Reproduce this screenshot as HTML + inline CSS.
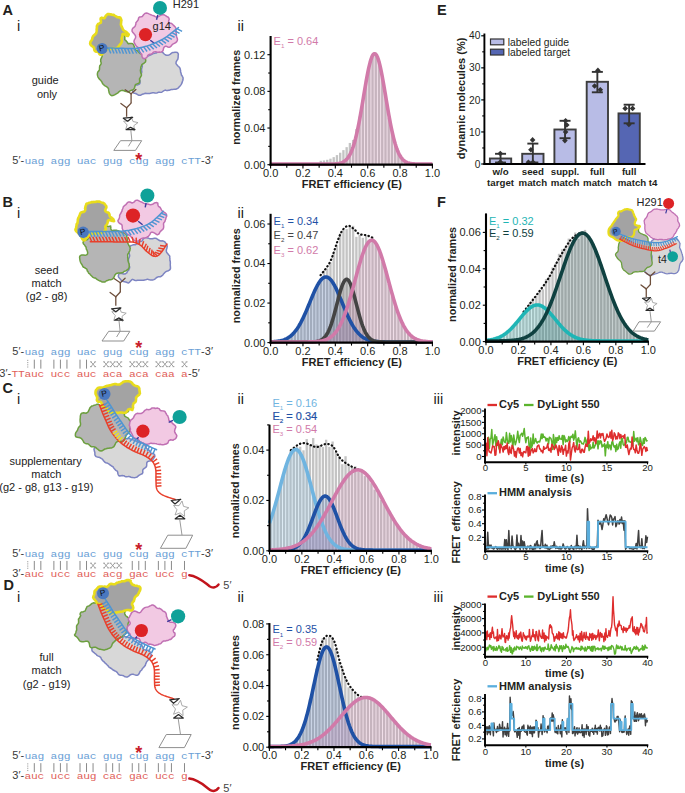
<!DOCTYPE html><html><head><meta charset="utf-8"><style>html,body{margin:0;padding:0;background:#fff;width:685px;height:793px;overflow:hidden}text{font-family:"Liberation Sans",sans-serif}</style></head><body><svg width="685" height="793" viewBox="0 0 685 793" style="position:absolute;left:0;top:0;font-family:'Liberation Sans',sans-serif">
<rect width="685" height="793" fill="#fff"/>
<rect x="319.59" y="160.77" width="2.34" height="3.93" fill="#c4c4c4"/>
<rect x="322.83" y="160.43" width="2.34" height="4.27" fill="#c4c4c4"/>
<rect x="326.06" y="159.78" width="2.34" height="4.92" fill="#c4c4c4"/>
<rect x="329.30" y="158.70" width="2.34" height="6.00" fill="#c4c4c4"/>
<rect x="332.53" y="157.13" width="2.34" height="7.57" fill="#c4c4c4"/>
<rect x="335.77" y="155.10" width="2.34" height="9.60" fill="#c4c4c4"/>
<rect x="339.01" y="152.72" width="2.34" height="11.98" fill="#c4c4c4"/>
<rect x="342.24" y="150.13" width="2.34" height="14.57" fill="#c4c4c4"/>
<rect x="345.48" y="147.15" width="2.34" height="17.55" fill="#c4c4c4"/>
<rect x="348.71" y="142.94" width="2.34" height="21.76" fill="#c4c4c4"/>
<rect x="351.95" y="139.94" width="2.34" height="24.76" fill="#c4c4c4"/>
<rect x="355.19" y="129.13" width="2.34" height="35.57" fill="#c4c4c4"/>
<rect x="358.42" y="116.63" width="2.34" height="48.07" fill="#c4c4c4"/>
<rect x="361.66" y="99.60" width="2.34" height="65.10" fill="#c4c4c4"/>
<rect x="364.89" y="79.57" width="2.34" height="85.13" fill="#c4c4c4"/>
<rect x="368.13" y="67.32" width="2.34" height="97.38" fill="#c4c4c4"/>
<rect x="371.37" y="56.55" width="2.34" height="108.15" fill="#c4c4c4"/>
<rect x="374.60" y="52.76" width="2.34" height="111.94" fill="#c4c4c4"/>
<rect x="377.84" y="61.16" width="2.34" height="103.54" fill="#c4c4c4"/>
<rect x="381.07" y="76.94" width="2.34" height="87.76" fill="#c4c4c4"/>
<rect x="384.31" y="94.83" width="2.34" height="69.87" fill="#c4c4c4"/>
<rect x="387.55" y="117.63" width="2.34" height="47.07" fill="#c4c4c4"/>
<rect x="390.78" y="130.83" width="2.34" height="33.87" fill="#c4c4c4"/>
<rect x="394.02" y="144.79" width="2.34" height="19.91" fill="#c4c4c4"/>
<rect x="397.25" y="153.66" width="2.34" height="11.04" fill="#c4c4c4"/>
<rect x="400.49" y="158.76" width="2.34" height="5.94" fill="#c4c4c4"/>
<rect x="403.73" y="161.85" width="2.34" height="2.85" fill="#c4c4c4"/>
<rect x="406.96" y="163.48" width="2.34" height="1.22" fill="#c4c4c4"/>
<rect x="410.20" y="164.22" width="2.34" height="0.48" fill="#c4c4c4"/>
<polygon points="270.60,164.70 270.60,164.70 271.41,164.70 272.22,164.70 273.03,164.70 273.84,164.70 274.65,164.70 275.45,164.70 276.26,164.70 277.07,164.70 277.88,164.70 278.69,164.70 279.50,164.70 280.31,164.70 281.12,164.70 281.93,164.70 282.74,164.70 283.54,164.70 284.35,164.70 285.16,164.70 285.97,164.70 286.78,164.70 287.59,164.70 288.40,164.70 289.21,164.70 290.02,164.70 290.83,164.70 291.63,164.70 292.44,164.70 293.25,164.70 294.06,164.70 294.87,164.70 295.68,164.70 296.49,164.70 297.30,164.70 298.11,164.70 298.92,164.70 299.72,164.70 300.53,164.70 301.34,164.70 302.15,164.70 302.96,164.70 303.77,164.70 304.58,164.70 305.39,164.70 306.20,164.70 307.00,164.70 307.81,164.70 308.62,164.70 309.43,164.70 310.24,164.70 311.05,164.70 311.86,164.70 312.67,164.70 313.48,164.70 314.29,164.70 315.10,164.70 315.90,164.70 316.71,164.70 317.52,164.70 318.33,164.70 319.14,164.70 319.95,164.70 320.76,164.70 321.57,164.70 322.38,164.70 323.19,164.70 323.99,164.70 324.80,164.69 325.61,164.69 326.42,164.69 327.23,164.69 328.04,164.68 328.85,164.68 329.66,164.67 330.47,164.66 331.28,164.64 332.08,164.62 332.89,164.60 333.70,164.57 334.51,164.53 335.32,164.48 336.13,164.41 336.94,164.33 337.75,164.23 338.56,164.10 339.37,163.95 340.17,163.76 340.98,163.53 341.79,163.24 342.60,162.90 343.41,162.49 344.22,162.00 345.03,161.42 345.84,160.74 346.65,159.93 347.46,159.00 348.26,157.92 349.07,156.67 349.88,155.25 350.69,153.63 351.50,151.80 352.31,149.75 353.12,147.46 353.93,144.93 354.74,142.15 355.55,139.11 356.35,135.80 357.16,132.25 357.97,128.45 358.78,124.41 359.59,120.16 360.40,115.72 361.21,111.12 362.02,106.39 362.83,101.58 363.64,96.73 364.44,91.89 365.25,87.11 366.06,82.46 366.87,77.98 367.68,73.73 368.49,69.78 369.30,66.18 370.11,62.97 370.92,60.21 371.73,57.93 372.53,56.18 373.34,54.98 374.15,54.34 374.96,54.28 375.77,54.80 376.58,55.90 377.39,57.54 378.20,59.71 379.01,62.38 379.82,65.50 380.62,69.03 381.43,72.92 382.24,77.11 383.05,81.55 383.86,86.17 384.67,90.93 385.48,95.76 386.29,100.61 387.10,105.44 387.91,110.18 388.71,114.81 389.52,119.29 390.33,123.58 391.14,127.66 391.95,131.51 392.76,135.11 393.57,138.47 394.38,141.56 395.19,144.40 396.00,146.98 396.80,149.31 397.61,151.41 398.42,153.28 399.23,154.94 400.04,156.40 400.85,157.68 401.66,158.80 402.47,159.76 403.28,160.59 404.09,161.29 404.89,161.89 405.70,162.40 406.51,162.82 407.32,163.18 408.13,163.47 408.94,163.72 409.75,163.91 410.56,164.08 411.37,164.21 412.18,164.31 412.98,164.40 413.79,164.46 414.60,164.52 415.41,164.56 416.22,164.59 417.03,164.62 417.84,164.64 418.65,164.65 419.46,164.67 420.27,164.67 421.07,164.68 421.88,164.69 422.69,164.69 423.50,164.69 424.31,164.69 425.12,164.70 425.93,164.70 426.74,164.70 427.55,164.70 428.36,164.70 429.16,164.70 429.97,164.70 430.78,164.70 431.59,164.70 432.40,164.70 432.40,164.70" fill="#d17aa9" fill-opacity="0.2"/>
<polyline points="270.60,164.10 271.41,164.10 272.22,164.10 273.03,164.10 273.84,164.10 274.65,164.10 275.45,164.10 276.26,164.10 277.07,164.10 277.88,164.10 278.69,164.10 279.50,164.10 280.31,164.10 281.12,164.10 281.93,164.10 282.74,164.10 283.54,164.10 284.35,164.10 285.16,164.10 285.97,164.10 286.78,164.10 287.59,164.10 288.40,164.10 289.21,164.10 290.02,164.10 290.83,164.10 291.63,164.10 292.44,164.10 293.25,164.10 294.06,164.10 294.87,164.10 295.68,164.10 296.49,164.10 297.30,164.10 298.11,164.10 298.92,164.10 299.72,164.10 300.53,164.10 301.34,164.10 302.15,164.10 302.96,164.10 303.77,164.10 304.58,164.10 305.39,164.10 306.20,164.10 307.00,164.10 307.81,164.10 308.62,164.10 309.43,164.10 310.24,164.10 311.05,164.10 311.86,164.10 312.67,164.10 313.48,164.10 314.29,164.10 315.10,164.10 315.90,164.10 316.71,164.10 317.52,164.10 318.33,164.10 319.14,164.10 319.95,164.10 320.76,164.10 321.57,164.10 322.38,164.10 323.19,164.10 323.99,164.10 324.80,164.09 325.61,164.09 326.42,164.09 327.23,164.09 328.04,164.08 328.85,164.08 329.66,164.07 330.47,164.06 331.28,164.04 332.08,164.02 332.89,164.00 333.70,163.97 334.51,163.93 335.32,163.88 336.13,163.81 336.94,163.73 337.75,163.63 338.56,163.50 339.37,163.35 340.17,163.16 340.98,162.93 341.79,162.64 342.60,162.30 343.41,161.89 344.22,161.40 345.03,160.82 345.84,160.14 346.65,159.33 347.46,158.40 348.26,157.32 349.07,156.07 349.88,154.65 350.69,153.03 351.50,151.20 352.31,149.15 353.12,146.86 353.93,144.33 354.74,141.55 355.55,138.51 356.35,135.20 357.16,131.65 357.97,127.85 358.78,123.81 359.59,119.56 360.40,115.12 361.21,110.52 362.02,105.79 362.83,100.98 363.64,96.13 364.44,91.29 365.25,86.51 366.06,81.86 366.87,77.38 367.68,73.13 368.49,69.18 369.30,65.58 370.11,62.37 370.92,59.61 371.73,57.33 372.53,55.58 373.34,54.38 374.15,53.74 374.96,53.68 375.77,54.20 376.58,55.30 377.39,56.94 378.20,59.11 379.01,61.78 379.82,64.90 380.62,68.43 381.43,72.32 382.24,76.51 383.05,80.95 383.86,85.57 384.67,90.33 385.48,95.16 386.29,100.01 387.10,104.84 387.91,109.58 388.71,114.21 389.52,118.69 390.33,122.98 391.14,127.06 391.95,130.91 392.76,134.51 393.57,137.87 394.38,140.96 395.19,143.80 396.00,146.38 396.80,148.71 397.61,150.81 398.42,152.68 399.23,154.34 400.04,155.80 400.85,157.08 401.66,158.20 402.47,159.16 403.28,159.99 404.09,160.69 404.89,161.29 405.70,161.80 406.51,162.22 407.32,162.58 408.13,162.87 408.94,163.12 409.75,163.31 410.56,163.48 411.37,163.61 412.18,163.71 412.98,163.80 413.79,163.86 414.60,163.92 415.41,163.96 416.22,163.99 417.03,164.02 417.84,164.04 418.65,164.05 419.46,164.07 420.27,164.07 421.07,164.08 421.88,164.09 422.69,164.09 423.50,164.09 424.31,164.09 425.12,164.10 425.93,164.10 426.74,164.10 427.55,164.10 428.36,164.10 429.16,164.10 429.97,164.10 430.78,164.10 431.59,164.10 432.40,164.10" fill="none" stroke="#d17aa9" stroke-width="3.6" stroke-linejoin="round"/>
<line x1="270.60" y1="36.00" x2="270.60" y2="165.80" stroke="#000" stroke-width="2.1" />
<line x1="269.60" y1="164.70" x2="433.00" y2="164.70" stroke="#000" stroke-width="2.2" />
<line x1="270.60" y1="164.70" x2="270.60" y2="168.40" stroke="#000" stroke-width="1.1" />
<line x1="286.78" y1="164.70" x2="286.78" y2="167.70" stroke="#000" stroke-width="1.1" />
<line x1="302.96" y1="164.70" x2="302.96" y2="168.40" stroke="#000" stroke-width="1.1" />
<line x1="319.14" y1="164.70" x2="319.14" y2="167.70" stroke="#000" stroke-width="1.1" />
<line x1="335.32" y1="164.70" x2="335.32" y2="168.40" stroke="#000" stroke-width="1.1" />
<line x1="351.50" y1="164.70" x2="351.50" y2="167.70" stroke="#000" stroke-width="1.1" />
<line x1="367.68" y1="164.70" x2="367.68" y2="168.40" stroke="#000" stroke-width="1.1" />
<line x1="383.86" y1="164.70" x2="383.86" y2="167.70" stroke="#000" stroke-width="1.1" />
<line x1="400.04" y1="164.70" x2="400.04" y2="168.40" stroke="#000" stroke-width="1.1" />
<line x1="416.22" y1="164.70" x2="416.22" y2="167.70" stroke="#000" stroke-width="1.1" />
<line x1="432.40" y1="164.70" x2="432.40" y2="168.40" stroke="#000" stroke-width="1.1" />
<line x1="267.40" y1="164.70" x2="270.60" y2="164.70" stroke="#000" stroke-width="1.1" />
<line x1="267.40" y1="128.03" x2="270.60" y2="128.03" stroke="#000" stroke-width="1.1" />
<line x1="267.40" y1="91.36" x2="270.60" y2="91.36" stroke="#000" stroke-width="1.1" />
<line x1="267.40" y1="54.70" x2="270.60" y2="54.70" stroke="#000" stroke-width="1.1" />
<line x1="268.20" y1="146.37" x2="270.60" y2="146.37" stroke="#000" stroke-width="1.1" />
<line x1="268.20" y1="109.70" x2="270.60" y2="109.70" stroke="#000" stroke-width="1.1" />
<line x1="268.20" y1="73.03" x2="270.60" y2="73.03" stroke="#000" stroke-width="1.1" />
<text transform="translate(265.40,168.60) scale(1,1.0)" font-size="11" font-weight="normal" text-anchor="end" fill="#231f20" >0.00</text>
<text transform="translate(265.40,131.93) scale(1,1.0)" font-size="11" font-weight="normal" text-anchor="end" fill="#231f20" >0.04</text>
<text transform="translate(265.40,95.26) scale(1,1.0)" font-size="11" font-weight="normal" text-anchor="end" fill="#231f20" >0.08</text>
<text transform="translate(265.40,58.60) scale(1,1.0)" font-size="11" font-weight="normal" text-anchor="end" fill="#231f20" >0.12</text>
<text transform="translate(270.60,176.80) scale(1,1.0)" font-size="11" font-weight="normal" text-anchor="middle" fill="#231f20" >0.0</text>
<text transform="translate(302.96,176.80) scale(1,1.0)" font-size="11" font-weight="normal" text-anchor="middle" fill="#231f20" >0.2</text>
<text transform="translate(335.32,176.80) scale(1,1.0)" font-size="11" font-weight="normal" text-anchor="middle" fill="#231f20" >0.4</text>
<text transform="translate(367.68,176.80) scale(1,1.0)" font-size="11" font-weight="normal" text-anchor="middle" fill="#231f20" >0.6</text>
<text transform="translate(400.04,176.80) scale(1,1.0)" font-size="11" font-weight="normal" text-anchor="middle" fill="#231f20" >0.8</text>
<text transform="translate(432.40,176.80) scale(1,1.0)" font-size="11" font-weight="normal" text-anchor="middle" fill="#231f20" >1.0</text>
<text transform="translate(351.90,187.80) scale(1,1.0)" font-size="11" font-weight="bold" text-anchor="middle" fill="#231f20" >FRET efficiency (E)</text>
<text transform="translate(240.30,97.20) rotate(-90) scale(1,1.0)" font-size="10.75" font-weight="bold" text-anchor="middle" fill="#231f20" >normalized frames</text>
<text transform="translate(273.60,45.10) scale(1,1.0)" font-size="11" font-weight="normal" text-anchor="start" fill="#d17aa9" >E<tspan font-size="6.2" dy="3.2">1</tspan><tspan dy="-3.2"> = 0.64</tspan></text>
<rect x="277.52" y="341.69" width="2.34" height="0.91" fill="#c4c4c4"/>
<rect x="280.76" y="340.97" width="2.34" height="1.63" fill="#c4c4c4"/>
<rect x="283.99" y="339.79" width="2.34" height="2.81" fill="#c4c4c4"/>
<rect x="287.23" y="338.18" width="2.34" height="4.42" fill="#c4c4c4"/>
<rect x="290.47" y="335.84" width="2.34" height="6.76" fill="#c4c4c4"/>
<rect x="293.70" y="332.54" width="2.34" height="10.06" fill="#c4c4c4"/>
<rect x="296.94" y="327.45" width="2.34" height="15.15" fill="#c4c4c4"/>
<rect x="300.17" y="321.09" width="2.34" height="21.51" fill="#c4c4c4"/>
<rect x="303.41" y="315.13" width="2.34" height="27.47" fill="#c4c4c4"/>
<rect x="306.65" y="309.07" width="2.34" height="33.53" fill="#c4c4c4"/>
<rect x="309.88" y="301.03" width="2.34" height="41.57" fill="#c4c4c4"/>
<rect x="313.12" y="289.47" width="2.34" height="53.13" fill="#c4c4c4"/>
<rect x="316.35" y="284.23" width="2.34" height="58.37" fill="#c4c4c4"/>
<rect x="319.59" y="278.48" width="2.34" height="64.12" fill="#c4c4c4"/>
<rect x="322.83" y="270.59" width="2.34" height="72.01" fill="#c4c4c4"/>
<rect x="326.06" y="268.53" width="2.34" height="74.07" fill="#c4c4c4"/>
<rect x="329.30" y="262.39" width="2.34" height="80.21" fill="#c4c4c4"/>
<rect x="332.53" y="253.13" width="2.34" height="89.47" fill="#c4c4c4"/>
<rect x="335.77" y="244.89" width="2.34" height="97.71" fill="#c4c4c4"/>
<rect x="339.01" y="233.45" width="2.34" height="109.15" fill="#c4c4c4"/>
<rect x="342.24" y="229.84" width="2.34" height="112.76" fill="#c4c4c4"/>
<rect x="345.48" y="229.10" width="2.34" height="113.50" fill="#c4c4c4"/>
<rect x="348.71" y="225.31" width="2.34" height="117.29" fill="#c4c4c4"/>
<rect x="351.95" y="225.83" width="2.34" height="116.77" fill="#c4c4c4"/>
<rect x="355.19" y="236.81" width="2.34" height="105.79" fill="#c4c4c4"/>
<rect x="358.42" y="234.97" width="2.34" height="107.63" fill="#c4c4c4"/>
<rect x="361.66" y="237.85" width="2.34" height="104.75" fill="#c4c4c4"/>
<rect x="364.89" y="235.77" width="2.34" height="106.83" fill="#c4c4c4"/>
<rect x="368.13" y="240.53" width="2.34" height="102.07" fill="#c4c4c4"/>
<rect x="371.37" y="238.04" width="2.34" height="104.56" fill="#c4c4c4"/>
<rect x="374.60" y="242.61" width="2.34" height="99.99" fill="#c4c4c4"/>
<rect x="377.84" y="250.37" width="2.34" height="92.23" fill="#c4c4c4"/>
<rect x="381.07" y="261.58" width="2.34" height="81.02" fill="#c4c4c4"/>
<rect x="384.31" y="270.95" width="2.34" height="71.65" fill="#c4c4c4"/>
<rect x="387.55" y="284.00" width="2.34" height="58.60" fill="#c4c4c4"/>
<rect x="390.78" y="295.82" width="2.34" height="46.78" fill="#c4c4c4"/>
<rect x="394.02" y="304.55" width="2.34" height="38.05" fill="#c4c4c4"/>
<rect x="397.25" y="315.32" width="2.34" height="27.28" fill="#c4c4c4"/>
<rect x="400.49" y="321.60" width="2.34" height="21.00" fill="#c4c4c4"/>
<rect x="403.73" y="328.25" width="2.34" height="14.35" fill="#c4c4c4"/>
<rect x="406.96" y="333.80" width="2.34" height="8.80" fill="#c4c4c4"/>
<rect x="410.20" y="336.54" width="2.34" height="6.06" fill="#c4c4c4"/>
<rect x="413.43" y="339.00" width="2.34" height="3.60" fill="#c4c4c4"/>
<rect x="416.67" y="340.38" width="2.34" height="2.22" fill="#c4c4c4"/>
<rect x="419.91" y="341.33" width="2.34" height="1.27" fill="#c4c4c4"/>
<rect x="423.14" y="341.94" width="2.34" height="0.66" fill="#c4c4c4"/>
<polygon points="270.60,342.60 270.60,342.41 271.41,342.38 272.22,342.34 273.03,342.29 273.84,342.24 274.65,342.17 275.45,342.10 276.26,342.02 277.07,341.92 277.88,341.81 278.69,341.68 279.50,341.54 280.31,341.38 281.12,341.20 281.93,340.99 282.74,340.76 283.54,340.50 284.35,340.21 285.16,339.88 285.97,339.52 286.78,339.12 287.59,338.68 288.40,338.19 289.21,337.65 290.02,337.07 290.83,336.43 291.63,335.73 292.44,334.97 293.25,334.15 294.06,333.26 294.87,332.30 295.68,331.28 296.49,330.19 297.30,329.02 298.11,327.78 298.92,326.47 299.72,325.09 300.53,323.64 301.34,322.11 302.15,320.52 302.96,318.87 303.77,317.16 304.58,315.39 305.39,313.57 306.20,311.70 307.00,309.80 307.81,307.87 308.62,305.91 309.43,303.94 310.24,301.97 311.05,300.01 311.86,298.06 312.67,296.13 313.48,294.25 314.29,292.42 315.10,290.64 315.90,288.94 316.71,287.32 317.52,285.79 318.33,284.37 319.14,283.06 319.95,281.87 320.76,280.81 321.57,279.89 322.38,279.12 323.19,278.50 323.99,278.03 324.80,277.73 325.61,277.58 326.42,277.60 327.23,277.77 328.04,278.11 328.85,278.61 329.66,279.26 330.47,280.07 331.28,281.01 332.08,282.10 332.89,283.31 333.70,284.64 334.51,286.09 335.32,287.63 336.13,289.27 336.94,290.99 337.75,292.78 338.56,294.62 339.37,296.52 340.17,298.45 340.98,300.40 341.79,302.37 342.60,304.34 343.41,306.30 344.22,308.26 345.03,310.18 345.84,312.08 346.65,313.93 347.46,315.75 348.26,317.50 349.07,319.21 349.88,320.85 350.69,322.42 351.50,323.93 352.31,325.37 353.12,326.74 353.93,328.04 354.74,329.26 355.55,330.41 356.35,331.49 357.16,332.50 357.97,333.44 358.78,334.31 359.59,335.12 360.40,335.87 361.21,336.56 362.02,337.19 362.83,337.77 363.64,338.29 364.44,338.77 365.25,339.20 366.06,339.60 366.87,339.95 367.68,340.27 368.49,340.55 369.30,340.81 370.11,341.03 370.92,341.24 371.73,341.41 372.53,341.57 373.34,341.71 374.15,341.83 374.96,341.94 375.77,342.03 376.58,342.11 377.39,342.19 378.20,342.25 379.01,342.30 379.82,342.35 380.62,342.39 381.43,342.42 382.24,342.45 383.05,342.47 383.86,342.49 384.67,342.51 385.48,342.53 386.29,342.54 387.10,342.55 387.91,342.56 388.71,342.56 389.52,342.57 390.33,342.58 391.14,342.58 391.95,342.58 392.76,342.59 393.57,342.59 394.38,342.59 395.19,342.59 396.00,342.59 396.80,342.60 397.61,342.60 398.42,342.60 399.23,342.60 400.04,342.60 400.85,342.60 401.66,342.60 402.47,342.60 403.28,342.60 404.09,342.60 404.89,342.60 405.70,342.60 406.51,342.60 407.32,342.60 408.13,342.60 408.94,342.60 409.75,342.60 410.56,342.60 411.37,342.60 412.18,342.60 412.98,342.60 413.79,342.60 414.60,342.60 415.41,342.60 416.22,342.60 417.03,342.60 417.84,342.60 418.65,342.60 419.46,342.60 420.27,342.60 421.07,342.60 421.88,342.60 422.69,342.60 423.50,342.60 424.31,342.60 425.12,342.60 425.93,342.60 426.74,342.60 427.55,342.60 428.36,342.60 429.16,342.60 429.97,342.60 430.78,342.60 431.59,342.60 432.40,342.60 432.40,342.60" fill="#1f51a5" fill-opacity="0.2"/>
<polygon points="270.60,342.60 270.60,342.60 271.41,342.60 272.22,342.60 273.03,342.60 273.84,342.60 274.65,342.60 275.45,342.60 276.26,342.60 277.07,342.60 277.88,342.60 278.69,342.60 279.50,342.60 280.31,342.60 281.12,342.60 281.93,342.60 282.74,342.60 283.54,342.60 284.35,342.60 285.16,342.60 285.97,342.60 286.78,342.60 287.59,342.60 288.40,342.60 289.21,342.60 290.02,342.60 290.83,342.60 291.63,342.60 292.44,342.60 293.25,342.60 294.06,342.60 294.87,342.60 295.68,342.60 296.49,342.60 297.30,342.60 298.11,342.60 298.92,342.60 299.72,342.60 300.53,342.60 301.34,342.60 302.15,342.60 302.96,342.60 303.77,342.60 304.58,342.59 305.39,342.59 306.20,342.59 307.00,342.58 307.81,342.58 308.62,342.57 309.43,342.56 310.24,342.54 311.05,342.52 311.86,342.50 312.67,342.46 313.48,342.42 314.29,342.36 315.10,342.28 315.90,342.18 316.71,342.06 317.52,341.90 318.33,341.71 319.14,341.47 319.95,341.17 320.76,340.81 321.57,340.37 322.38,339.85 323.19,339.22 323.99,338.48 324.80,337.61 325.61,336.61 326.42,335.45 327.23,334.12 328.04,332.62 328.85,330.93 329.66,329.05 330.47,326.98 331.28,324.71 332.08,322.26 332.89,319.63 333.70,316.84 334.51,313.91 335.32,310.87 336.13,307.75 336.94,304.59 337.75,301.43 338.56,298.32 339.37,295.30 340.17,292.42 340.98,289.74 341.79,287.30 342.60,285.15 343.41,283.32 344.22,281.87 345.03,280.80 345.84,280.16 346.65,279.94 347.46,280.16 348.26,280.80 349.07,281.87 349.88,283.32 350.69,285.15 351.50,287.30 352.31,289.74 353.12,292.42 353.93,295.30 354.74,298.32 355.55,301.43 356.35,304.59 357.16,307.75 357.97,310.87 358.78,313.91 359.59,316.84 360.40,319.63 361.21,322.26 362.02,324.71 362.83,326.98 363.64,329.05 364.44,330.93 365.25,332.62 366.06,334.12 366.87,335.45 367.68,336.61 368.49,337.61 369.30,338.48 370.11,339.22 370.92,339.85 371.73,340.37 372.53,340.81 373.34,341.17 374.15,341.47 374.96,341.71 375.77,341.90 376.58,342.06 377.39,342.18 378.20,342.28 379.01,342.36 379.82,342.42 380.62,342.46 381.43,342.50 382.24,342.52 383.05,342.54 383.86,342.56 384.67,342.57 385.48,342.58 386.29,342.58 387.10,342.59 387.91,342.59 388.71,342.59 389.52,342.60 390.33,342.60 391.14,342.60 391.95,342.60 392.76,342.60 393.57,342.60 394.38,342.60 395.19,342.60 396.00,342.60 396.80,342.60 397.61,342.60 398.42,342.60 399.23,342.60 400.04,342.60 400.85,342.60 401.66,342.60 402.47,342.60 403.28,342.60 404.09,342.60 404.89,342.60 405.70,342.60 406.51,342.60 407.32,342.60 408.13,342.60 408.94,342.60 409.75,342.60 410.56,342.60 411.37,342.60 412.18,342.60 412.98,342.60 413.79,342.60 414.60,342.60 415.41,342.60 416.22,342.60 417.03,342.60 417.84,342.60 418.65,342.60 419.46,342.60 420.27,342.60 421.07,342.60 421.88,342.60 422.69,342.60 423.50,342.60 424.31,342.60 425.12,342.60 425.93,342.60 426.74,342.60 427.55,342.60 428.36,342.60 429.16,342.60 429.97,342.60 430.78,342.60 431.59,342.60 432.40,342.60 432.40,342.60" fill="#444" fill-opacity="0.2"/>
<polygon points="270.60,342.60 270.60,342.60 271.41,342.60 272.22,342.60 273.03,342.60 273.84,342.60 274.65,342.60 275.45,342.60 276.26,342.60 277.07,342.60 277.88,342.60 278.69,342.60 279.50,342.60 280.31,342.60 281.12,342.60 281.93,342.60 282.74,342.60 283.54,342.60 284.35,342.60 285.16,342.60 285.97,342.60 286.78,342.60 287.59,342.60 288.40,342.60 289.21,342.60 290.02,342.60 290.83,342.60 291.63,342.60 292.44,342.60 293.25,342.60 294.06,342.60 294.87,342.60 295.68,342.60 296.49,342.60 297.30,342.60 298.11,342.59 298.92,342.59 299.72,342.59 300.53,342.59 301.34,342.59 302.15,342.58 302.96,342.58 303.77,342.58 304.58,342.57 305.39,342.56 306.20,342.56 307.00,342.55 307.81,342.53 308.62,342.52 309.43,342.51 310.24,342.49 311.05,342.47 311.86,342.44 312.67,342.41 313.48,342.37 314.29,342.33 315.10,342.28 315.90,342.23 316.71,342.16 317.52,342.09 318.33,342.00 319.14,341.90 319.95,341.78 320.76,341.65 321.57,341.50 322.38,341.33 323.19,341.14 323.99,340.92 324.80,340.67 325.61,340.39 326.42,340.07 327.23,339.72 328.04,339.32 328.85,338.88 329.66,338.39 330.47,337.85 331.28,337.25 332.08,336.59 332.89,335.86 333.70,335.06 334.51,334.19 335.32,333.23 336.13,332.20 336.94,331.08 337.75,329.86 338.56,328.55 339.37,327.15 340.17,325.64 340.98,324.03 341.79,322.31 342.60,320.49 343.41,318.56 344.22,316.53 345.03,314.38 345.84,312.14 346.65,309.79 347.46,307.35 348.26,304.81 349.07,302.18 349.88,299.48 350.69,296.70 351.50,293.85 352.31,290.96 353.12,288.02 353.93,285.05 354.74,282.05 355.55,279.06 356.35,276.07 357.16,273.10 357.97,270.18 358.78,267.31 359.59,264.51 360.40,261.79 361.21,259.18 362.02,256.69 362.83,254.33 363.64,252.11 364.44,250.07 365.25,248.19 366.06,246.51 366.87,245.03 367.68,243.75 368.49,242.70 369.30,241.87 370.11,241.28 370.92,240.92 371.73,240.80 372.53,240.92 373.34,241.28 374.15,241.87 374.96,242.70 375.77,243.75 376.58,245.03 377.39,246.51 378.20,248.19 379.01,250.07 379.82,252.11 380.62,254.33 381.43,256.69 382.24,259.18 383.05,261.79 383.86,264.51 384.67,267.31 385.48,270.18 386.29,273.10 387.10,276.07 387.91,279.06 388.71,282.05 389.52,285.05 390.33,288.02 391.14,290.96 391.95,293.85 392.76,296.70 393.57,299.48 394.38,302.18 395.19,304.81 396.00,307.35 396.80,309.79 397.61,312.14 398.42,314.38 399.23,316.53 400.04,318.56 400.85,320.49 401.66,322.31 402.47,324.03 403.28,325.64 404.09,327.15 404.89,328.55 405.70,329.86 406.51,331.08 407.32,332.20 408.13,333.23 408.94,334.19 409.75,335.06 410.56,335.86 411.37,336.59 412.18,337.25 412.98,337.85 413.79,338.39 414.60,338.88 415.41,339.32 416.22,339.72 417.03,340.07 417.84,340.39 418.65,340.67 419.46,340.92 420.27,341.14 421.07,341.33 421.88,341.50 422.69,341.65 423.50,341.78 424.31,341.90 425.12,342.00 425.93,342.09 426.74,342.16 427.55,342.23 428.36,342.28 429.16,342.33 429.97,342.37 430.78,342.41 431.59,342.44 432.40,342.47 432.40,342.60" fill="#d17aa9" fill-opacity="0.2"/>
<polyline points="320.60,275.19 321.35,274.20 322.36,272.94 323.58,271.44 324.91,269.75 326.31,267.89 327.69,265.91 328.99,263.86 330.14,261.75 331.18,259.47 332.18,256.93 333.15,254.21 334.08,251.41 334.97,248.64 335.83,245.98 336.64,243.53 337.42,241.39 338.14,239.54 338.78,237.86 339.37,236.35 339.93,234.98 340.48,233.73 341.04,232.59 341.63,231.52 342.28,230.52 342.97,229.58 343.69,228.71 344.44,227.93 345.20,227.25 345.97,226.68 346.74,226.24 347.51,225.93 348.26,225.78 349.02,225.82 349.78,226.06 350.55,226.45 351.32,226.96 352.08,227.55 352.82,228.17 353.55,228.78 354.25,229.34 354.91,229.90 355.52,230.52 356.11,231.18 356.69,231.86 357.27,232.51 357.89,233.12 358.55,233.65 359.27,234.08 360.06,234.39 360.92,234.60 361.83,234.73 362.77,234.82 363.71,234.89 364.64,234.97 365.54,235.08 366.39,235.27 367.23,235.52 368.10,235.83 368.98,236.17 369.82,236.53 370.62,236.87 371.32,237.18 371.92,237.45 372.37,237.64" fill="none" stroke="#111" stroke-width="2.2" stroke-dasharray="0.4,3.3" stroke-linecap="round"/>
<polyline points="270.60,341.81 271.41,341.78 272.22,341.74 273.03,341.69 273.84,341.64 274.65,341.57 275.45,341.50 276.26,341.42 277.07,341.32 277.88,341.21 278.69,341.08 279.50,340.94 280.31,340.78 281.12,340.60 281.93,340.39 282.74,340.16 283.54,339.90 284.35,339.61 285.16,339.28 285.97,338.92 286.78,338.52 287.59,338.08 288.40,337.59 289.21,337.05 290.02,336.47 290.83,335.83 291.63,335.13 292.44,334.37 293.25,333.55 294.06,332.66 294.87,331.70 295.68,330.68 296.49,329.59 297.30,328.42 298.11,327.18 298.92,325.87 299.72,324.49 300.53,323.04 301.34,321.51 302.15,319.92 302.96,318.27 303.77,316.56 304.58,314.79 305.39,312.97 306.20,311.10 307.00,309.20 307.81,307.27 308.62,305.31 309.43,303.34 310.24,301.37 311.05,299.41 311.86,297.46 312.67,295.53 313.48,293.65 314.29,291.82 315.10,290.04 315.90,288.34 316.71,286.72 317.52,285.19 318.33,283.77 319.14,282.46 319.95,281.27 320.76,280.21 321.57,279.29 322.38,278.52 323.19,277.90 323.99,277.43 324.80,277.13 325.61,276.98 326.42,277.00 327.23,277.17 328.04,277.51 328.85,278.01 329.66,278.66 330.47,279.47 331.28,280.41 332.08,281.50 332.89,282.71 333.70,284.04 334.51,285.49 335.32,287.03 336.13,288.67 336.94,290.39 337.75,292.18 338.56,294.02 339.37,295.92 340.17,297.85 340.98,299.80 341.79,301.77 342.60,303.74 343.41,305.70 344.22,307.66 345.03,309.58 345.84,311.48 346.65,313.33 347.46,315.15 348.26,316.90 349.07,318.61 349.88,320.25 350.69,321.82 351.50,323.33 352.31,324.77 353.12,326.14 353.93,327.44 354.74,328.66 355.55,329.81 356.35,330.89 357.16,331.90 357.97,332.84 358.78,333.71 359.59,334.52 360.40,335.27 361.21,335.96 362.02,336.59 362.83,337.17 363.64,337.69 364.44,338.17 365.25,338.60 366.06,339.00 366.87,339.35 367.68,339.67 368.49,339.95 369.30,340.21 370.11,340.43 370.92,340.64 371.73,340.81 372.53,340.97 373.34,341.11 374.15,341.23 374.96,341.34 375.77,341.43 376.58,341.51 377.39,341.59 378.20,341.65 379.01,341.70 379.82,341.75 380.62,341.79 381.43,341.82 382.24,341.85 383.05,341.87 383.86,341.89 384.67,341.91 385.48,341.93 386.29,341.94 387.10,341.95 387.91,341.96 388.71,341.96 389.52,341.97 390.33,341.98 391.14,341.98 391.95,341.98 392.76,341.99 393.57,341.99 394.38,341.99 395.19,341.99 396.00,341.99 396.80,342.00 397.61,342.00 398.42,342.00 399.23,342.00 400.04,342.00 400.85,342.00 401.66,342.00 402.47,342.00 403.28,342.00 404.09,342.00 404.89,342.00 405.70,342.00 406.51,342.00 407.32,342.00 408.13,342.00 408.94,342.00 409.75,342.00 410.56,342.00 411.37,342.00 412.18,342.00 412.98,342.00 413.79,342.00 414.60,342.00 415.41,342.00 416.22,342.00 417.03,342.00 417.84,342.00 418.65,342.00 419.46,342.00 420.27,342.00 421.07,342.00 421.88,342.00 422.69,342.00 423.50,342.00 424.31,342.00 425.12,342.00 425.93,342.00 426.74,342.00 427.55,342.00 428.36,342.00 429.16,342.00 429.97,342.00 430.78,342.00 431.59,342.00 432.40,342.00" fill="none" stroke="#1f51a5" stroke-width="3.6" stroke-linejoin="round"/>
<polyline points="270.60,342.00 271.41,342.00 272.22,342.00 273.03,342.00 273.84,342.00 274.65,342.00 275.45,342.00 276.26,342.00 277.07,342.00 277.88,342.00 278.69,342.00 279.50,342.00 280.31,342.00 281.12,342.00 281.93,342.00 282.74,342.00 283.54,342.00 284.35,342.00 285.16,342.00 285.97,342.00 286.78,342.00 287.59,342.00 288.40,342.00 289.21,342.00 290.02,342.00 290.83,342.00 291.63,342.00 292.44,342.00 293.25,342.00 294.06,342.00 294.87,342.00 295.68,342.00 296.49,342.00 297.30,342.00 298.11,342.00 298.92,342.00 299.72,342.00 300.53,342.00 301.34,342.00 302.15,342.00 302.96,342.00 303.77,342.00 304.58,341.99 305.39,341.99 306.20,341.99 307.00,341.98 307.81,341.98 308.62,341.97 309.43,341.96 310.24,341.94 311.05,341.92 311.86,341.90 312.67,341.86 313.48,341.82 314.29,341.76 315.10,341.68 315.90,341.58 316.71,341.46 317.52,341.30 318.33,341.11 319.14,340.87 319.95,340.57 320.76,340.21 321.57,339.77 322.38,339.25 323.19,338.62 323.99,337.88 324.80,337.01 325.61,336.01 326.42,334.85 327.23,333.52 328.04,332.02 328.85,330.33 329.66,328.45 330.47,326.38 331.28,324.11 332.08,321.66 332.89,319.03 333.70,316.24 334.51,313.31 335.32,310.27 336.13,307.15 336.94,303.99 337.75,300.83 338.56,297.72 339.37,294.70 340.17,291.82 340.98,289.14 341.79,286.70 342.60,284.55 343.41,282.72 344.22,281.27 345.03,280.20 345.84,279.56 346.65,279.34 347.46,279.56 348.26,280.20 349.07,281.27 349.88,282.72 350.69,284.55 351.50,286.70 352.31,289.14 353.12,291.82 353.93,294.70 354.74,297.72 355.55,300.83 356.35,303.99 357.16,307.15 357.97,310.27 358.78,313.31 359.59,316.24 360.40,319.03 361.21,321.66 362.02,324.11 362.83,326.38 363.64,328.45 364.44,330.33 365.25,332.02 366.06,333.52 366.87,334.85 367.68,336.01 368.49,337.01 369.30,337.88 370.11,338.62 370.92,339.25 371.73,339.77 372.53,340.21 373.34,340.57 374.15,340.87 374.96,341.11 375.77,341.30 376.58,341.46 377.39,341.58 378.20,341.68 379.01,341.76 379.82,341.82 380.62,341.86 381.43,341.90 382.24,341.92 383.05,341.94 383.86,341.96 384.67,341.97 385.48,341.98 386.29,341.98 387.10,341.99 387.91,341.99 388.71,341.99 389.52,342.00 390.33,342.00 391.14,342.00 391.95,342.00 392.76,342.00 393.57,342.00 394.38,342.00 395.19,342.00 396.00,342.00 396.80,342.00 397.61,342.00 398.42,342.00 399.23,342.00 400.04,342.00 400.85,342.00 401.66,342.00 402.47,342.00 403.28,342.00 404.09,342.00 404.89,342.00 405.70,342.00 406.51,342.00 407.32,342.00 408.13,342.00 408.94,342.00 409.75,342.00 410.56,342.00 411.37,342.00 412.18,342.00 412.98,342.00 413.79,342.00 414.60,342.00 415.41,342.00 416.22,342.00 417.03,342.00 417.84,342.00 418.65,342.00 419.46,342.00 420.27,342.00 421.07,342.00 421.88,342.00 422.69,342.00 423.50,342.00 424.31,342.00 425.12,342.00 425.93,342.00 426.74,342.00 427.55,342.00 428.36,342.00 429.16,342.00 429.97,342.00 430.78,342.00 431.59,342.00 432.40,342.00" fill="none" stroke="#444" stroke-width="3.6" stroke-linejoin="round"/>
<polyline points="270.60,342.00 271.41,342.00 272.22,342.00 273.03,342.00 273.84,342.00 274.65,342.00 275.45,342.00 276.26,342.00 277.07,342.00 277.88,342.00 278.69,342.00 279.50,342.00 280.31,342.00 281.12,342.00 281.93,342.00 282.74,342.00 283.54,342.00 284.35,342.00 285.16,342.00 285.97,342.00 286.78,342.00 287.59,342.00 288.40,342.00 289.21,342.00 290.02,342.00 290.83,342.00 291.63,342.00 292.44,342.00 293.25,342.00 294.06,342.00 294.87,342.00 295.68,342.00 296.49,342.00 297.30,342.00 298.11,341.99 298.92,341.99 299.72,341.99 300.53,341.99 301.34,341.99 302.15,341.98 302.96,341.98 303.77,341.98 304.58,341.97 305.39,341.96 306.20,341.96 307.00,341.95 307.81,341.93 308.62,341.92 309.43,341.91 310.24,341.89 311.05,341.87 311.86,341.84 312.67,341.81 313.48,341.77 314.29,341.73 315.10,341.68 315.90,341.63 316.71,341.56 317.52,341.49 318.33,341.40 319.14,341.30 319.95,341.18 320.76,341.05 321.57,340.90 322.38,340.73 323.19,340.54 323.99,340.32 324.80,340.07 325.61,339.79 326.42,339.47 327.23,339.12 328.04,338.72 328.85,338.28 329.66,337.79 330.47,337.25 331.28,336.65 332.08,335.99 332.89,335.26 333.70,334.46 334.51,333.59 335.32,332.63 336.13,331.60 336.94,330.48 337.75,329.26 338.56,327.95 339.37,326.55 340.17,325.04 340.98,323.43 341.79,321.71 342.60,319.89 343.41,317.96 344.22,315.93 345.03,313.78 345.84,311.54 346.65,309.19 347.46,306.75 348.26,304.21 349.07,301.58 349.88,298.88 350.69,296.10 351.50,293.25 352.31,290.36 353.12,287.42 353.93,284.45 354.74,281.45 355.55,278.46 356.35,275.47 357.16,272.50 357.97,269.58 358.78,266.71 359.59,263.91 360.40,261.19 361.21,258.58 362.02,256.09 362.83,253.73 363.64,251.51 364.44,249.47 365.25,247.59 366.06,245.91 366.87,244.43 367.68,243.15 368.49,242.10 369.30,241.27 370.11,240.68 370.92,240.32 371.73,240.20 372.53,240.32 373.34,240.68 374.15,241.27 374.96,242.10 375.77,243.15 376.58,244.43 377.39,245.91 378.20,247.59 379.01,249.47 379.82,251.51 380.62,253.73 381.43,256.09 382.24,258.58 383.05,261.19 383.86,263.91 384.67,266.71 385.48,269.58 386.29,272.50 387.10,275.47 387.91,278.46 388.71,281.45 389.52,284.45 390.33,287.42 391.14,290.36 391.95,293.25 392.76,296.10 393.57,298.88 394.38,301.58 395.19,304.21 396.00,306.75 396.80,309.19 397.61,311.54 398.42,313.78 399.23,315.93 400.04,317.96 400.85,319.89 401.66,321.71 402.47,323.43 403.28,325.04 404.09,326.55 404.89,327.95 405.70,329.26 406.51,330.48 407.32,331.60 408.13,332.63 408.94,333.59 409.75,334.46 410.56,335.26 411.37,335.99 412.18,336.65 412.98,337.25 413.79,337.79 414.60,338.28 415.41,338.72 416.22,339.12 417.03,339.47 417.84,339.79 418.65,340.07 419.46,340.32 420.27,340.54 421.07,340.73 421.88,340.90 422.69,341.05 423.50,341.18 424.31,341.30 425.12,341.40 425.93,341.49 426.74,341.56 427.55,341.63 428.36,341.68 429.16,341.73 429.97,341.77 430.78,341.81 431.59,341.84 432.40,341.87" fill="none" stroke="#d17aa9" stroke-width="3.6" stroke-linejoin="round"/>
<line x1="270.60" y1="213.80" x2="270.60" y2="343.70" stroke="#000" stroke-width="2.1" />
<line x1="269.60" y1="342.60" x2="433.00" y2="342.60" stroke="#000" stroke-width="2.2" />
<line x1="270.60" y1="342.60" x2="270.60" y2="346.30" stroke="#000" stroke-width="1.1" />
<line x1="286.78" y1="342.60" x2="286.78" y2="345.60" stroke="#000" stroke-width="1.1" />
<line x1="302.96" y1="342.60" x2="302.96" y2="346.30" stroke="#000" stroke-width="1.1" />
<line x1="319.14" y1="342.60" x2="319.14" y2="345.60" stroke="#000" stroke-width="1.1" />
<line x1="335.32" y1="342.60" x2="335.32" y2="346.30" stroke="#000" stroke-width="1.1" />
<line x1="351.50" y1="342.60" x2="351.50" y2="345.60" stroke="#000" stroke-width="1.1" />
<line x1="367.68" y1="342.60" x2="367.68" y2="346.30" stroke="#000" stroke-width="1.1" />
<line x1="383.86" y1="342.60" x2="383.86" y2="345.60" stroke="#000" stroke-width="1.1" />
<line x1="400.04" y1="342.60" x2="400.04" y2="346.30" stroke="#000" stroke-width="1.1" />
<line x1="416.22" y1="342.60" x2="416.22" y2="345.60" stroke="#000" stroke-width="1.1" />
<line x1="432.40" y1="342.60" x2="432.40" y2="346.30" stroke="#000" stroke-width="1.1" />
<line x1="267.40" y1="342.60" x2="270.60" y2="342.60" stroke="#000" stroke-width="1.1" />
<line x1="267.40" y1="303.07" x2="270.60" y2="303.07" stroke="#000" stroke-width="1.1" />
<line x1="267.40" y1="263.53" x2="270.60" y2="263.53" stroke="#000" stroke-width="1.1" />
<line x1="267.40" y1="224.00" x2="270.60" y2="224.00" stroke="#000" stroke-width="1.1" />
<line x1="268.20" y1="322.83" x2="270.60" y2="322.83" stroke="#000" stroke-width="1.1" />
<line x1="268.20" y1="283.30" x2="270.60" y2="283.30" stroke="#000" stroke-width="1.1" />
<line x1="268.20" y1="243.77" x2="270.60" y2="243.77" stroke="#000" stroke-width="1.1" />
<text transform="translate(265.40,346.50) scale(1,1.0)" font-size="11" font-weight="normal" text-anchor="end" fill="#231f20" >0.00</text>
<text transform="translate(265.40,306.97) scale(1,1.0)" font-size="11" font-weight="normal" text-anchor="end" fill="#231f20" >0.02</text>
<text transform="translate(265.40,267.43) scale(1,1.0)" font-size="11" font-weight="normal" text-anchor="end" fill="#231f20" >0.04</text>
<text transform="translate(265.40,227.90) scale(1,1.0)" font-size="11" font-weight="normal" text-anchor="end" fill="#231f20" >0.06</text>
<text transform="translate(270.60,354.70) scale(1,1.0)" font-size="11" font-weight="normal" text-anchor="middle" fill="#231f20" >0.0</text>
<text transform="translate(302.96,354.70) scale(1,1.0)" font-size="11" font-weight="normal" text-anchor="middle" fill="#231f20" >0.2</text>
<text transform="translate(335.32,354.70) scale(1,1.0)" font-size="11" font-weight="normal" text-anchor="middle" fill="#231f20" >0.4</text>
<text transform="translate(367.68,354.70) scale(1,1.0)" font-size="11" font-weight="normal" text-anchor="middle" fill="#231f20" >0.6</text>
<text transform="translate(400.04,354.70) scale(1,1.0)" font-size="11" font-weight="normal" text-anchor="middle" fill="#231f20" >0.8</text>
<text transform="translate(432.40,354.70) scale(1,1.0)" font-size="11" font-weight="normal" text-anchor="middle" fill="#231f20" >1.0</text>
<text transform="translate(351.90,365.70) scale(1,1.0)" font-size="11" font-weight="bold" text-anchor="middle" fill="#231f20" >FRET efficiency (E)</text>
<text transform="translate(240.30,275.70) rotate(-90) scale(1,1.0)" font-size="10.75" font-weight="bold" text-anchor="middle" fill="#231f20" >normalized frames</text>
<text transform="translate(273.60,224.50) scale(1,1.0)" font-size="11" font-weight="normal" text-anchor="start" fill="#1f51a5" >E<tspan font-size="6.2" dy="3.2">1</tspan><tspan dy="-3.2"> = 0.34</tspan></text>
<text transform="translate(273.60,239.00) scale(1,1.0)" font-size="11" font-weight="normal" text-anchor="start" fill="#444" >E<tspan font-size="6.2" dy="3.2">2</tspan><tspan dy="-3.2"> = 0.47</tspan></text>
<text transform="translate(273.60,253.50) scale(1,1.0)" font-size="11" font-weight="normal" text-anchor="start" fill="#d17aa9" >E<tspan font-size="6.2" dy="3.2">3</tspan><tspan dy="-3.2"> = 0.62</tspan></text>
<rect x="269.95" y="519.55" width="2.34" height="31.25" fill="#c4c4c4"/>
<rect x="273.19" y="507.89" width="2.34" height="42.91" fill="#c4c4c4"/>
<rect x="276.42" y="499.03" width="2.34" height="51.77" fill="#c4c4c4"/>
<rect x="279.66" y="482.48" width="2.34" height="68.32" fill="#c4c4c4"/>
<rect x="282.89" y="468.79" width="2.34" height="82.01" fill="#c4c4c4"/>
<rect x="286.13" y="461.65" width="2.34" height="89.15" fill="#c4c4c4"/>
<rect x="289.37" y="450.14" width="2.34" height="100.66" fill="#c4c4c4"/>
<rect x="292.60" y="447.27" width="2.34" height="103.53" fill="#c4c4c4"/>
<rect x="295.84" y="447.01" width="2.34" height="103.79" fill="#c4c4c4"/>
<rect x="299.07" y="446.76" width="2.34" height="104.04" fill="#c4c4c4"/>
<rect x="302.31" y="450.30" width="2.34" height="100.50" fill="#c4c4c4"/>
<rect x="305.55" y="439.08" width="2.34" height="111.72" fill="#c4c4c4"/>
<rect x="308.78" y="444.94" width="2.34" height="105.86" fill="#c4c4c4"/>
<rect x="312.02" y="438.03" width="2.34" height="112.77" fill="#c4c4c4"/>
<rect x="315.25" y="444.46" width="2.34" height="106.34" fill="#c4c4c4"/>
<rect x="318.49" y="445.13" width="2.34" height="105.67" fill="#c4c4c4"/>
<rect x="321.73" y="447.07" width="2.34" height="103.73" fill="#c4c4c4"/>
<rect x="324.96" y="439.72" width="2.34" height="111.08" fill="#c4c4c4"/>
<rect x="328.20" y="446.89" width="2.34" height="103.91" fill="#c4c4c4"/>
<rect x="331.43" y="441.49" width="2.34" height="109.31" fill="#c4c4c4"/>
<rect x="334.67" y="452.33" width="2.34" height="98.47" fill="#c4c4c4"/>
<rect x="337.91" y="455.99" width="2.34" height="94.81" fill="#c4c4c4"/>
<rect x="341.14" y="464.21" width="2.34" height="86.59" fill="#c4c4c4"/>
<rect x="344.38" y="456.21" width="2.34" height="94.59" fill="#c4c4c4"/>
<rect x="347.61" y="465.01" width="2.34" height="85.79" fill="#c4c4c4"/>
<rect x="350.85" y="467.60" width="2.34" height="83.20" fill="#c4c4c4"/>
<rect x="354.09" y="466.16" width="2.34" height="84.64" fill="#c4c4c4"/>
<rect x="357.32" y="471.87" width="2.34" height="78.93" fill="#c4c4c4"/>
<rect x="360.56" y="469.02" width="2.34" height="81.78" fill="#c4c4c4"/>
<rect x="363.79" y="476.07" width="2.34" height="74.73" fill="#c4c4c4"/>
<rect x="367.03" y="475.54" width="2.34" height="75.26" fill="#c4c4c4"/>
<rect x="370.27" y="483.21" width="2.34" height="67.59" fill="#c4c4c4"/>
<rect x="373.50" y="489.61" width="2.34" height="61.19" fill="#c4c4c4"/>
<rect x="376.74" y="492.66" width="2.34" height="58.14" fill="#c4c4c4"/>
<rect x="379.97" y="499.88" width="2.34" height="50.92" fill="#c4c4c4"/>
<rect x="383.21" y="502.83" width="2.34" height="47.97" fill="#c4c4c4"/>
<rect x="386.45" y="509.62" width="2.34" height="41.18" fill="#c4c4c4"/>
<rect x="389.68" y="514.92" width="2.34" height="35.88" fill="#c4c4c4"/>
<rect x="392.92" y="520.84" width="2.34" height="29.96" fill="#c4c4c4"/>
<rect x="396.15" y="526.20" width="2.34" height="24.60" fill="#c4c4c4"/>
<rect x="399.39" y="530.41" width="2.34" height="20.39" fill="#c4c4c4"/>
<rect x="402.63" y="533.85" width="2.34" height="16.95" fill="#c4c4c4"/>
<rect x="405.86" y="537.82" width="2.34" height="12.98" fill="#c4c4c4"/>
<rect x="409.10" y="540.83" width="2.34" height="9.97" fill="#c4c4c4"/>
<rect x="412.33" y="543.17" width="2.34" height="7.63" fill="#c4c4c4"/>
<rect x="415.57" y="544.89" width="2.34" height="5.91" fill="#c4c4c4"/>
<rect x="418.81" y="546.46" width="2.34" height="4.34" fill="#c4c4c4"/>
<rect x="422.04" y="547.35" width="2.34" height="3.45" fill="#c4c4c4"/>
<rect x="425.28" y="548.52" width="2.34" height="2.28" fill="#c4c4c4"/>
<rect x="428.51" y="549.18" width="2.34" height="1.62" fill="#c4c4c4"/>
<polygon points="269.50,550.80 269.50,523.69 270.31,521.44 271.12,519.08 271.93,516.62 272.74,514.06 273.55,511.40 274.35,508.66 275.16,505.84 275.97,502.96 276.78,500.01 277.59,497.02 278.40,493.99 279.21,490.94 280.02,487.89 280.83,484.85 281.63,481.83 282.44,478.85 283.25,475.93 284.06,473.09 284.87,470.35 285.68,467.71 286.49,465.20 287.30,462.83 288.11,460.63 288.92,458.60 289.73,456.76 290.53,455.13 291.34,453.70 292.15,452.51 292.96,451.54 293.77,450.82 294.58,450.35 295.39,450.12 296.20,450.15 297.01,450.42 297.81,450.95 298.62,451.72 299.43,452.73 300.24,453.97 301.05,455.44 301.86,457.11 302.67,458.99 303.48,461.06 304.29,463.30 305.10,465.69 305.90,468.23 306.71,470.89 307.52,473.65 308.33,476.51 309.14,479.44 309.95,482.43 310.76,485.45 311.57,488.50 312.38,491.55 313.19,494.60 314.00,497.62 314.80,500.60 315.61,503.54 316.42,506.41 317.23,509.22 318.04,511.94 318.85,514.58 319.66,517.12 320.47,519.56 321.28,521.90 322.09,524.13 322.89,526.24 323.70,528.25 324.51,530.15 325.32,531.93 326.13,533.60 326.94,535.16 327.75,536.62 328.56,537.97 329.37,539.22 330.18,540.38 330.98,541.44 331.79,542.42 332.60,543.31 333.41,544.13 334.22,544.87 335.03,545.54 335.84,546.15 336.65,546.70 337.46,547.19 338.26,547.63 339.07,548.02 339.88,548.38 340.69,548.69 341.50,548.96 342.31,549.21 343.12,549.42 343.93,549.61 344.74,549.78 345.55,549.92 346.36,550.05 347.16,550.16 347.97,550.25 348.78,550.34 349.59,550.41 350.40,550.47 351.21,550.52 352.02,550.56 352.83,550.60 353.64,550.63 354.44,550.66 355.25,550.68 356.06,550.70 356.87,550.72 357.68,550.73 358.49,550.75 359.30,550.76 360.11,550.76 360.92,550.77 361.73,550.78 362.54,550.78 363.34,550.78 364.15,550.79 364.96,550.79 365.77,550.79 366.58,550.79 367.39,550.79 368.20,550.80 369.01,550.80 369.82,550.80 370.62,550.80 371.43,550.80 372.24,550.80 373.05,550.80 373.86,550.80 374.67,550.80 375.48,550.80 376.29,550.80 377.10,550.80 377.91,550.80 378.72,550.80 379.52,550.80 380.33,550.80 381.14,550.80 381.95,550.80 382.76,550.80 383.57,550.80 384.38,550.80 385.19,550.80 386.00,550.80 386.81,550.80 387.61,550.80 388.42,550.80 389.23,550.80 390.04,550.80 390.85,550.80 391.66,550.80 392.47,550.80 393.28,550.80 394.09,550.80 394.89,550.80 395.70,550.80 396.51,550.80 397.32,550.80 398.13,550.80 398.94,550.80 399.75,550.80 400.56,550.80 401.37,550.80 402.18,550.80 402.99,550.80 403.79,550.80 404.60,550.80 405.41,550.80 406.22,550.80 407.03,550.80 407.84,550.80 408.65,550.80 409.46,550.80 410.27,550.80 411.08,550.80 411.88,550.80 412.69,550.80 413.50,550.80 414.31,550.80 415.12,550.80 415.93,550.80 416.74,550.80 417.55,550.80 418.36,550.80 419.17,550.80 419.97,550.80 420.78,550.80 421.59,550.80 422.40,550.80 423.21,550.80 424.02,550.80 424.83,550.80 425.64,550.80 426.45,550.80 427.25,550.80 428.06,550.80 428.87,550.80 429.68,550.80 430.49,550.80 431.30,550.80 431.30,550.80" fill="#6fb4e0" fill-opacity="0.2"/>
<polygon points="269.50,550.80 269.50,550.80 270.31,550.80 271.12,550.80 271.93,550.80 272.74,550.80 273.55,550.79 274.35,550.79 275.16,550.79 275.97,550.79 276.78,550.78 277.59,550.78 278.40,550.77 279.21,550.76 280.02,550.75 280.83,550.73 281.63,550.71 282.44,550.69 283.25,550.66 284.06,550.63 284.87,550.58 285.68,550.53 286.49,550.46 287.30,550.38 288.11,550.29 288.92,550.17 289.73,550.04 290.53,549.88 291.34,549.69 292.15,549.46 292.96,549.20 293.77,548.89 294.58,548.54 295.39,548.13 296.20,547.66 297.01,547.13 297.81,546.53 298.62,545.84 299.43,545.08 300.24,544.23 301.05,543.28 301.86,542.23 302.67,541.08 303.48,539.83 304.29,538.47 305.10,537.00 305.90,535.43 306.71,533.75 307.52,531.97 308.33,530.10 309.14,528.15 309.95,526.12 310.76,524.03 311.57,521.89 312.38,519.72 313.19,517.53 314.00,515.35 314.80,513.19 315.61,511.08 316.42,509.03 317.23,507.08 318.04,505.23 318.85,503.52 319.66,501.96 320.47,500.57 321.28,499.38 322.09,498.38 322.89,497.61 323.70,497.06 324.51,496.75 325.32,496.68 326.13,496.85 326.94,497.25 327.75,497.89 328.56,498.75 329.37,499.83 330.18,501.11 330.98,502.56 331.79,504.19 332.60,505.95 333.41,507.85 334.22,509.84 335.03,511.92 335.84,514.05 336.65,516.22 337.46,518.41 338.26,520.59 339.07,522.75 339.88,524.87 340.69,526.94 341.50,528.94 342.31,530.86 343.12,532.70 343.93,534.43 344.74,536.07 345.55,537.60 346.36,539.03 347.16,540.34 347.97,541.55 348.78,542.66 349.59,543.67 350.40,544.58 351.21,545.40 352.02,546.13 352.83,546.78 353.64,547.35 354.44,547.86 355.25,548.30 356.06,548.69 356.87,549.02 357.68,549.31 358.49,549.55 359.30,549.77 360.11,549.94 360.92,550.10 361.73,550.22 362.54,550.33 363.34,550.42 364.15,550.49 364.96,550.55 365.77,550.60 366.58,550.64 367.39,550.67 368.20,550.70 369.01,550.72 369.82,550.74 370.62,550.75 371.43,550.76 372.24,550.77 373.05,550.78 373.86,550.78 374.67,550.79 375.48,550.79 376.29,550.79 377.10,550.79 377.91,550.80 378.72,550.80 379.52,550.80 380.33,550.80 381.14,550.80 381.95,550.80 382.76,550.80 383.57,550.80 384.38,550.80 385.19,550.80 386.00,550.80 386.81,550.80 387.61,550.80 388.42,550.80 389.23,550.80 390.04,550.80 390.85,550.80 391.66,550.80 392.47,550.80 393.28,550.80 394.09,550.80 394.89,550.80 395.70,550.80 396.51,550.80 397.32,550.80 398.13,550.80 398.94,550.80 399.75,550.80 400.56,550.80 401.37,550.80 402.18,550.80 402.99,550.80 403.79,550.80 404.60,550.80 405.41,550.80 406.22,550.80 407.03,550.80 407.84,550.80 408.65,550.80 409.46,550.80 410.27,550.80 411.08,550.80 411.88,550.80 412.69,550.80 413.50,550.80 414.31,550.80 415.12,550.80 415.93,550.80 416.74,550.80 417.55,550.80 418.36,550.80 419.17,550.80 419.97,550.80 420.78,550.80 421.59,550.80 422.40,550.80 423.21,550.80 424.02,550.80 424.83,550.80 425.64,550.80 426.45,550.80 427.25,550.80 428.06,550.80 428.87,550.80 429.68,550.80 430.49,550.80 431.30,550.80 431.30,550.80" fill="#1f51a5" fill-opacity="0.2"/>
<polygon points="269.50,550.80 269.50,550.56 270.31,550.53 271.12,550.50 271.93,550.47 272.74,550.43 273.55,550.39 274.35,550.35 275.16,550.30 275.97,550.25 276.78,550.19 277.59,550.13 278.40,550.06 279.21,549.99 280.02,549.91 280.83,549.82 281.63,549.73 282.44,549.62 283.25,549.51 284.06,549.39 284.87,549.26 285.68,549.12 286.49,548.97 287.30,548.81 288.11,548.63 288.92,548.44 289.73,548.24 290.53,548.02 291.34,547.79 292.15,547.54 292.96,547.27 293.77,546.99 294.58,546.68 295.39,546.36 296.20,546.01 297.01,545.65 297.81,545.26 298.62,544.85 299.43,544.41 300.24,543.95 301.05,543.46 301.86,542.94 302.67,542.40 303.48,541.83 304.29,541.23 305.10,540.59 305.90,539.93 306.71,539.24 307.52,538.51 308.33,537.75 309.14,536.95 309.95,536.12 310.76,535.26 311.57,534.36 312.38,533.43 313.19,532.46 314.00,531.46 314.80,530.43 315.61,529.35 316.42,528.25 317.23,527.11 318.04,525.93 318.85,524.73 319.66,523.49 320.47,522.22 321.28,520.92 322.09,519.60 322.89,518.24 323.70,516.86 324.51,515.46 325.32,514.03 326.13,512.59 326.94,511.12 327.75,509.64 328.56,508.15 329.37,506.64 330.18,505.13 330.98,503.61 331.79,502.09 332.60,500.57 333.41,499.05 334.22,497.54 335.03,496.03 335.84,494.54 336.65,493.07 337.46,491.61 338.26,490.18 339.07,488.77 339.88,487.39 340.69,486.05 341.50,484.74 342.31,483.47 343.12,482.24 343.93,481.06 344.74,479.93 345.55,478.85 346.36,477.82 347.16,476.85 347.97,475.94 348.78,475.10 349.59,474.32 350.40,473.61 351.21,472.96 352.02,472.39 352.83,471.89 353.64,471.47 354.44,471.12 355.25,470.84 356.06,470.65 356.87,470.53 357.68,470.49 358.49,470.53 359.30,470.65 360.11,470.84 360.92,471.12 361.73,471.47 362.54,471.89 363.34,472.39 364.15,472.96 364.96,473.61 365.77,474.32 366.58,475.10 367.39,475.94 368.20,476.85 369.01,477.82 369.82,478.85 370.62,479.93 371.43,481.06 372.24,482.24 373.05,483.47 373.86,484.74 374.67,486.05 375.48,487.39 376.29,488.77 377.10,490.18 377.91,491.61 378.72,493.07 379.52,494.54 380.33,496.03 381.14,497.54 381.95,499.05 382.76,500.57 383.57,502.09 384.38,503.61 385.19,505.13 386.00,506.64 386.81,508.15 387.61,509.64 388.42,511.12 389.23,512.59 390.04,514.03 390.85,515.46 391.66,516.86 392.47,518.24 393.28,519.60 394.09,520.92 394.89,522.22 395.70,523.49 396.51,524.73 397.32,525.93 398.13,527.11 398.94,528.25 399.75,529.35 400.56,530.43 401.37,531.46 402.18,532.46 402.99,533.43 403.79,534.36 404.60,535.26 405.41,536.12 406.22,536.95 407.03,537.75 407.84,538.51 408.65,539.24 409.46,539.93 410.27,540.59 411.08,541.23 411.88,541.83 412.69,542.40 413.50,542.94 414.31,543.46 415.12,543.95 415.93,544.41 416.74,544.85 417.55,545.26 418.36,545.65 419.17,546.01 419.97,546.36 420.78,546.68 421.59,546.99 422.40,547.27 423.21,547.54 424.02,547.79 424.83,548.02 425.64,548.24 426.45,548.44 427.25,548.63 428.06,548.81 428.87,548.97 429.68,549.12 430.49,549.26 431.30,549.39 431.30,550.80" fill="#d17aa9" fill-opacity="0.2"/>
<polyline points="290.86,450.10 291.53,449.60 292.43,448.88 293.51,448.03 294.70,447.11 295.95,446.18 297.19,445.32 298.37,444.59 299.43,444.06 300.37,443.70 301.25,443.45 302.10,443.29 302.92,443.21 303.76,443.20 304.62,443.27 305.55,443.39 306.55,443.55 307.64,443.85 308.80,444.31 310.01,444.87 311.25,445.47 312.52,446.06 313.78,446.56 315.04,446.92 316.26,447.08 317.48,446.98 318.71,446.65 319.95,446.18 321.18,445.63 322.40,445.07 323.58,444.58 324.72,444.22 325.81,444.06 326.82,444.04 327.79,444.07 328.70,444.18 329.59,444.37 330.46,444.69 331.32,445.14 332.19,445.77 333.09,446.58 333.98,447.66 334.85,449.04 335.71,450.63 336.58,452.33 337.46,454.08 338.38,455.77 339.34,457.32 340.37,458.66 341.47,459.80 342.63,460.83 343.84,461.78 345.08,462.66 346.34,463.47 347.60,464.24 348.85,464.98 350.08,465.71 351.34,466.43 352.70,467.12 354.09,467.79 355.46,468.41 356.75,468.98 357.91,469.48 358.89,469.91 359.62,470.24" fill="none" stroke="#111" stroke-width="2.2" stroke-dasharray="0.4,3.3" stroke-linecap="round"/>
<polyline points="269.50,523.09 270.31,520.84 271.12,518.48 271.93,516.02 272.74,513.46 273.55,510.80 274.35,508.06 275.16,505.24 275.97,502.36 276.78,499.41 277.59,496.42 278.40,493.39 279.21,490.34 280.02,487.29 280.83,484.25 281.63,481.23 282.44,478.25 283.25,475.33 284.06,472.49 284.87,469.75 285.68,467.11 286.49,464.60 287.30,462.23 288.11,460.03 288.92,458.00 289.73,456.16 290.53,454.53 291.34,453.10 292.15,451.91 292.96,450.94 293.77,450.22 294.58,449.75 295.39,449.52 296.20,449.55 297.01,449.82 297.81,450.35 298.62,451.12 299.43,452.13 300.24,453.37 301.05,454.84 301.86,456.51 302.67,458.39 303.48,460.46 304.29,462.70 305.10,465.09 305.90,467.63 306.71,470.29 307.52,473.05 308.33,475.91 309.14,478.84 309.95,481.83 310.76,484.85 311.57,487.90 312.38,490.95 313.19,494.00 314.00,497.02 314.80,500.00 315.61,502.94 316.42,505.81 317.23,508.62 318.04,511.34 318.85,513.98 319.66,516.52 320.47,518.96 321.28,521.30 322.09,523.53 322.89,525.64 323.70,527.65 324.51,529.55 325.32,531.33 326.13,533.00 326.94,534.56 327.75,536.02 328.56,537.37 329.37,538.62 330.18,539.78 330.98,540.84 331.79,541.82 332.60,542.71 333.41,543.53 334.22,544.27 335.03,544.94 335.84,545.55 336.65,546.10 337.46,546.59 338.26,547.03 339.07,547.42 339.88,547.78 340.69,548.09 341.50,548.36 342.31,548.61 343.12,548.82 343.93,549.01 344.74,549.18 345.55,549.32 346.36,549.45 347.16,549.56 347.97,549.65 348.78,549.74 349.59,549.81 350.40,549.87 351.21,549.92 352.02,549.96 352.83,550.00 353.64,550.03 354.44,550.06 355.25,550.08 356.06,550.10 356.87,550.12 357.68,550.13 358.49,550.15 359.30,550.16 360.11,550.16 360.92,550.17 361.73,550.18 362.54,550.18 363.34,550.18 364.15,550.19 364.96,550.19 365.77,550.19 366.58,550.19 367.39,550.19 368.20,550.20 369.01,550.20 369.82,550.20 370.62,550.20 371.43,550.20 372.24,550.20 373.05,550.20 373.86,550.20 374.67,550.20 375.48,550.20 376.29,550.20 377.10,550.20 377.91,550.20 378.72,550.20 379.52,550.20 380.33,550.20 381.14,550.20 381.95,550.20 382.76,550.20 383.57,550.20 384.38,550.20 385.19,550.20 386.00,550.20 386.81,550.20 387.61,550.20 388.42,550.20 389.23,550.20 390.04,550.20 390.85,550.20 391.66,550.20 392.47,550.20 393.28,550.20 394.09,550.20 394.89,550.20 395.70,550.20 396.51,550.20 397.32,550.20 398.13,550.20 398.94,550.20 399.75,550.20 400.56,550.20 401.37,550.20 402.18,550.20 402.99,550.20 403.79,550.20 404.60,550.20 405.41,550.20 406.22,550.20 407.03,550.20 407.84,550.20 408.65,550.20 409.46,550.20 410.27,550.20 411.08,550.20 411.88,550.20 412.69,550.20 413.50,550.20 414.31,550.20 415.12,550.20 415.93,550.20 416.74,550.20 417.55,550.20 418.36,550.20 419.17,550.20 419.97,550.20 420.78,550.20 421.59,550.20 422.40,550.20 423.21,550.20 424.02,550.20 424.83,550.20 425.64,550.20 426.45,550.20 427.25,550.20 428.06,550.20 428.87,550.20 429.68,550.20 430.49,550.20 431.30,550.20" fill="none" stroke="#6fb4e0" stroke-width="3.6" stroke-linejoin="round"/>
<polyline points="269.50,550.20 270.31,550.20 271.12,550.20 271.93,550.20 272.74,550.20 273.55,550.19 274.35,550.19 275.16,550.19 275.97,550.19 276.78,550.18 277.59,550.18 278.40,550.17 279.21,550.16 280.02,550.15 280.83,550.13 281.63,550.11 282.44,550.09 283.25,550.06 284.06,550.03 284.87,549.98 285.68,549.93 286.49,549.86 287.30,549.78 288.11,549.69 288.92,549.57 289.73,549.44 290.53,549.28 291.34,549.09 292.15,548.86 292.96,548.60 293.77,548.29 294.58,547.94 295.39,547.53 296.20,547.06 297.01,546.53 297.81,545.93 298.62,545.24 299.43,544.48 300.24,543.63 301.05,542.68 301.86,541.63 302.67,540.48 303.48,539.23 304.29,537.87 305.10,536.40 305.90,534.83 306.71,533.15 307.52,531.37 308.33,529.50 309.14,527.55 309.95,525.52 310.76,523.43 311.57,521.29 312.38,519.12 313.19,516.93 314.00,514.75 314.80,512.59 315.61,510.48 316.42,508.43 317.23,506.48 318.04,504.63 318.85,502.92 319.66,501.36 320.47,499.97 321.28,498.78 322.09,497.78 322.89,497.01 323.70,496.46 324.51,496.15 325.32,496.08 326.13,496.25 326.94,496.65 327.75,497.29 328.56,498.15 329.37,499.23 330.18,500.51 330.98,501.96 331.79,503.59 332.60,505.35 333.41,507.25 334.22,509.24 335.03,511.32 335.84,513.45 336.65,515.62 337.46,517.81 338.26,519.99 339.07,522.15 339.88,524.27 340.69,526.34 341.50,528.34 342.31,530.26 343.12,532.10 343.93,533.83 344.74,535.47 345.55,537.00 346.36,538.43 347.16,539.74 347.97,540.95 348.78,542.06 349.59,543.07 350.40,543.98 351.21,544.80 352.02,545.53 352.83,546.18 353.64,546.75 354.44,547.26 355.25,547.70 356.06,548.09 356.87,548.42 357.68,548.71 358.49,548.95 359.30,549.17 360.11,549.34 360.92,549.50 361.73,549.62 362.54,549.73 363.34,549.82 364.15,549.89 364.96,549.95 365.77,550.00 366.58,550.04 367.39,550.07 368.20,550.10 369.01,550.12 369.82,550.14 370.62,550.15 371.43,550.16 372.24,550.17 373.05,550.18 373.86,550.18 374.67,550.19 375.48,550.19 376.29,550.19 377.10,550.19 377.91,550.20 378.72,550.20 379.52,550.20 380.33,550.20 381.14,550.20 381.95,550.20 382.76,550.20 383.57,550.20 384.38,550.20 385.19,550.20 386.00,550.20 386.81,550.20 387.61,550.20 388.42,550.20 389.23,550.20 390.04,550.20 390.85,550.20 391.66,550.20 392.47,550.20 393.28,550.20 394.09,550.20 394.89,550.20 395.70,550.20 396.51,550.20 397.32,550.20 398.13,550.20 398.94,550.20 399.75,550.20 400.56,550.20 401.37,550.20 402.18,550.20 402.99,550.20 403.79,550.20 404.60,550.20 405.41,550.20 406.22,550.20 407.03,550.20 407.84,550.20 408.65,550.20 409.46,550.20 410.27,550.20 411.08,550.20 411.88,550.20 412.69,550.20 413.50,550.20 414.31,550.20 415.12,550.20 415.93,550.20 416.74,550.20 417.55,550.20 418.36,550.20 419.17,550.20 419.97,550.20 420.78,550.20 421.59,550.20 422.40,550.20 423.21,550.20 424.02,550.20 424.83,550.20 425.64,550.20 426.45,550.20 427.25,550.20 428.06,550.20 428.87,550.20 429.68,550.20 430.49,550.20 431.30,550.20" fill="none" stroke="#1f51a5" stroke-width="3.6" stroke-linejoin="round"/>
<polyline points="269.50,549.96 270.31,549.93 271.12,549.90 271.93,549.87 272.74,549.83 273.55,549.79 274.35,549.75 275.16,549.70 275.97,549.65 276.78,549.59 277.59,549.53 278.40,549.46 279.21,549.39 280.02,549.31 280.83,549.22 281.63,549.13 282.44,549.02 283.25,548.91 284.06,548.79 284.87,548.66 285.68,548.52 286.49,548.37 287.30,548.21 288.11,548.03 288.92,547.84 289.73,547.64 290.53,547.42 291.34,547.19 292.15,546.94 292.96,546.67 293.77,546.39 294.58,546.08 295.39,545.76 296.20,545.41 297.01,545.05 297.81,544.66 298.62,544.25 299.43,543.81 300.24,543.35 301.05,542.86 301.86,542.34 302.67,541.80 303.48,541.23 304.29,540.63 305.10,539.99 305.90,539.33 306.71,538.64 307.52,537.91 308.33,537.15 309.14,536.35 309.95,535.52 310.76,534.66 311.57,533.76 312.38,532.83 313.19,531.86 314.00,530.86 314.80,529.83 315.61,528.75 316.42,527.65 317.23,526.51 318.04,525.33 318.85,524.13 319.66,522.89 320.47,521.62 321.28,520.32 322.09,519.00 322.89,517.64 323.70,516.26 324.51,514.86 325.32,513.43 326.13,511.99 326.94,510.52 327.75,509.04 328.56,507.55 329.37,506.04 330.18,504.53 330.98,503.01 331.79,501.49 332.60,499.97 333.41,498.45 334.22,496.94 335.03,495.43 335.84,493.94 336.65,492.47 337.46,491.01 338.26,489.58 339.07,488.17 339.88,486.79 340.69,485.45 341.50,484.14 342.31,482.87 343.12,481.64 343.93,480.46 344.74,479.33 345.55,478.25 346.36,477.22 347.16,476.25 347.97,475.34 348.78,474.50 349.59,473.72 350.40,473.01 351.21,472.36 352.02,471.79 352.83,471.29 353.64,470.87 354.44,470.52 355.25,470.24 356.06,470.05 356.87,469.93 357.68,469.89 358.49,469.93 359.30,470.05 360.11,470.24 360.92,470.52 361.73,470.87 362.54,471.29 363.34,471.79 364.15,472.36 364.96,473.01 365.77,473.72 366.58,474.50 367.39,475.34 368.20,476.25 369.01,477.22 369.82,478.25 370.62,479.33 371.43,480.46 372.24,481.64 373.05,482.87 373.86,484.14 374.67,485.45 375.48,486.79 376.29,488.17 377.10,489.58 377.91,491.01 378.72,492.47 379.52,493.94 380.33,495.43 381.14,496.94 381.95,498.45 382.76,499.97 383.57,501.49 384.38,503.01 385.19,504.53 386.00,506.04 386.81,507.55 387.61,509.04 388.42,510.52 389.23,511.99 390.04,513.43 390.85,514.86 391.66,516.26 392.47,517.64 393.28,519.00 394.09,520.32 394.89,521.62 395.70,522.89 396.51,524.13 397.32,525.33 398.13,526.51 398.94,527.65 399.75,528.75 400.56,529.83 401.37,530.86 402.18,531.86 402.99,532.83 403.79,533.76 404.60,534.66 405.41,535.52 406.22,536.35 407.03,537.15 407.84,537.91 408.65,538.64 409.46,539.33 410.27,539.99 411.08,540.63 411.88,541.23 412.69,541.80 413.50,542.34 414.31,542.86 415.12,543.35 415.93,543.81 416.74,544.25 417.55,544.66 418.36,545.05 419.17,545.41 419.97,545.76 420.78,546.08 421.59,546.39 422.40,546.67 423.21,546.94 424.02,547.19 424.83,547.42 425.64,547.64 426.45,547.84 427.25,548.03 428.06,548.21 428.87,548.37 429.68,548.52 430.49,548.66 431.30,548.79" fill="none" stroke="#d17aa9" stroke-width="3.6" stroke-linejoin="round"/>
<line x1="269.50" y1="424.70" x2="269.50" y2="551.90" stroke="#000" stroke-width="2.1" />
<line x1="268.50" y1="550.80" x2="431.90" y2="550.80" stroke="#000" stroke-width="2.2" />
<line x1="269.50" y1="550.80" x2="269.50" y2="554.50" stroke="#000" stroke-width="1.1" />
<line x1="285.68" y1="550.80" x2="285.68" y2="553.80" stroke="#000" stroke-width="1.1" />
<line x1="301.86" y1="550.80" x2="301.86" y2="554.50" stroke="#000" stroke-width="1.1" />
<line x1="318.04" y1="550.80" x2="318.04" y2="553.80" stroke="#000" stroke-width="1.1" />
<line x1="334.22" y1="550.80" x2="334.22" y2="554.50" stroke="#000" stroke-width="1.1" />
<line x1="350.40" y1="550.80" x2="350.40" y2="553.80" stroke="#000" stroke-width="1.1" />
<line x1="366.58" y1="550.80" x2="366.58" y2="554.50" stroke="#000" stroke-width="1.1" />
<line x1="382.76" y1="550.80" x2="382.76" y2="553.80" stroke="#000" stroke-width="1.1" />
<line x1="398.94" y1="550.80" x2="398.94" y2="554.50" stroke="#000" stroke-width="1.1" />
<line x1="415.12" y1="550.80" x2="415.12" y2="553.80" stroke="#000" stroke-width="1.1" />
<line x1="431.30" y1="550.80" x2="431.30" y2="554.50" stroke="#000" stroke-width="1.1" />
<line x1="266.30" y1="550.80" x2="269.50" y2="550.80" stroke="#000" stroke-width="1.1" />
<line x1="266.30" y1="500.45" x2="269.50" y2="500.45" stroke="#000" stroke-width="1.1" />
<line x1="266.30" y1="450.10" x2="269.50" y2="450.10" stroke="#000" stroke-width="1.1" />
<line x1="267.10" y1="525.62" x2="269.50" y2="525.62" stroke="#000" stroke-width="1.1" />
<line x1="267.10" y1="475.27" x2="269.50" y2="475.27" stroke="#000" stroke-width="1.1" />
<line x1="267.10" y1="424.92" x2="269.50" y2="424.92" stroke="#000" stroke-width="1.1" />
<text transform="translate(264.30,554.70) scale(1,1.0)" font-size="11" font-weight="normal" text-anchor="end" fill="#231f20" >0.00</text>
<text transform="translate(264.30,504.35) scale(1,1.0)" font-size="11" font-weight="normal" text-anchor="end" fill="#231f20" >0.02</text>
<text transform="translate(264.30,454.00) scale(1,1.0)" font-size="11" font-weight="normal" text-anchor="end" fill="#231f20" >0.04</text>
<text transform="translate(269.50,562.90) scale(1,1.0)" font-size="11" font-weight="normal" text-anchor="middle" fill="#231f20" >0.0</text>
<text transform="translate(301.86,562.90) scale(1,1.0)" font-size="11" font-weight="normal" text-anchor="middle" fill="#231f20" >0.2</text>
<text transform="translate(334.22,562.90) scale(1,1.0)" font-size="11" font-weight="normal" text-anchor="middle" fill="#231f20" >0.4</text>
<text transform="translate(366.58,562.90) scale(1,1.0)" font-size="11" font-weight="normal" text-anchor="middle" fill="#231f20" >0.6</text>
<text transform="translate(398.94,562.90) scale(1,1.0)" font-size="11" font-weight="normal" text-anchor="middle" fill="#231f20" >0.8</text>
<text transform="translate(431.30,562.90) scale(1,1.0)" font-size="11" font-weight="normal" text-anchor="middle" fill="#231f20" >1.0</text>
<text transform="translate(350.80,573.90) scale(1,1.0)" font-size="11" font-weight="bold" text-anchor="middle" fill="#231f20" >FRET efficiency (E)</text>
<text transform="translate(239.20,490.70) rotate(-90) scale(1,1.0)" font-size="10.75" font-weight="bold" text-anchor="middle" fill="#231f20" >normalized frames</text>
<text transform="translate(272.50,406.80) scale(1,1.0)" font-size="11" font-weight="normal" text-anchor="start" fill="#6fb4e0" >E<tspan font-size="6.2" dy="3.2">1</tspan><tspan dy="-3.2"> = 0.16</tspan></text>
<text transform="translate(272.50,419.90) scale(1,1.0)" font-size="11" font-weight="normal" text-anchor="start" fill="#1f51a5" stroke="#1f51a5" stroke-width="0.2">E<tspan font-size="6.2" dy="3.2">2</tspan><tspan dy="-3.2"> = 0.34</tspan></text>
<text transform="translate(272.50,433.00) scale(1,1.0)" font-size="11" font-weight="normal" text-anchor="start" fill="#d17aa9" >E<tspan font-size="6.2" dy="3.2">3</tspan><tspan dy="-3.2"> = 0.54</tspan></text>
<rect x="282.77" y="746.54" width="2.33" height="0.66" fill="#c4c4c4"/>
<rect x="286.00" y="745.91" width="2.33" height="1.29" fill="#c4c4c4"/>
<rect x="289.23" y="744.64" width="2.33" height="2.56" fill="#c4c4c4"/>
<rect x="292.46" y="742.56" width="2.33" height="4.64" fill="#c4c4c4"/>
<rect x="295.69" y="738.81" width="2.33" height="8.39" fill="#c4c4c4"/>
<rect x="298.92" y="734.18" width="2.33" height="13.02" fill="#c4c4c4"/>
<rect x="302.15" y="724.23" width="2.33" height="22.97" fill="#c4c4c4"/>
<rect x="305.38" y="714.28" width="2.33" height="32.92" fill="#c4c4c4"/>
<rect x="308.61" y="699.35" width="2.33" height="47.85" fill="#c4c4c4"/>
<rect x="311.84" y="684.62" width="2.33" height="62.58" fill="#c4c4c4"/>
<rect x="315.07" y="668.70" width="2.33" height="78.50" fill="#c4c4c4"/>
<rect x="318.30" y="650.47" width="2.33" height="96.73" fill="#c4c4c4"/>
<rect x="321.53" y="638.37" width="2.33" height="108.83" fill="#c4c4c4"/>
<rect x="324.76" y="638.42" width="2.33" height="108.78" fill="#c4c4c4"/>
<rect x="327.99" y="636.93" width="2.33" height="110.27" fill="#c4c4c4"/>
<rect x="331.22" y="637.38" width="2.33" height="109.82" fill="#c4c4c4"/>
<rect x="334.45" y="648.82" width="2.33" height="98.38" fill="#c4c4c4"/>
<rect x="337.68" y="661.99" width="2.33" height="85.21" fill="#c4c4c4"/>
<rect x="340.91" y="666.98" width="2.33" height="80.22" fill="#c4c4c4"/>
<rect x="344.14" y="677.91" width="2.33" height="69.29" fill="#c4c4c4"/>
<rect x="347.37" y="687.34" width="2.33" height="59.86" fill="#c4c4c4"/>
<rect x="350.60" y="689.14" width="2.33" height="58.06" fill="#c4c4c4"/>
<rect x="353.83" y="692.47" width="2.33" height="54.73" fill="#c4c4c4"/>
<rect x="357.06" y="696.85" width="2.33" height="50.35" fill="#c4c4c4"/>
<rect x="360.29" y="698.86" width="2.33" height="48.34" fill="#c4c4c4"/>
<rect x="363.52" y="696.74" width="2.33" height="50.46" fill="#c4c4c4"/>
<rect x="366.75" y="696.31" width="2.33" height="50.89" fill="#c4c4c4"/>
<rect x="369.98" y="699.29" width="2.33" height="47.91" fill="#c4c4c4"/>
<rect x="373.21" y="701.86" width="2.33" height="45.34" fill="#c4c4c4"/>
<rect x="376.44" y="702.79" width="2.33" height="44.41" fill="#c4c4c4"/>
<rect x="379.67" y="705.40" width="2.33" height="41.80" fill="#c4c4c4"/>
<rect x="382.90" y="710.02" width="2.33" height="37.18" fill="#c4c4c4"/>
<rect x="386.13" y="712.82" width="2.33" height="34.38" fill="#c4c4c4"/>
<rect x="389.36" y="716.25" width="2.33" height="30.95" fill="#c4c4c4"/>
<rect x="392.59" y="721.18" width="2.33" height="26.02" fill="#c4c4c4"/>
<rect x="395.82" y="725.29" width="2.33" height="21.91" fill="#c4c4c4"/>
<rect x="399.05" y="728.05" width="2.33" height="19.15" fill="#c4c4c4"/>
<rect x="402.28" y="731.35" width="2.33" height="15.85" fill="#c4c4c4"/>
<rect x="405.51" y="733.94" width="2.33" height="13.26" fill="#c4c4c4"/>
<rect x="408.74" y="737.29" width="2.33" height="9.91" fill="#c4c4c4"/>
<rect x="411.97" y="739.23" width="2.33" height="7.97" fill="#c4c4c4"/>
<rect x="415.20" y="741.04" width="2.33" height="6.16" fill="#c4c4c4"/>
<rect x="418.43" y="742.63" width="2.33" height="4.57" fill="#c4c4c4"/>
<rect x="421.66" y="743.56" width="2.33" height="3.64" fill="#c4c4c4"/>
<rect x="424.89" y="744.48" width="2.33" height="2.72" fill="#c4c4c4"/>
<rect x="428.12" y="745.30" width="2.33" height="1.90" fill="#c4c4c4"/>
<polygon points="269.40,747.20 269.40,747.19 270.21,747.19 271.01,747.19 271.82,747.19 272.63,747.18 273.44,747.18 274.25,747.17 275.05,747.16 275.86,747.15 276.67,747.14 277.47,747.13 278.28,747.11 279.09,747.08 279.90,747.05 280.70,747.02 281.51,746.97 282.32,746.92 283.13,746.85 283.94,746.77 284.74,746.67 285.55,746.55 286.36,746.41 287.16,746.25 287.97,746.05 288.78,745.82 289.59,745.54 290.39,745.22 291.20,744.85 292.01,744.41 292.82,743.91 293.62,743.34 294.43,742.68 295.24,741.93 296.05,741.08 296.85,740.12 297.66,739.04 298.47,737.84 299.28,736.49 300.08,735.01 300.89,733.37 301.70,731.57 302.51,729.60 303.31,727.47 304.12,725.16 304.93,722.68 305.74,720.03 306.54,717.21 307.35,714.22 308.16,711.08 308.97,707.79 309.77,704.37 310.58,700.84 311.39,697.21 312.20,693.50 313.00,689.75 313.81,685.97 314.62,682.20 315.43,678.47 316.23,674.80 317.04,671.24 317.85,667.81 318.66,664.55 319.46,661.49 320.27,658.67 321.08,656.11 321.89,653.84 322.69,651.88 323.50,650.27 324.31,649.01 325.12,648.13 325.92,647.62 326.73,647.51 327.54,647.78 328.35,648.44 329.15,649.47 329.96,650.87 330.77,652.63 331.58,654.71 332.38,657.10 333.19,659.77 334.00,662.69 334.81,665.83 335.62,669.16 336.42,672.65 337.23,676.26 338.04,679.95 338.84,683.71 339.65,687.48 340.46,691.25 341.27,694.99 342.07,698.67 342.88,702.26 343.69,705.75 344.50,709.12 345.30,712.35 346.11,715.44 346.92,718.36 347.73,721.11 348.53,723.70 349.34,726.11 350.15,728.34 350.96,730.41 351.76,732.31 352.57,734.04 353.38,735.62 354.19,737.05 355.00,738.33 355.80,739.49 356.61,740.52 357.42,741.43 358.22,742.24 359.03,742.95 359.84,743.58 360.65,744.12 361.45,744.60 362.26,745.00 363.07,745.36 363.88,745.66 364.68,745.91 365.49,746.13 366.30,746.32 367.11,746.47 367.91,746.60 368.72,746.71 369.53,746.80 370.34,746.88 371.14,746.94 371.95,746.99 372.76,747.03 373.57,747.07 374.38,747.09 375.18,747.12 375.99,747.13 376.80,747.15 377.61,747.16 378.41,747.17 379.22,747.18 380.03,747.18 380.83,747.19 381.64,747.19 382.45,747.19 383.26,747.19 384.06,747.20 384.87,747.20 385.68,747.20 386.49,747.20 387.29,747.20 388.10,747.20 388.91,747.20 389.72,747.20 390.52,747.20 391.33,747.20 392.14,747.20 392.95,747.20 393.75,747.20 394.56,747.20 395.37,747.20 396.18,747.20 396.99,747.20 397.79,747.20 398.60,747.20 399.41,747.20 400.21,747.20 401.02,747.20 401.83,747.20 402.64,747.20 403.44,747.20 404.25,747.20 405.06,747.20 405.87,747.20 406.67,747.20 407.48,747.20 408.29,747.20 409.10,747.20 409.90,747.20 410.71,747.20 411.52,747.20 412.33,747.20 413.13,747.20 413.94,747.20 414.75,747.20 415.56,747.20 416.37,747.20 417.17,747.20 417.98,747.20 418.79,747.20 419.60,747.20 420.40,747.20 421.21,747.20 422.02,747.20 422.82,747.20 423.63,747.20 424.44,747.20 425.25,747.20 426.05,747.20 426.86,747.20 427.67,747.20 428.48,747.20 429.28,747.20 430.09,747.20 430.90,747.20 430.90,747.20" fill="#1f51a5" fill-opacity="0.2"/>
<polygon points="269.40,747.20 269.40,747.17 270.21,747.17 271.01,747.16 271.82,747.16 272.63,747.15 273.44,747.14 274.25,747.14 275.05,747.13 275.86,747.12 276.67,747.11 277.47,747.10 278.28,747.09 279.09,747.08 279.90,747.06 280.70,747.04 281.51,747.03 282.32,747.01 283.13,746.99 283.94,746.96 284.74,746.94 285.55,746.91 286.36,746.87 287.16,746.84 287.97,746.80 288.78,746.76 289.59,746.71 290.39,746.66 291.20,746.61 292.01,746.55 292.82,746.49 293.62,746.42 294.43,746.34 295.24,746.26 296.05,746.17 296.85,746.07 297.66,745.97 298.47,745.86 299.28,745.74 300.08,745.61 300.89,745.47 301.70,745.32 302.51,745.16 303.31,744.99 304.12,744.80 304.93,744.61 305.74,744.40 306.54,744.17 307.35,743.94 308.16,743.68 308.97,743.42 309.77,743.13 310.58,742.83 311.39,742.51 312.20,742.17 313.00,741.82 313.81,741.44 314.62,741.05 315.43,740.63 316.23,740.20 317.04,739.74 317.85,739.26 318.66,738.76 319.46,738.24 320.27,737.70 321.08,737.13 321.89,736.54 322.69,735.93 323.50,735.29 324.31,734.63 325.12,733.95 325.92,733.25 326.73,732.52 327.54,731.78 328.35,731.01 329.15,730.22 329.96,729.41 330.77,728.58 331.58,727.74 332.38,726.87 333.19,726.00 334.00,725.10 334.81,724.19 335.62,723.27 336.42,722.34 337.23,721.40 338.04,720.45 338.84,719.50 339.65,718.54 340.46,717.58 341.27,716.61 342.07,715.65 342.88,714.70 343.69,713.75 344.50,712.81 345.30,711.87 346.11,710.95 346.92,710.05 347.73,709.16 348.53,708.29 349.34,707.44 350.15,706.62 350.96,705.82 351.76,705.06 352.57,704.32 353.38,703.61 354.19,702.94 355.00,702.30 355.80,701.71 356.61,701.15 357.42,700.63 358.22,700.16 359.03,699.73 359.84,699.35 360.65,699.02 361.45,698.73 362.26,698.49 363.07,698.30 363.88,698.17 364.68,698.08 365.49,698.04 366.30,698.06 367.11,698.12 367.91,698.24 368.72,698.41 369.53,698.63 370.34,698.90 371.14,699.21 371.95,699.57 372.76,699.98 373.57,700.44 374.38,700.94 375.18,701.48 375.99,702.06 376.80,702.68 377.61,703.34 378.41,704.03 379.22,704.76 380.03,705.51 380.83,706.30 381.64,707.11 382.45,707.95 383.26,708.81 384.06,709.69 384.87,710.59 385.68,711.50 386.49,712.43 387.29,713.37 388.10,714.32 388.91,715.27 389.72,716.23 390.52,717.19 391.33,718.15 392.14,719.11 392.95,720.07 393.75,721.02 394.56,721.97 395.37,722.90 396.18,723.83 396.99,724.74 397.79,725.64 398.60,726.52 399.41,727.39 400.21,728.25 401.02,729.08 401.83,729.90 402.64,730.70 403.44,731.47 404.25,732.23 405.06,732.96 405.87,733.67 406.67,734.36 407.48,735.03 408.29,735.67 409.10,736.30 409.90,736.90 410.71,737.47 411.52,738.03 412.33,738.56 413.13,739.07 413.94,739.55 414.75,740.02 415.56,740.46 416.37,740.88 417.17,741.29 417.98,741.67 418.79,742.03 419.60,742.38 420.40,742.70 421.21,743.01 422.02,743.30 422.82,743.58 423.63,743.84 424.44,744.08 425.25,744.31 426.05,744.52 426.86,744.73 427.67,744.92 428.48,745.09 429.28,745.26 430.09,745.41 430.90,745.55 430.90,747.20" fill="#d17aa9" fill-opacity="0.2"/>
<polyline points="317.37,659.67 317.73,658.19 318.21,656.12 318.78,653.65 319.41,650.95 320.10,648.21 320.81,645.60 321.52,643.30 322.21,641.49 322.90,640.07 323.62,638.85 324.36,637.81 325.12,636.97 325.88,636.32 326.65,635.85 327.42,635.57 328.19,635.48 328.95,635.55 329.71,635.77 330.48,636.16 331.25,636.75 332.03,637.55 332.80,638.60 333.56,639.90 334.32,641.49 335.07,643.47 335.80,645.87 336.52,648.59 337.24,651.52 337.97,654.56 338.72,657.59 339.49,660.51 340.30,663.22 341.13,665.79 341.97,668.37 342.82,670.94 343.70,673.45 344.61,675.89 345.55,678.23 346.53,680.43 347.57,682.48 348.68,684.38 349.88,686.19 351.14,687.89 352.42,689.47 353.71,690.93 354.96,692.26 356.15,693.45 357.26,694.50 358.32,695.37 359.38,696.06 360.42,696.60 361.41,697.02 362.33,697.35 363.15,697.60 363.83,697.83 364.36,698.04" fill="none" stroke="#111" stroke-width="2.2" stroke-dasharray="0.4,3.3" stroke-linecap="round"/>
<polyline points="269.40,746.59 270.21,746.59 271.01,746.59 271.82,746.59 272.63,746.58 273.44,746.58 274.25,746.57 275.05,746.56 275.86,746.55 276.67,746.54 277.47,746.53 278.28,746.51 279.09,746.48 279.90,746.45 280.70,746.42 281.51,746.37 282.32,746.32 283.13,746.25 283.94,746.17 284.74,746.07 285.55,745.95 286.36,745.81 287.16,745.65 287.97,745.45 288.78,745.22 289.59,744.94 290.39,744.62 291.20,744.25 292.01,743.81 292.82,743.31 293.62,742.74 294.43,742.08 295.24,741.33 296.05,740.48 296.85,739.52 297.66,738.44 298.47,737.24 299.28,735.89 300.08,734.41 300.89,732.77 301.70,730.97 302.51,729.00 303.31,726.87 304.12,724.56 304.93,722.08 305.74,719.43 306.54,716.61 307.35,713.62 308.16,710.48 308.97,707.19 309.77,703.77 310.58,700.24 311.39,696.61 312.20,692.90 313.00,689.15 313.81,685.37 314.62,681.60 315.43,677.87 316.23,674.20 317.04,670.64 317.85,667.21 318.66,663.95 319.46,660.89 320.27,658.07 321.08,655.51 321.89,653.24 322.69,651.28 323.50,649.67 324.31,648.41 325.12,647.53 325.92,647.02 326.73,646.91 327.54,647.18 328.35,647.84 329.15,648.87 329.96,650.27 330.77,652.03 331.58,654.11 332.38,656.50 333.19,659.17 334.00,662.09 334.81,665.23 335.62,668.56 336.42,672.05 337.23,675.66 338.04,679.35 338.84,683.11 339.65,686.88 340.46,690.65 341.27,694.39 342.07,698.07 342.88,701.66 343.69,705.15 344.50,708.52 345.30,711.75 346.11,714.84 346.92,717.76 347.73,720.51 348.53,723.10 349.34,725.51 350.15,727.74 350.96,729.81 351.76,731.71 352.57,733.44 353.38,735.02 354.19,736.45 355.00,737.73 355.80,738.89 356.61,739.92 357.42,740.83 358.22,741.64 359.03,742.35 359.84,742.98 360.65,743.52 361.45,744.00 362.26,744.40 363.07,744.76 363.88,745.06 364.68,745.31 365.49,745.53 366.30,745.72 367.11,745.87 367.91,746.00 368.72,746.11 369.53,746.20 370.34,746.28 371.14,746.34 371.95,746.39 372.76,746.43 373.57,746.47 374.38,746.49 375.18,746.52 375.99,746.53 376.80,746.55 377.61,746.56 378.41,746.57 379.22,746.58 380.03,746.58 380.83,746.59 381.64,746.59 382.45,746.59 383.26,746.59 384.06,746.60 384.87,746.60 385.68,746.60 386.49,746.60 387.29,746.60 388.10,746.60 388.91,746.60 389.72,746.60 390.52,746.60 391.33,746.60 392.14,746.60 392.95,746.60 393.75,746.60 394.56,746.60 395.37,746.60 396.18,746.60 396.99,746.60 397.79,746.60 398.60,746.60 399.41,746.60 400.21,746.60 401.02,746.60 401.83,746.60 402.64,746.60 403.44,746.60 404.25,746.60 405.06,746.60 405.87,746.60 406.67,746.60 407.48,746.60 408.29,746.60 409.10,746.60 409.90,746.60 410.71,746.60 411.52,746.60 412.33,746.60 413.13,746.60 413.94,746.60 414.75,746.60 415.56,746.60 416.37,746.60 417.17,746.60 417.98,746.60 418.79,746.60 419.60,746.60 420.40,746.60 421.21,746.60 422.02,746.60 422.82,746.60 423.63,746.60 424.44,746.60 425.25,746.60 426.05,746.60 426.86,746.60 427.67,746.60 428.48,746.60 429.28,746.60 430.09,746.60 430.90,746.60" fill="none" stroke="#1f51a5" stroke-width="3.6" stroke-linejoin="round"/>
<polyline points="269.40,746.57 270.21,746.57 271.01,746.56 271.82,746.56 272.63,746.55 273.44,746.54 274.25,746.54 275.05,746.53 275.86,746.52 276.67,746.51 277.47,746.50 278.28,746.49 279.09,746.48 279.90,746.46 280.70,746.44 281.51,746.43 282.32,746.41 283.13,746.39 283.94,746.36 284.74,746.34 285.55,746.31 286.36,746.27 287.16,746.24 287.97,746.20 288.78,746.16 289.59,746.11 290.39,746.06 291.20,746.01 292.01,745.95 292.82,745.89 293.62,745.82 294.43,745.74 295.24,745.66 296.05,745.57 296.85,745.47 297.66,745.37 298.47,745.26 299.28,745.14 300.08,745.01 300.89,744.87 301.70,744.72 302.51,744.56 303.31,744.39 304.12,744.20 304.93,744.01 305.74,743.80 306.54,743.57 307.35,743.34 308.16,743.08 308.97,742.82 309.77,742.53 310.58,742.23 311.39,741.91 312.20,741.57 313.00,741.22 313.81,740.84 314.62,740.45 315.43,740.03 316.23,739.60 317.04,739.14 317.85,738.66 318.66,738.16 319.46,737.64 320.27,737.10 321.08,736.53 321.89,735.94 322.69,735.33 323.50,734.69 324.31,734.03 325.12,733.35 325.92,732.65 326.73,731.92 327.54,731.18 328.35,730.41 329.15,729.62 329.96,728.81 330.77,727.98 331.58,727.14 332.38,726.27 333.19,725.40 334.00,724.50 334.81,723.59 335.62,722.67 336.42,721.74 337.23,720.80 338.04,719.85 338.84,718.90 339.65,717.94 340.46,716.98 341.27,716.01 342.07,715.05 342.88,714.10 343.69,713.15 344.50,712.21 345.30,711.27 346.11,710.35 346.92,709.45 347.73,708.56 348.53,707.69 349.34,706.84 350.15,706.02 350.96,705.22 351.76,704.46 352.57,703.72 353.38,703.01 354.19,702.34 355.00,701.70 355.80,701.11 356.61,700.55 357.42,700.03 358.22,699.56 359.03,699.13 359.84,698.75 360.65,698.42 361.45,698.13 362.26,697.89 363.07,697.70 363.88,697.57 364.68,697.48 365.49,697.44 366.30,697.46 367.11,697.52 367.91,697.64 368.72,697.81 369.53,698.03 370.34,698.30 371.14,698.61 371.95,698.97 372.76,699.38 373.57,699.84 374.38,700.34 375.18,700.88 375.99,701.46 376.80,702.08 377.61,702.74 378.41,703.43 379.22,704.16 380.03,704.91 380.83,705.70 381.64,706.51 382.45,707.35 383.26,708.21 384.06,709.09 384.87,709.99 385.68,710.90 386.49,711.83 387.29,712.77 388.10,713.72 388.91,714.67 389.72,715.63 390.52,716.59 391.33,717.55 392.14,718.51 392.95,719.47 393.75,720.42 394.56,721.37 395.37,722.30 396.18,723.23 396.99,724.14 397.79,725.04 398.60,725.92 399.41,726.79 400.21,727.65 401.02,728.48 401.83,729.30 402.64,730.10 403.44,730.87 404.25,731.63 405.06,732.36 405.87,733.07 406.67,733.76 407.48,734.43 408.29,735.07 409.10,735.70 409.90,736.30 410.71,736.87 411.52,737.43 412.33,737.96 413.13,738.47 413.94,738.95 414.75,739.42 415.56,739.86 416.37,740.28 417.17,740.69 417.98,741.07 418.79,741.43 419.60,741.78 420.40,742.10 421.21,742.41 422.02,742.70 422.82,742.98 423.63,743.24 424.44,743.48 425.25,743.71 426.05,743.92 426.86,744.13 427.67,744.32 428.48,744.49 429.28,744.66 430.09,744.81 430.90,744.95" fill="none" stroke="#d17aa9" stroke-width="3.6" stroke-linejoin="round"/>
<line x1="269.40" y1="623.10" x2="269.40" y2="748.30" stroke="#000" stroke-width="2.1" />
<line x1="268.40" y1="747.20" x2="431.50" y2="747.20" stroke="#000" stroke-width="2.2" />
<line x1="269.40" y1="747.20" x2="269.40" y2="750.90" stroke="#000" stroke-width="1.1" />
<line x1="285.55" y1="747.20" x2="285.55" y2="750.20" stroke="#000" stroke-width="1.1" />
<line x1="301.70" y1="747.20" x2="301.70" y2="750.90" stroke="#000" stroke-width="1.1" />
<line x1="317.85" y1="747.20" x2="317.85" y2="750.20" stroke="#000" stroke-width="1.1" />
<line x1="334.00" y1="747.20" x2="334.00" y2="750.90" stroke="#000" stroke-width="1.1" />
<line x1="350.15" y1="747.20" x2="350.15" y2="750.20" stroke="#000" stroke-width="1.1" />
<line x1="366.30" y1="747.20" x2="366.30" y2="750.90" stroke="#000" stroke-width="1.1" />
<line x1="382.45" y1="747.20" x2="382.45" y2="750.20" stroke="#000" stroke-width="1.1" />
<line x1="398.60" y1="747.20" x2="398.60" y2="750.90" stroke="#000" stroke-width="1.1" />
<line x1="414.75" y1="747.20" x2="414.75" y2="750.20" stroke="#000" stroke-width="1.1" />
<line x1="430.90" y1="747.20" x2="430.90" y2="750.90" stroke="#000" stroke-width="1.1" />
<line x1="266.20" y1="747.20" x2="269.40" y2="747.20" stroke="#000" stroke-width="1.1" />
<line x1="266.20" y1="716.38" x2="269.40" y2="716.38" stroke="#000" stroke-width="1.1" />
<line x1="266.20" y1="685.56" x2="269.40" y2="685.56" stroke="#000" stroke-width="1.1" />
<line x1="266.20" y1="654.74" x2="269.40" y2="654.74" stroke="#000" stroke-width="1.1" />
<line x1="266.20" y1="623.92" x2="269.40" y2="623.92" stroke="#000" stroke-width="1.1" />
<line x1="267.00" y1="731.79" x2="269.40" y2="731.79" stroke="#000" stroke-width="1.1" />
<line x1="267.00" y1="700.97" x2="269.40" y2="700.97" stroke="#000" stroke-width="1.1" />
<line x1="267.00" y1="670.15" x2="269.40" y2="670.15" stroke="#000" stroke-width="1.1" />
<line x1="267.00" y1="639.33" x2="269.40" y2="639.33" stroke="#000" stroke-width="1.1" />
<text transform="translate(264.20,751.10) scale(1,1.0)" font-size="11" font-weight="normal" text-anchor="end" fill="#231f20" >0.00</text>
<text transform="translate(264.20,720.28) scale(1,1.0)" font-size="11" font-weight="normal" text-anchor="end" fill="#231f20" >0.02</text>
<text transform="translate(264.20,689.46) scale(1,1.0)" font-size="11" font-weight="normal" text-anchor="end" fill="#231f20" >0.04</text>
<text transform="translate(264.20,658.64) scale(1,1.0)" font-size="11" font-weight="normal" text-anchor="end" fill="#231f20" >0.06</text>
<text transform="translate(264.20,627.82) scale(1,1.0)" font-size="11" font-weight="normal" text-anchor="end" fill="#231f20" >0.08</text>
<text transform="translate(269.40,759.30) scale(1,1.0)" font-size="11" font-weight="normal" text-anchor="middle" fill="#231f20" >0.0</text>
<text transform="translate(301.70,759.30) scale(1,1.0)" font-size="11" font-weight="normal" text-anchor="middle" fill="#231f20" >0.2</text>
<text transform="translate(334.00,759.30) scale(1,1.0)" font-size="11" font-weight="normal" text-anchor="middle" fill="#231f20" >0.4</text>
<text transform="translate(366.30,759.30) scale(1,1.0)" font-size="11" font-weight="normal" text-anchor="middle" fill="#231f20" >0.6</text>
<text transform="translate(398.60,759.30) scale(1,1.0)" font-size="11" font-weight="normal" text-anchor="middle" fill="#231f20" >0.8</text>
<text transform="translate(430.90,759.30) scale(1,1.0)" font-size="11" font-weight="normal" text-anchor="middle" fill="#231f20" >1.0</text>
<text transform="translate(350.70,770.30) scale(1,1.0)" font-size="11" font-weight="bold" text-anchor="middle" fill="#231f20" >FRET efficiency (E)</text>
<text transform="translate(239.10,682.40) rotate(-90) scale(1,1.0)" font-size="10.75" font-weight="bold" text-anchor="middle" fill="#231f20" >normalized frames</text>
<text transform="translate(272.40,633.40) scale(1,1.0)" font-size="11" font-weight="normal" text-anchor="start" fill="#1f51a5" >E<tspan font-size="6.2" dy="3.2">1</tspan><tspan dy="-3.2"> = 0.35</tspan></text>
<text transform="translate(272.40,645.80) scale(1,1.0)" font-size="11" font-weight="normal" text-anchor="start" fill="#d17aa9" >E<tspan font-size="6.2" dy="3.2">2</tspan><tspan dy="-3.2"> = 0.59</tspan></text>
<rect x="486.45" y="340.80" width="2.35" height="0.80" fill="#c4c4c4"/>
<rect x="489.70" y="340.47" width="2.35" height="1.13" fill="#c4c4c4"/>
<rect x="492.94" y="339.58" width="2.35" height="2.02" fill="#c4c4c4"/>
<rect x="496.19" y="338.58" width="2.35" height="3.02" fill="#c4c4c4"/>
<rect x="499.43" y="336.96" width="2.35" height="4.64" fill="#c4c4c4"/>
<rect x="502.68" y="335.12" width="2.35" height="6.48" fill="#c4c4c4"/>
<rect x="505.93" y="332.20" width="2.35" height="9.40" fill="#c4c4c4"/>
<rect x="509.17" y="329.58" width="2.35" height="12.02" fill="#c4c4c4"/>
<rect x="512.42" y="326.15" width="2.35" height="15.45" fill="#c4c4c4"/>
<rect x="515.66" y="321.36" width="2.35" height="20.24" fill="#c4c4c4"/>
<rect x="518.91" y="316.78" width="2.35" height="24.82" fill="#c4c4c4"/>
<rect x="522.16" y="312.58" width="2.35" height="29.02" fill="#c4c4c4"/>
<rect x="525.40" y="308.13" width="2.35" height="33.47" fill="#c4c4c4"/>
<rect x="528.65" y="302.76" width="2.35" height="38.84" fill="#c4c4c4"/>
<rect x="531.89" y="298.39" width="2.35" height="43.21" fill="#c4c4c4"/>
<rect x="535.14" y="295.68" width="2.35" height="45.92" fill="#c4c4c4"/>
<rect x="538.39" y="291.25" width="2.35" height="50.35" fill="#c4c4c4"/>
<rect x="541.63" y="289.38" width="2.35" height="52.22" fill="#c4c4c4"/>
<rect x="544.88" y="279.09" width="2.35" height="62.51" fill="#c4c4c4"/>
<rect x="548.12" y="276.64" width="2.35" height="64.96" fill="#c4c4c4"/>
<rect x="551.37" y="267.44" width="2.35" height="74.16" fill="#c4c4c4"/>
<rect x="554.62" y="263.45" width="2.35" height="78.15" fill="#c4c4c4"/>
<rect x="557.86" y="253.82" width="2.35" height="87.78" fill="#c4c4c4"/>
<rect x="561.11" y="249.37" width="2.35" height="92.23" fill="#c4c4c4"/>
<rect x="564.35" y="247.32" width="2.35" height="94.28" fill="#c4c4c4"/>
<rect x="567.60" y="238.61" width="2.35" height="102.99" fill="#c4c4c4"/>
<rect x="570.85" y="241.83" width="2.35" height="99.77" fill="#c4c4c4"/>
<rect x="574.09" y="232.52" width="2.35" height="109.08" fill="#c4c4c4"/>
<rect x="577.34" y="238.86" width="2.35" height="102.74" fill="#c4c4c4"/>
<rect x="580.58" y="231.00" width="2.35" height="110.60" fill="#c4c4c4"/>
<rect x="583.83" y="229.87" width="2.35" height="111.73" fill="#c4c4c4"/>
<rect x="587.08" y="235.92" width="2.35" height="105.68" fill="#c4c4c4"/>
<rect x="590.32" y="243.01" width="2.35" height="98.59" fill="#c4c4c4"/>
<rect x="593.57" y="251.14" width="2.35" height="90.46" fill="#c4c4c4"/>
<rect x="596.81" y="258.10" width="2.35" height="83.50" fill="#c4c4c4"/>
<rect x="600.06" y="264.09" width="2.35" height="77.51" fill="#c4c4c4"/>
<rect x="603.31" y="274.36" width="2.35" height="67.24" fill="#c4c4c4"/>
<rect x="606.55" y="286.19" width="2.35" height="55.41" fill="#c4c4c4"/>
<rect x="609.80" y="296.75" width="2.35" height="44.85" fill="#c4c4c4"/>
<rect x="613.04" y="302.80" width="2.35" height="38.80" fill="#c4c4c4"/>
<rect x="616.29" y="312.55" width="2.35" height="29.05" fill="#c4c4c4"/>
<rect x="619.54" y="318.26" width="2.35" height="23.34" fill="#c4c4c4"/>
<rect x="622.78" y="323.87" width="2.35" height="17.73" fill="#c4c4c4"/>
<rect x="626.03" y="327.74" width="2.35" height="13.86" fill="#c4c4c4"/>
<rect x="629.27" y="331.62" width="2.35" height="9.98" fill="#c4c4c4"/>
<rect x="632.52" y="334.41" width="2.35" height="7.19" fill="#c4c4c4"/>
<rect x="635.77" y="336.59" width="2.35" height="5.01" fill="#c4c4c4"/>
<rect x="639.01" y="338.27" width="2.35" height="3.33" fill="#c4c4c4"/>
<rect x="642.26" y="339.29" width="2.35" height="2.31" fill="#c4c4c4"/>
<rect x="645.50" y="340.04" width="2.35" height="1.56" fill="#c4c4c4"/>
<polygon points="486.00,341.60 486.00,341.02 486.81,340.94 487.62,340.85 488.43,340.75 489.25,340.64 490.06,340.51 490.87,340.37 491.68,340.22 492.49,340.05 493.30,339.87 494.12,339.66 494.93,339.44 495.74,339.20 496.55,338.93 497.36,338.64 498.17,338.33 498.98,337.99 499.80,337.63 500.61,337.23 501.42,336.81 502.23,336.36 503.04,335.88 503.85,335.36 504.66,334.81 505.48,334.23 506.29,333.62 507.10,332.97 507.91,332.29 508.72,331.58 509.53,330.84 510.35,330.06 511.16,329.25 511.97,328.42 512.78,327.55 513.59,326.67 514.40,325.75 515.21,324.82 516.03,323.87 516.84,322.90 517.65,321.92 518.46,320.93 519.27,319.94 520.08,318.95 520.89,317.96 521.71,316.98 522.52,316.01 523.33,315.05 524.14,314.12 524.95,313.22 525.76,312.34 526.58,311.50 527.39,310.70 528.20,309.94 529.01,309.24 529.82,308.58 530.63,307.98 531.44,307.44 532.26,306.97 533.07,306.56 533.88,306.21 534.69,305.94 535.50,305.74 536.31,305.62 537.12,305.57 537.94,305.59 538.75,305.68 539.56,305.85 540.37,306.10 541.18,306.41 541.99,306.79 542.81,307.24 543.62,307.76 544.43,308.33 545.24,308.97 546.05,309.65 546.86,310.39 547.67,311.18 548.49,312.00 549.30,312.86 550.11,313.76 550.92,314.68 551.73,315.62 552.54,316.59 553.35,317.56 554.17,318.55 554.98,319.54 555.79,320.54 556.60,321.53 557.41,322.51 558.22,323.48 559.03,324.44 559.85,325.38 560.66,326.30 561.47,327.20 562.28,328.08 563.09,328.92 563.90,329.74 564.72,330.53 565.53,331.29 566.34,332.01 567.15,332.70 567.96,333.36 568.77,333.99 569.58,334.58 570.40,335.15 571.21,335.67 572.02,336.17 572.83,336.63 573.64,337.07 574.45,337.47 575.26,337.85 576.08,338.20 576.89,338.52 577.70,338.82 578.51,339.09 579.32,339.35 580.13,339.58 580.95,339.79 581.76,339.98 582.57,340.16 583.38,340.31 584.19,340.46 585.00,340.59 585.81,340.70 586.63,340.81 587.44,340.90 588.25,340.99 589.06,341.06 589.87,341.13 590.68,341.19 591.50,341.24 592.31,341.29 593.12,341.33 593.93,341.37 594.74,341.40 595.55,341.42 596.36,341.45 597.18,341.47 597.99,341.49 598.80,341.50 599.61,341.52 600.42,341.53 601.23,341.54 602.04,341.55 602.86,341.56 603.67,341.56 604.48,341.57 605.29,341.57 606.10,341.58 606.91,341.58 607.73,341.58 608.54,341.59 609.35,341.59 610.16,341.59 610.97,341.59 611.78,341.59 612.59,341.60 613.41,341.60 614.22,341.60 615.03,341.60 615.84,341.60 616.65,341.60 617.46,341.60 618.27,341.60 619.09,341.60 619.90,341.60 620.71,341.60 621.52,341.60 622.33,341.60 623.14,341.60 623.96,341.60 624.77,341.60 625.58,341.60 626.39,341.60 627.20,341.60 628.01,341.60 628.82,341.60 629.64,341.60 630.45,341.60 631.26,341.60 632.07,341.60 632.88,341.60 633.69,341.60 634.50,341.60 635.32,341.60 636.13,341.60 636.94,341.60 637.75,341.60 638.56,341.60 639.37,341.60 640.19,341.60 641.00,341.60 641.81,341.60 642.62,341.60 643.43,341.60 644.24,341.60 645.05,341.60 645.87,341.60 646.68,341.60 647.49,341.60 648.30,341.60 648.30,341.60" fill="#1fb5b5" fill-opacity="0.2"/>
<polygon points="486.00,341.60 486.00,341.59 486.81,341.59 487.62,341.59 488.43,341.59 489.25,341.59 490.06,341.59 490.87,341.58 491.68,341.58 492.49,341.58 493.30,341.57 494.12,341.57 494.93,341.56 495.74,341.56 496.55,341.55 497.36,341.54 498.17,341.54 498.98,341.53 499.80,341.51 500.61,341.50 501.42,341.49 502.23,341.47 503.04,341.45 503.85,341.43 504.66,341.41 505.48,341.38 506.29,341.35 507.10,341.31 507.91,341.27 508.72,341.23 509.53,341.18 510.35,341.13 511.16,341.07 511.97,341.00 512.78,340.92 513.59,340.84 514.40,340.75 515.21,340.64 516.03,340.53 516.84,340.40 517.65,340.26 518.46,340.11 519.27,339.94 520.08,339.75 520.89,339.55 521.71,339.32 522.52,339.08 523.33,338.81 524.14,338.52 524.95,338.20 525.76,337.85 526.58,337.48 527.39,337.07 528.20,336.63 529.01,336.16 529.82,335.65 530.63,335.10 531.44,334.51 532.26,333.87 533.07,333.19 533.88,332.46 534.69,331.69 535.50,330.86 536.31,329.98 537.12,329.04 537.94,328.05 538.75,326.99 539.56,325.88 540.37,324.71 541.18,323.47 541.99,322.17 542.81,320.81 543.62,319.38 544.43,317.88 545.24,316.32 546.05,314.69 546.86,312.99 547.67,311.24 548.49,309.41 549.30,307.53 550.11,305.58 550.92,303.58 551.73,301.51 552.54,299.40 553.35,297.23 554.17,295.02 554.98,292.76 555.79,290.46 556.60,288.13 557.41,285.77 558.22,283.38 559.03,280.98 559.85,278.56 560.66,276.14 561.47,273.72 562.28,271.30 563.09,268.90 563.90,266.52 564.72,264.16 565.53,261.84 566.34,259.57 567.15,257.35 567.96,255.18 568.77,253.08 569.58,251.05 570.40,249.11 571.21,247.25 572.02,245.49 572.83,243.82 573.64,242.27 574.45,240.83 575.26,239.51 576.08,238.31 576.89,237.24 577.70,236.31 578.51,235.51 579.32,234.85 580.13,234.34 580.95,233.97 581.76,233.75 582.57,233.67 583.38,233.75 584.19,233.97 585.00,234.34 585.81,234.85 586.63,235.51 587.44,236.31 588.25,237.24 589.06,238.31 589.87,239.51 590.68,240.83 591.50,242.27 592.31,243.82 593.12,245.49 593.93,247.25 594.74,249.11 595.55,251.05 596.36,253.08 597.18,255.18 597.99,257.35 598.80,259.57 599.61,261.84 600.42,264.16 601.23,266.52 602.04,268.90 602.86,271.30 603.67,273.72 604.48,276.14 605.29,278.56 606.10,280.98 606.91,283.38 607.73,285.77 608.54,288.13 609.35,290.46 610.16,292.76 610.97,295.02 611.78,297.23 612.59,299.40 613.41,301.51 614.22,303.58 615.03,305.58 615.84,307.53 616.65,309.41 617.46,311.24 618.27,312.99 619.09,314.69 619.90,316.32 620.71,317.88 621.52,319.38 622.33,320.81 623.14,322.17 623.96,323.47 624.77,324.71 625.58,325.88 626.39,326.99 627.20,328.05 628.01,329.04 628.82,329.98 629.64,330.86 630.45,331.69 631.26,332.46 632.07,333.19 632.88,333.87 633.69,334.51 634.50,335.10 635.32,335.65 636.13,336.16 636.94,336.63 637.75,337.07 638.56,337.48 639.37,337.85 640.19,338.20 641.00,338.52 641.81,338.81 642.62,339.08 643.43,339.32 644.24,339.55 645.05,339.75 645.87,339.94 646.68,340.11 647.49,340.26 648.30,340.40 648.30,341.60" fill="#0f4140" fill-opacity="0.2"/>
<polyline points="523.65,311.75 525.45,309.41 527.91,306.25 530.85,302.48 534.08,298.32 537.40,293.98 540.63,289.69 543.58,285.65 546.05,282.09 548.07,278.92 549.84,275.92 551.41,273.05 552.85,270.28 554.20,267.59 555.54,264.95 556.91,262.33 558.39,259.70 559.94,257.01 561.52,254.27 563.11,251.53 564.70,248.85 566.26,246.28 567.80,243.89 569.29,241.73 570.72,239.86 572.16,238.29 573.63,236.95 575.10,235.83 576.52,234.89 577.85,234.11 579.03,233.45 580.02,232.89 580.78,232.40" fill="none" stroke="#111" stroke-width="2.2" stroke-dasharray="0.4,3.3" stroke-linecap="round"/>
<polyline points="486.00,340.42 486.81,340.34 487.62,340.25 488.43,340.15 489.25,340.04 490.06,339.91 490.87,339.77 491.68,339.62 492.49,339.45 493.30,339.27 494.12,339.06 494.93,338.84 495.74,338.60 496.55,338.33 497.36,338.04 498.17,337.73 498.98,337.39 499.80,337.03 500.61,336.63 501.42,336.21 502.23,335.76 503.04,335.28 503.85,334.76 504.66,334.21 505.48,333.63 506.29,333.02 507.10,332.37 507.91,331.69 508.72,330.98 509.53,330.24 510.35,329.46 511.16,328.65 511.97,327.82 512.78,326.95 513.59,326.07 514.40,325.15 515.21,324.22 516.03,323.27 516.84,322.30 517.65,321.32 518.46,320.33 519.27,319.34 520.08,318.35 520.89,317.36 521.71,316.38 522.52,315.41 523.33,314.45 524.14,313.52 524.95,312.62 525.76,311.74 526.58,310.90 527.39,310.10 528.20,309.34 529.01,308.64 529.82,307.98 530.63,307.38 531.44,306.84 532.26,306.37 533.07,305.96 533.88,305.61 534.69,305.34 535.50,305.14 536.31,305.02 537.12,304.97 537.94,304.99 538.75,305.08 539.56,305.25 540.37,305.50 541.18,305.81 541.99,306.19 542.81,306.64 543.62,307.16 544.43,307.73 545.24,308.37 546.05,309.05 546.86,309.79 547.67,310.58 548.49,311.40 549.30,312.26 550.11,313.16 550.92,314.08 551.73,315.02 552.54,315.99 553.35,316.96 554.17,317.95 554.98,318.94 555.79,319.94 556.60,320.93 557.41,321.91 558.22,322.88 559.03,323.84 559.85,324.78 560.66,325.70 561.47,326.60 562.28,327.48 563.09,328.32 563.90,329.14 564.72,329.93 565.53,330.69 566.34,331.41 567.15,332.10 567.96,332.76 568.77,333.39 569.58,333.98 570.40,334.55 571.21,335.07 572.02,335.57 572.83,336.03 573.64,336.47 574.45,336.87 575.26,337.25 576.08,337.60 576.89,337.92 577.70,338.22 578.51,338.49 579.32,338.75 580.13,338.98 580.95,339.19 581.76,339.38 582.57,339.56 583.38,339.71 584.19,339.86 585.00,339.99 585.81,340.10 586.63,340.21 587.44,340.30 588.25,340.39 589.06,340.46 589.87,340.53 590.68,340.59 591.50,340.64 592.31,340.69 593.12,340.73 593.93,340.77 594.74,340.80 595.55,340.82 596.36,340.85 597.18,340.87 597.99,340.89 598.80,340.90 599.61,340.92 600.42,340.93 601.23,340.94 602.04,340.95 602.86,340.96 603.67,340.96 604.48,340.97 605.29,340.97 606.10,340.98 606.91,340.98 607.73,340.98 608.54,340.99 609.35,340.99 610.16,340.99 610.97,340.99 611.78,340.99 612.59,341.00 613.41,341.00 614.22,341.00 615.03,341.00 615.84,341.00 616.65,341.00 617.46,341.00 618.27,341.00 619.09,341.00 619.90,341.00 620.71,341.00 621.52,341.00 622.33,341.00 623.14,341.00 623.96,341.00 624.77,341.00 625.58,341.00 626.39,341.00 627.20,341.00 628.01,341.00 628.82,341.00 629.64,341.00 630.45,341.00 631.26,341.00 632.07,341.00 632.88,341.00 633.69,341.00 634.50,341.00 635.32,341.00 636.13,341.00 636.94,341.00 637.75,341.00 638.56,341.00 639.37,341.00 640.19,341.00 641.00,341.00 641.81,341.00 642.62,341.00 643.43,341.00 644.24,341.00 645.05,341.00 645.87,341.00 646.68,341.00 647.49,341.00 648.30,341.00" fill="none" stroke="#1fb5b5" stroke-width="3.6" stroke-linejoin="round"/>
<polyline points="486.00,340.99 486.81,340.99 487.62,340.99 488.43,340.99 489.25,340.99 490.06,340.99 490.87,340.98 491.68,340.98 492.49,340.98 493.30,340.97 494.12,340.97 494.93,340.96 495.74,340.96 496.55,340.95 497.36,340.94 498.17,340.94 498.98,340.93 499.80,340.91 500.61,340.90 501.42,340.89 502.23,340.87 503.04,340.85 503.85,340.83 504.66,340.81 505.48,340.78 506.29,340.75 507.10,340.71 507.91,340.67 508.72,340.63 509.53,340.58 510.35,340.53 511.16,340.47 511.97,340.40 512.78,340.32 513.59,340.24 514.40,340.15 515.21,340.04 516.03,339.93 516.84,339.80 517.65,339.66 518.46,339.51 519.27,339.34 520.08,339.15 520.89,338.95 521.71,338.72 522.52,338.48 523.33,338.21 524.14,337.92 524.95,337.60 525.76,337.25 526.58,336.88 527.39,336.47 528.20,336.03 529.01,335.56 529.82,335.05 530.63,334.50 531.44,333.91 532.26,333.27 533.07,332.59 533.88,331.86 534.69,331.09 535.50,330.26 536.31,329.38 537.12,328.44 537.94,327.45 538.75,326.39 539.56,325.28 540.37,324.11 541.18,322.87 541.99,321.57 542.81,320.21 543.62,318.78 544.43,317.28 545.24,315.72 546.05,314.09 546.86,312.39 547.67,310.64 548.49,308.81 549.30,306.93 550.11,304.98 550.92,302.98 551.73,300.91 552.54,298.80 553.35,296.63 554.17,294.42 554.98,292.16 555.79,289.86 556.60,287.53 557.41,285.17 558.22,282.78 559.03,280.38 559.85,277.96 560.66,275.54 561.47,273.12 562.28,270.70 563.09,268.30 563.90,265.92 564.72,263.56 565.53,261.24 566.34,258.97 567.15,256.75 567.96,254.58 568.77,252.48 569.58,250.45 570.40,248.51 571.21,246.65 572.02,244.89 572.83,243.22 573.64,241.67 574.45,240.23 575.26,238.91 576.08,237.71 576.89,236.64 577.70,235.71 578.51,234.91 579.32,234.25 580.13,233.74 580.95,233.37 581.76,233.15 582.57,233.07 583.38,233.15 584.19,233.37 585.00,233.74 585.81,234.25 586.63,234.91 587.44,235.71 588.25,236.64 589.06,237.71 589.87,238.91 590.68,240.23 591.50,241.67 592.31,243.22 593.12,244.89 593.93,246.65 594.74,248.51 595.55,250.45 596.36,252.48 597.18,254.58 597.99,256.75 598.80,258.97 599.61,261.24 600.42,263.56 601.23,265.92 602.04,268.30 602.86,270.70 603.67,273.12 604.48,275.54 605.29,277.96 606.10,280.38 606.91,282.78 607.73,285.17 608.54,287.53 609.35,289.86 610.16,292.16 610.97,294.42 611.78,296.63 612.59,298.80 613.41,300.91 614.22,302.98 615.03,304.98 615.84,306.93 616.65,308.81 617.46,310.64 618.27,312.39 619.09,314.09 619.90,315.72 620.71,317.28 621.52,318.78 622.33,320.21 623.14,321.57 623.96,322.87 624.77,324.11 625.58,325.28 626.39,326.39 627.20,327.45 628.01,328.44 628.82,329.38 629.64,330.26 630.45,331.09 631.26,331.86 632.07,332.59 632.88,333.27 633.69,333.91 634.50,334.50 635.32,335.05 636.13,335.56 636.94,336.03 637.75,336.47 638.56,336.88 639.37,337.25 640.19,337.60 641.00,337.92 641.81,338.21 642.62,338.48 643.43,338.72 644.24,338.95 645.05,339.15 645.87,339.34 646.68,339.51 647.49,339.66 648.30,339.80" fill="none" stroke="#0f4140" stroke-width="3.6" stroke-linejoin="round"/>
<line x1="486.00" y1="213.40" x2="486.00" y2="342.70" stroke="#000" stroke-width="2.1" />
<line x1="485.00" y1="341.60" x2="648.90" y2="341.60" stroke="#000" stroke-width="2.2" />
<line x1="486.00" y1="341.60" x2="486.00" y2="345.30" stroke="#000" stroke-width="1.1" />
<line x1="502.23" y1="341.60" x2="502.23" y2="344.60" stroke="#000" stroke-width="1.1" />
<line x1="518.46" y1="341.60" x2="518.46" y2="345.30" stroke="#000" stroke-width="1.1" />
<line x1="534.69" y1="341.60" x2="534.69" y2="344.60" stroke="#000" stroke-width="1.1" />
<line x1="550.92" y1="341.60" x2="550.92" y2="345.30" stroke="#000" stroke-width="1.1" />
<line x1="567.15" y1="341.60" x2="567.15" y2="344.60" stroke="#000" stroke-width="1.1" />
<line x1="583.38" y1="341.60" x2="583.38" y2="345.30" stroke="#000" stroke-width="1.1" />
<line x1="599.61" y1="341.60" x2="599.61" y2="344.60" stroke="#000" stroke-width="1.1" />
<line x1="615.84" y1="341.60" x2="615.84" y2="345.30" stroke="#000" stroke-width="1.1" />
<line x1="632.07" y1="341.60" x2="632.07" y2="344.60" stroke="#000" stroke-width="1.1" />
<line x1="648.30" y1="341.60" x2="648.30" y2="345.30" stroke="#000" stroke-width="1.1" />
<line x1="482.80" y1="341.60" x2="486.00" y2="341.60" stroke="#000" stroke-width="1.1" />
<line x1="482.80" y1="305.20" x2="486.00" y2="305.20" stroke="#000" stroke-width="1.1" />
<line x1="482.80" y1="268.80" x2="486.00" y2="268.80" stroke="#000" stroke-width="1.1" />
<line x1="482.80" y1="232.40" x2="486.00" y2="232.40" stroke="#000" stroke-width="1.1" />
<line x1="483.60" y1="323.40" x2="486.00" y2="323.40" stroke="#000" stroke-width="1.1" />
<line x1="483.60" y1="287.00" x2="486.00" y2="287.00" stroke="#000" stroke-width="1.1" />
<line x1="483.60" y1="250.60" x2="486.00" y2="250.60" stroke="#000" stroke-width="1.1" />
<text transform="translate(480.80,345.50) scale(1,1.0)" font-size="11" font-weight="normal" text-anchor="end" fill="#231f20" >0.00</text>
<text transform="translate(480.80,309.10) scale(1,1.0)" font-size="11" font-weight="normal" text-anchor="end" fill="#231f20" >0.02</text>
<text transform="translate(480.80,272.70) scale(1,1.0)" font-size="11" font-weight="normal" text-anchor="end" fill="#231f20" >0.04</text>
<text transform="translate(480.80,236.30) scale(1,1.0)" font-size="11" font-weight="normal" text-anchor="end" fill="#231f20" >0.06</text>
<text transform="translate(486.00,353.70) scale(1,1.0)" font-size="11" font-weight="normal" text-anchor="middle" fill="#231f20" >0.0</text>
<text transform="translate(518.46,353.70) scale(1,1.0)" font-size="11" font-weight="normal" text-anchor="middle" fill="#231f20" >0.2</text>
<text transform="translate(550.92,353.70) scale(1,1.0)" font-size="11" font-weight="normal" text-anchor="middle" fill="#231f20" >0.4</text>
<text transform="translate(583.38,353.70) scale(1,1.0)" font-size="11" font-weight="normal" text-anchor="middle" fill="#231f20" >0.6</text>
<text transform="translate(615.84,353.70) scale(1,1.0)" font-size="11" font-weight="normal" text-anchor="middle" fill="#231f20" >0.8</text>
<text transform="translate(648.30,353.70) scale(1,1.0)" font-size="11" font-weight="normal" text-anchor="middle" fill="#231f20" >1.0</text>
<text transform="translate(567.30,364.70) scale(1,1.0)" font-size="11" font-weight="bold" text-anchor="middle" fill="#231f20" >FRET efficiency (E)</text>
<text transform="translate(455.70,274.40) rotate(-90) scale(1,1.0)" font-size="10.75" font-weight="bold" text-anchor="middle" fill="#231f20" >normalized frames</text>
<text transform="translate(489.00,224.70) scale(1,1.0)" font-size="11" font-weight="normal" text-anchor="start" fill="#1fb5b5" >E<tspan font-size="6.2" dy="3.2">1</tspan><tspan dy="-3.2"> = 0.32</tspan></text>
<text transform="translate(489.00,236.80) scale(1,1.0)" font-size="11" font-weight="normal" text-anchor="start" fill="#0f4140" >E<tspan font-size="6.2" dy="3.2">2</tspan><tspan dy="-3.2"> = 0.59</tspan></text>
<text transform="translate(2.40,14.60) scale(1,1.0)" font-size="14.5" font-weight="bold" text-anchor="start" fill="#231f20" >A</text>
<text transform="translate(2.60,206.70) scale(1,1.0)" font-size="14.5" font-weight="bold" text-anchor="start" fill="#231f20" >B</text>
<text transform="translate(2.60,393.00) scale(1,1.0)" font-size="14.5" font-weight="bold" text-anchor="start" fill="#231f20" >C</text>
<text transform="translate(3.50,589.90) scale(1,1.0)" font-size="14.5" font-weight="bold" text-anchor="start" fill="#231f20" >D</text>
<text transform="translate(437.00,14.90) scale(1,1.0)" font-size="14.5" font-weight="bold" text-anchor="start" fill="#231f20" >E</text>
<text transform="translate(437.00,207.20) scale(1,1.0)" font-size="14.5" font-weight="bold" text-anchor="start" fill="#231f20" >F</text>
<text transform="translate(17.10,31.00) scale(1,1.0)" font-size="14.5" font-weight="normal" text-anchor="start" fill="#231f20" >i</text>
<text transform="translate(17.10,217.60) scale(1,1.0)" font-size="14.5" font-weight="normal" text-anchor="start" fill="#231f20" >i</text>
<text transform="translate(17.10,403.50) scale(1,1.0)" font-size="14.5" font-weight="normal" text-anchor="start" fill="#231f20" >i</text>
<text transform="translate(17.10,601.50) scale(1,1.0)" font-size="14.5" font-weight="normal" text-anchor="start" fill="#231f20" >i</text>
<text transform="translate(237.50,31.20) scale(1,1.0)" font-size="14.5" font-weight="normal" text-anchor="start" fill="#231f20" >ii</text>
<text transform="translate(237.50,217.70) scale(1,1.0)" font-size="14.5" font-weight="normal" text-anchor="start" fill="#231f20" >ii</text>
<text transform="translate(237.50,403.80) scale(1,1.0)" font-size="14.5" font-weight="normal" text-anchor="start" fill="#231f20" >ii</text>
<text transform="translate(237.50,601.60) scale(1,1.0)" font-size="14.5" font-weight="normal" text-anchor="start" fill="#231f20" >ii</text>
<text transform="translate(433.60,403.60) scale(1,1.0)" font-size="14.5" font-weight="normal" text-anchor="start" fill="#231f20" >iii</text>
<text transform="translate(433.60,602.10) scale(1,1.0)" font-size="14.5" font-weight="normal" text-anchor="start" fill="#231f20" >iii</text>
<rect x="489.90" y="158.50" width="21.3" height="5.50" fill="#b8bce6" stroke="#3d3d3d" stroke-width="1.9"/>
<rect x="522.20" y="153.80" width="21.3" height="10.20" fill="#b8bce6" stroke="#3d3d3d" stroke-width="1.9"/>
<rect x="554.40" y="129.50" width="21.3" height="34.50" fill="#b8bce6" stroke="#3d3d3d" stroke-width="1.9"/>
<rect x="586.70" y="81.80" width="21.3" height="82.20" fill="#b8bce6" stroke="#3d3d3d" stroke-width="1.9"/>
<rect x="618.50" y="113.40" width="21.3" height="50.60" fill="#5566b3" stroke="#3d3d3d" stroke-width="1.9"/>
<line x1="500.55" y1="153.80" x2="500.55" y2="162.50" stroke="#333" stroke-width="1.9" />
<line x1="495.05" y1="153.80" x2="506.05" y2="153.80" stroke="#333" stroke-width="1.9" />
<line x1="495.05" y1="162.50" x2="506.05" y2="162.50" stroke="#333" stroke-width="1.9" />
<polygon points="497.50,153.50 500.30,150.70 503.10,153.50 500.30,156.30" fill="#333"/>
<polygon points="497.50,162.00 500.30,159.20 503.10,162.00 500.30,164.80" fill="#333"/>
<line x1="532.85" y1="143.60" x2="532.85" y2="162.50" stroke="#333" stroke-width="1.9" />
<line x1="527.35" y1="143.60" x2="538.35" y2="143.60" stroke="#333" stroke-width="1.9" />
<line x1="527.35" y1="162.50" x2="538.35" y2="162.50" stroke="#333" stroke-width="1.9" />
<polygon points="529.80,139.90 532.60,137.10 535.40,139.90 532.60,142.70" fill="#333"/>
<polygon points="528.10,149.80 530.90,147.00 533.70,149.80 530.90,152.60" fill="#333"/>
<polygon points="525.60,162.20 528.40,159.40 531.20,162.20 528.40,165.00" fill="#333"/>
<polygon points="530.20,162.20 533.00,159.40 535.80,162.20 533.00,165.00" fill="#333"/>
<line x1="565.05" y1="120.80" x2="565.05" y2="138.20" stroke="#333" stroke-width="1.9" />
<line x1="559.55" y1="120.80" x2="570.55" y2="120.80" stroke="#333" stroke-width="1.9" />
<line x1="559.55" y1="138.20" x2="570.55" y2="138.20" stroke="#333" stroke-width="1.9" />
<polygon points="562.80,120.80 565.60,118.00 568.40,120.80 565.60,123.60" fill="#333"/>
<polygon points="564.00,125.00 566.80,122.20 569.60,125.00 566.80,127.80" fill="#333"/>
<polygon points="562.80,132.00 565.60,129.20 568.40,132.00 565.60,134.80" fill="#333"/>
<polygon points="562.10,140.60 564.90,137.80 567.70,140.60 564.90,143.40" fill="#333"/>
<line x1="597.35" y1="71.90" x2="597.35" y2="92.30" stroke="#333" stroke-width="1.9" />
<line x1="591.85" y1="71.90" x2="602.85" y2="71.90" stroke="#333" stroke-width="1.9" />
<line x1="591.85" y1="92.30" x2="602.85" y2="92.30" stroke="#333" stroke-width="1.9" />
<polygon points="595.10,70.40 597.90,67.60 600.70,70.40 597.90,73.20" fill="#333"/>
<polygon points="591.80,86.00 594.60,83.20 597.40,86.00 594.60,88.80" fill="#333"/>
<polygon points="597.50,89.80 600.30,87.00 603.10,89.80 600.30,92.60" fill="#333"/>
<line x1="629.15" y1="104.70" x2="629.15" y2="123.30" stroke="#333" stroke-width="1.9" />
<line x1="623.65" y1="104.70" x2="634.65" y2="104.70" stroke="#333" stroke-width="1.9" />
<line x1="623.65" y1="123.30" x2="634.65" y2="123.30" stroke="#333" stroke-width="1.9" />
<polygon points="622.40,108.40 625.20,105.60 628.00,108.40 625.20,111.20" fill="#333"/>
<polygon points="629.80,108.40 632.60,105.60 635.40,108.40 632.60,111.20" fill="#333"/>
<polygon points="626.10,124.50 628.90,121.70 631.70,124.50 628.90,127.30" fill="#333"/>
<line x1="484.40" y1="33.50" x2="484.40" y2="165.00" stroke="#000" stroke-width="1.9" />
<line x1="483.40" y1="164.00" x2="645.50" y2="164.00" stroke="#000" stroke-width="2.0" />
<line x1="481.20" y1="164.00" x2="484.40" y2="164.00" stroke="#000" stroke-width="1.2" />
<text transform="translate(480.40,167.60) scale(1,1.0)" font-size="10.2" font-weight="normal" text-anchor="end" fill="#231f20" >0</text>
<line x1="481.20" y1="131.95" x2="484.40" y2="131.95" stroke="#000" stroke-width="1.2" />
<text transform="translate(480.40,135.55) scale(1,1.0)" font-size="10.2" font-weight="normal" text-anchor="end" fill="#231f20" >10</text>
<line x1="481.20" y1="99.90" x2="484.40" y2="99.90" stroke="#000" stroke-width="1.2" />
<text transform="translate(480.40,103.50) scale(1,1.0)" font-size="10.2" font-weight="normal" text-anchor="end" fill="#231f20" >20</text>
<line x1="481.20" y1="67.85" x2="484.40" y2="67.85" stroke="#000" stroke-width="1.2" />
<text transform="translate(480.40,71.45) scale(1,1.0)" font-size="10.2" font-weight="normal" text-anchor="end" fill="#231f20" >30</text>
<line x1="481.20" y1="35.80" x2="484.40" y2="35.80" stroke="#000" stroke-width="1.2" />
<text transform="translate(480.40,39.40) scale(1,1.0)" font-size="10.2" font-weight="normal" text-anchor="end" fill="#231f20" >40</text>
<line x1="482.20" y1="147.97" x2="484.40" y2="147.97" stroke="#000" stroke-width="1.1" />
<line x1="482.20" y1="115.92" x2="484.40" y2="115.92" stroke="#000" stroke-width="1.1" />
<line x1="482.20" y1="83.88" x2="484.40" y2="83.88" stroke="#000" stroke-width="1.1" />
<line x1="482.20" y1="51.83" x2="484.40" y2="51.83" stroke="#000" stroke-width="1.1" />
<text transform="translate(500.55,175.40) scale(1,1.0)" font-size="9.7" font-weight="bold" text-anchor="middle" fill="#231f20" >w/o</text>
<text transform="translate(500.55,185.50) scale(1,1.0)" font-size="9.7" font-weight="bold" text-anchor="middle" fill="#231f20" >target</text>
<text transform="translate(532.85,175.40) scale(1,1.0)" font-size="9.7" font-weight="bold" text-anchor="middle" fill="#231f20" >seed</text>
<text transform="translate(532.85,185.50) scale(1,1.0)" font-size="9.7" font-weight="bold" text-anchor="middle" fill="#231f20" >match</text>
<text transform="translate(565.05,175.40) scale(1,1.0)" font-size="9.7" font-weight="bold" text-anchor="middle" fill="#231f20" >suppl.</text>
<text transform="translate(565.05,185.50) scale(1,1.0)" font-size="9.7" font-weight="bold" text-anchor="middle" fill="#231f20" >match</text>
<text transform="translate(597.35,175.40) scale(1,1.0)" font-size="9.7" font-weight="bold" text-anchor="middle" fill="#231f20" >full</text>
<text transform="translate(597.35,185.50) scale(1,1.0)" font-size="9.7" font-weight="bold" text-anchor="middle" fill="#231f20" >match</text>
<text transform="translate(629.15,175.40) scale(1,1.0)" font-size="9.7" font-weight="bold" text-anchor="middle" fill="#231f20" >full</text>
<text transform="translate(617.65,185.50) scale(1,1.0)" font-size="9.7" font-weight="bold" text-anchor="start" fill="#231f20" >match t4</text>
<text transform="translate(465.20,98.50) rotate(-90) scale(1,1.0)" font-size="11" font-weight="bold" text-anchor="middle" fill="#231f20" >dynamic molecules (%)</text>
<rect x="490.5" y="39.0" width="13.3" height="5.8" fill="#b8bce6" stroke="#333" stroke-width="1.2"/>
<rect x="490.5" y="49.2" width="13.3" height="5.8" fill="#5566b3" stroke="#333" stroke-width="1.2"/>
<text transform="translate(507.80,45.90) scale(1,1.0)" font-size="10.3" font-weight="normal" text-anchor="start" fill="#231f20" >labeled guide</text>
<text transform="translate(507.80,56.30) scale(1,1.0)" font-size="10.3" font-weight="normal" text-anchor="start" fill="#231f20" >labeled target</text>
<polyline points="485.30,447.71 486.11,447.01 486.92,447.36 487.73,444.89 488.54,437.35 489.36,448.45 490.17,439.19 490.98,438.03 491.79,429.57 492.60,445.17 493.41,441.50 494.22,438.20 495.03,434.78 495.84,446.00 496.65,436.82 497.47,444.26 498.28,443.31 499.09,448.88 499.90,446.82 500.71,443.95 501.52,439.19 502.33,444.67 503.14,436.92 503.95,440.27 504.76,442.23 505.57,442.68 506.39,432.54 507.20,439.28 508.01,443.16 508.82,443.36 509.63,433.20 510.44,442.00 511.25,435.57 512.06,439.22 512.87,448.35 513.69,434.97 514.50,440.65 515.31,444.86 516.12,441.87 516.93,437.85 517.74,431.26 518.55,438.34 519.36,442.53 520.17,435.24 520.98,434.42 521.79,433.22 522.61,436.25 523.42,433.00 524.23,428.59 525.04,437.33 525.85,442.71 526.66,437.77 527.47,437.89 528.28,436.75 529.09,446.11 529.90,453.03 530.72,438.12 531.53,447.56 532.34,445.14 533.15,434.12 533.96,443.75 534.77,441.58 535.58,438.53 536.39,441.63 537.20,443.03 538.01,441.77 538.83,441.45 539.64,442.00 540.45,439.23 541.26,434.03 542.07,438.60 542.88,433.98 543.69,437.20 544.50,436.85 545.31,437.76 546.12,440.98 546.94,438.36 547.75,438.79 548.56,443.94 549.37,437.17 550.18,437.79 550.99,438.55 551.80,441.93 552.61,449.48 553.42,434.55 554.24,440.15 555.05,447.82 555.86,437.53 556.67,442.44 557.48,437.39 558.29,440.26 559.10,435.76 559.91,439.04 560.72,438.88 561.53,439.35 562.35,435.41 563.16,444.61 563.97,435.61 564.78,437.39 565.59,441.91 566.40,439.90 567.21,441.52 568.02,439.68 568.83,436.47 569.64,442.37 570.46,437.19 571.27,436.17 572.08,437.57 572.89,434.20 573.70,440.15 574.51,437.37 575.32,430.87 576.13,439.79 576.94,447.55 577.75,439.05 578.57,437.76 579.38,442.14 580.19,440.78 581.00,441.74 581.81,443.71 582.62,443.61 583.43,444.12 584.24,441.51 585.05,437.37 585.86,441.29 586.67,444.71 587.49,439.01 588.30,444.51 589.11,450.57 589.92,444.58 590.73,449.03 591.54,447.43 592.35,447.81 593.16,442.14 593.97,448.13 594.78,446.30 595.60,444.47 596.41,443.04 597.22,440.83 598.03,448.84 598.84,440.82 599.65,444.04 600.46,440.78 601.27,441.29 602.08,447.07 602.89,444.99 603.71,446.20 604.52,443.77 605.33,455.84 606.14,444.93 606.95,447.54 607.76,441.64 608.57,448.74 609.38,445.12 610.19,445.18 611.00,449.75 611.82,442.24 612.63,441.26 613.44,445.42 614.25,447.10 615.06,445.72 615.87,451.54 616.68,444.24 617.49,449.65 618.30,448.61 619.12,443.68 619.93,441.76 620.74,448.28 621.55,438.37 622.36,438.69 623.17,444.50 623.98,445.40 624.79,444.38 625.60,441.35 626.41,442.99 627.23,437.54 628.04,437.27 628.85,441.70 629.66,441.35 630.47,442.15 631.28,442.43 632.09,443.40 632.90,445.36 633.71,431.44 634.52,441.16 635.34,439.63 636.15,438.09 636.96,441.65 637.77,437.79 638.58,444.79 639.39,443.77 640.20,437.37 641.01,440.84 641.82,445.09 642.63,445.46 643.44,438.69 644.26,443.28 645.07,437.45 645.88,438.93 646.69,441.08 647.50,440.16" fill="none" stroke="#5bb42d" stroke-width="1.5" stroke-linejoin="round"/>
<polyline points="485.30,447.65 486.11,443.32 486.92,455.70 487.73,437.86 488.54,449.17 489.36,452.00 490.17,452.01 490.98,453.06 491.79,449.83 492.60,445.86 493.41,446.80 494.22,446.60 495.03,455.35 495.84,454.89 496.65,443.16 497.47,445.36 498.28,440.80 499.09,444.45 499.90,452.84 500.71,444.17 501.52,446.63 502.33,448.19 503.14,452.07 503.95,446.45 504.76,449.54 505.57,445.64 506.39,448.53 507.20,443.04 508.01,451.90 508.82,454.45 509.63,447.12 510.44,452.24 511.25,453.43 512.06,445.19 512.87,447.05 513.69,449.60 514.50,456.07 515.31,451.53 516.12,457.40 516.93,451.26 517.74,448.28 518.55,448.02 519.36,453.00 520.17,448.53 520.98,455.60 521.79,452.81 522.61,456.85 523.42,452.10 524.23,451.43 525.04,452.46 525.85,452.73 526.66,446.69 527.47,446.38 528.28,456.29 529.09,447.32 529.90,455.46 530.72,451.75 531.53,449.64 532.34,448.58 533.15,452.92 533.96,451.70 534.77,448.70 535.58,451.60 536.39,451.40 537.20,446.49 538.01,445.50 538.83,445.04 539.64,448.92 540.45,449.07 541.26,451.44 542.07,450.91 542.88,452.89 543.69,446.56 544.50,449.31 545.31,448.32 546.12,448.24 546.94,447.00 547.75,443.66 548.56,450.02 549.37,450.50 550.18,448.24 550.99,452.17 551.80,444.22 552.61,445.52 553.42,446.39 554.24,449.44 555.05,447.66 555.86,445.05 556.67,447.12 557.48,450.04 558.29,455.32 559.10,445.44 559.91,450.32 560.72,452.16 561.53,445.65 562.35,447.72 563.16,454.32 563.97,449.36 564.78,450.00 565.59,445.27 566.40,456.11 567.21,450.99 568.02,453.00 568.83,443.67 569.64,441.31 570.46,460.03 571.27,454.19 572.08,448.01 572.89,445.95 573.70,442.49 574.51,449.68 575.32,452.00 576.13,445.67 576.94,449.03 577.75,449.75 578.57,448.93 579.38,444.21 580.19,452.38 581.00,452.84 581.81,449.24 582.62,449.24 583.43,452.05 584.24,452.29 585.05,447.57 585.86,443.97 586.67,446.32 587.49,446.42 588.30,431.35 589.11,443.50 589.92,441.69 590.73,438.67 591.54,440.51 592.35,439.74 593.16,435.76 593.97,440.85 594.78,437.69 595.60,443.29 596.41,439.68 597.22,430.97 598.03,438.06 598.84,434.81 599.65,433.37 600.46,437.87 601.27,433.85 602.08,435.22 602.89,433.41 603.71,438.41 604.52,441.43 605.33,439.86 606.14,438.11 606.95,434.01 607.76,436.79 608.57,437.52 609.38,436.70 610.19,431.90 611.00,438.19 611.82,430.35 612.63,440.63 613.44,438.25 614.25,432.82 615.06,434.08 615.87,439.24 616.68,436.43 617.49,438.69 618.30,432.83 619.12,434.00 619.93,438.70 620.74,434.53 621.55,437.40 622.36,436.29 623.17,435.78 623.98,438.14 624.79,434.43 625.60,447.26 626.41,447.39 627.23,444.85 628.04,450.01 628.85,454.56 629.66,450.83 630.47,448.24 631.28,448.91 632.09,437.12 632.90,445.97 633.71,449.43 634.52,449.41 635.34,452.70 636.15,445.11 636.96,449.98 637.77,453.06 638.58,453.18 639.39,450.55 640.20,443.15 641.01,446.09 641.82,455.35 642.63,449.46 643.44,448.00 644.26,446.64 645.07,447.70 645.88,451.40 646.69,447.45 647.50,451.07" fill="none" stroke="#de2d2d" stroke-width="1.5" stroke-linejoin="round"/>
<line x1="485.00" y1="408.50" x2="485.00" y2="463.20" stroke="#000" stroke-width="1.9" />
<line x1="484.00" y1="462.20" x2="648.30" y2="462.20" stroke="#000" stroke-width="1.9" />
<line x1="482.00" y1="456.50" x2="485.00" y2="456.50" stroke="#000" stroke-width="1.1" />
<text transform="translate(481.50,459.80) scale(1,1.0)" font-size="9.6" font-weight="normal" text-anchor="end" fill="#231f20" >0</text>
<line x1="482.00" y1="445.12" x2="485.00" y2="445.12" stroke="#000" stroke-width="1.1" />
<text transform="translate(481.50,448.43) scale(1,1.0)" font-size="9.6" font-weight="normal" text-anchor="end" fill="#231f20" >500</text>
<line x1="482.00" y1="433.75" x2="485.00" y2="433.75" stroke="#000" stroke-width="1.1" />
<text transform="translate(481.50,437.05) scale(1,1.0)" font-size="9.6" font-weight="normal" text-anchor="end" fill="#231f20" >1000</text>
<line x1="482.00" y1="422.38" x2="485.00" y2="422.38" stroke="#000" stroke-width="1.1" />
<text transform="translate(481.50,425.68) scale(1,1.0)" font-size="9.6" font-weight="normal" text-anchor="end" fill="#231f20" >1500</text>
<line x1="482.00" y1="411.00" x2="485.00" y2="411.00" stroke="#000" stroke-width="1.1" />
<text transform="translate(481.50,414.30) scale(1,1.0)" font-size="9.6" font-weight="normal" text-anchor="end" fill="#231f20" >2000</text>
<line x1="483.00" y1="450.81" x2="485.00" y2="450.81" stroke="#000" stroke-width="1.0" />
<line x1="483.00" y1="439.44" x2="485.00" y2="439.44" stroke="#000" stroke-width="1.0" />
<line x1="483.00" y1="428.06" x2="485.00" y2="428.06" stroke="#000" stroke-width="1.0" />
<line x1="483.00" y1="416.69" x2="485.00" y2="416.69" stroke="#000" stroke-width="1.0" />
<line x1="485.30" y1="462.20" x2="485.30" y2="464.40" stroke="#000" stroke-width="1.1" />
<line x1="525.85" y1="462.20" x2="525.85" y2="464.40" stroke="#000" stroke-width="1.1" />
<line x1="566.40" y1="462.20" x2="566.40" y2="464.40" stroke="#000" stroke-width="1.1" />
<line x1="606.95" y1="462.20" x2="606.95" y2="464.40" stroke="#000" stroke-width="1.1" />
<line x1="647.50" y1="462.20" x2="647.50" y2="464.40" stroke="#000" stroke-width="1.1" />
<text transform="translate(485.30,470.90) scale(1,1.0)" font-size="9.6" font-weight="normal" text-anchor="middle" fill="#231f20" >0</text>
<text transform="translate(525.85,470.90) scale(1,1.0)" font-size="9.6" font-weight="normal" text-anchor="middle" fill="#231f20" >5</text>
<text transform="translate(566.40,470.90) scale(1,1.0)" font-size="9.6" font-weight="normal" text-anchor="middle" fill="#231f20" >10</text>
<text transform="translate(606.95,470.90) scale(1,1.0)" font-size="9.6" font-weight="normal" text-anchor="middle" fill="#231f20" >15</text>
<text transform="translate(647.50,470.90) scale(1,1.0)" font-size="9.6" font-weight="normal" text-anchor="middle" fill="#231f20" >20</text>
<text transform="translate(564.50,482.30) scale(1,1.0)" font-size="11" font-weight="bold" text-anchor="middle" fill="#231f20" >time (s)</text>
<text transform="translate(460.00,433.00) rotate(-90) scale(1,1.0)" font-size="11" font-weight="bold" text-anchor="middle" fill="#231f20" >intensity</text>
<line x1="487.50" y1="405.00" x2="497.00" y2="405.00" stroke="#de2d2d" stroke-width="2.3" />
<text transform="translate(499.00,407.80) scale(1,1.0)" font-size="11" font-weight="bold" text-anchor="start" fill="#231f20" >Cy5</text>
<line x1="524.00" y1="405.00" x2="533.50" y2="405.00" stroke="#5bb42d" stroke-width="2.3" />
<text transform="translate(537.30,407.80) scale(1,1.0)" font-size="11" font-weight="bold" text-anchor="start" fill="#231f20" >DyLight 550</text>
<polyline points="485.30,545.48 486.11,549.19 486.92,549.20 487.73,532.21 488.54,548.75 489.36,545.28 490.17,547.77 490.98,545.08 491.79,547.93 492.60,547.94 493.41,549.02 494.22,548.54 495.03,547.33 495.84,546.54 496.65,548.44 497.47,549.17 498.28,548.15 499.09,548.57 499.90,549.01 500.71,547.71 501.52,549.03 502.33,548.91 503.14,548.37 503.95,548.96 504.76,539.54 505.57,549.24 506.39,539.79 507.20,548.06 508.01,549.54 508.82,530.51 509.63,547.60 510.44,546.31 511.25,548.76 512.06,536.06 512.87,545.46 513.69,547.14 514.50,548.47 515.31,549.62 516.12,548.43 516.93,535.02 517.74,547.53 518.55,543.17 519.36,547.39 520.17,549.47 520.98,535.58 521.79,547.22 522.61,540.95 523.42,549.10 524.23,541.84 525.04,546.90 525.85,548.83 526.66,549.17 527.47,546.32 528.28,547.10 529.09,546.14 529.90,549.05 530.72,545.42 531.53,547.73 532.34,549.40 533.15,548.46 533.96,549.46 534.77,543.98 535.58,548.86 536.39,542.25 537.20,540.75 538.01,547.63 538.83,544.99 539.64,548.57 540.45,548.45 541.26,538.76 542.07,530.51 542.88,546.95 543.69,545.98 544.50,547.82 545.31,544.32 546.12,548.39 546.94,545.19 547.75,548.89 548.56,548.75 549.37,549.36 550.18,548.66 550.99,546.08 551.80,547.93 552.61,545.81 553.42,547.30 554.24,541.86 555.05,546.28 555.86,548.39 556.67,546.31 557.48,548.19 558.29,547.98 559.10,548.89 559.91,546.57 560.72,549.10 561.53,548.71 562.35,547.65 563.16,543.86 563.97,546.68 564.78,548.68 565.59,548.95 566.40,548.04 567.21,546.43 568.02,547.49 568.83,548.87 569.64,549.58 570.46,547.88 571.27,545.58 572.08,548.40 572.89,548.55 573.70,549.58 574.51,546.67 575.32,546.28 576.13,548.84 576.94,535.28 577.75,548.27 578.57,545.67 579.38,548.71 580.19,546.23 581.00,548.44 581.81,549.59 582.62,545.96 583.43,540.73 584.24,548.35 585.05,546.10 585.86,546.89 586.67,548.58 587.49,508.65 588.30,527.10 589.11,548.35 589.92,546.51 590.73,547.92 591.54,547.81 592.35,549.35 593.16,549.00 593.97,549.46 594.78,547.22 595.60,547.27 596.41,546.57 597.22,547.05 598.03,520.13 598.84,524.05 599.65,524.09 600.46,521.60 601.27,525.08 602.08,529.49 602.89,524.61 603.71,518.76 604.52,520.67 605.33,517.82 606.14,514.75 606.95,518.04 607.76,521.87 608.57,524.70 609.38,519.74 610.19,515.07 611.00,515.82 611.82,517.81 612.63,524.91 613.44,519.25 614.25,518.74 615.06,516.62 615.87,526.81 616.68,524.47 617.49,521.07 618.30,521.12 619.12,524.12 619.93,519.58 620.74,522.83 621.55,517.10 622.36,523.62 623.17,520.82 623.98,530.20 624.79,520.80 625.60,549.22 626.41,547.86 627.23,546.81 628.04,546.75 628.85,546.70 629.66,548.58 630.47,548.48 631.28,547.71 632.09,549.06 632.90,549.09 633.71,549.14 634.52,548.06 635.34,548.42 636.15,543.53 636.96,548.94 637.77,540.82 638.58,530.51 639.39,547.18 640.20,546.15 641.01,547.84 641.82,538.78 642.63,548.54 643.44,547.21 644.26,548.59 645.07,546.52 645.88,535.84 646.69,542.47 647.50,536.76" fill="none" stroke="#404040" stroke-width="1.5" stroke-linejoin="round"/>
<polyline points="485.30,547.24 486.11,547.24 486.92,547.24 487.73,547.24 488.54,547.24 489.36,547.24 490.17,547.24 490.98,547.24 491.79,547.24 492.60,547.24 493.41,547.24 494.22,547.24 495.03,547.24 495.84,547.24 496.65,547.24 497.47,547.24 498.28,547.24 499.09,547.24 499.90,547.24 500.71,547.24 501.52,547.24 502.33,547.24 503.14,547.24 503.95,547.24 504.76,547.24 505.57,547.24 506.39,547.24 507.20,547.24 508.01,547.24 508.82,547.24 509.63,547.24 510.44,547.24 511.25,547.24 512.06,547.24 512.87,547.24 513.69,547.24 514.50,547.24 515.31,547.24 516.12,547.24 516.93,547.24 517.74,547.24 518.55,547.24 519.36,547.24 520.17,547.24 520.98,547.24 521.79,547.24 522.61,547.24 523.42,547.24 524.23,547.24 525.04,547.24 525.85,547.24 526.66,547.24 527.47,547.24 528.28,547.24 529.09,547.24 529.90,547.24 530.72,547.24 531.53,547.24 532.34,547.24 533.15,547.24 533.96,547.24 534.77,547.24 535.58,547.24 536.39,547.24 537.20,547.24 538.01,547.24 538.83,547.24 539.64,547.24 540.45,547.24 541.26,547.24 542.07,547.24 542.88,547.24 543.69,547.24 544.50,547.24 545.31,547.24 546.12,547.24 546.94,547.24 547.75,547.24 548.56,547.24 549.37,547.24 550.18,547.24 550.99,547.24 551.80,547.24 552.61,547.24 553.42,547.24 554.24,547.24 555.05,547.24 555.86,547.24 556.67,547.24 557.48,547.24 558.29,547.24 559.10,547.24 559.91,547.24 560.72,547.24 561.53,547.24 562.35,547.24 563.16,547.24 563.97,547.24 564.78,547.24 565.59,547.24 566.40,547.24 567.21,547.24 568.02,547.24 568.83,547.24 569.64,547.24 570.46,547.24 571.27,547.24 572.08,547.24 572.89,547.24 573.70,547.24 574.51,547.24 575.32,547.24 576.13,547.24 576.94,547.24 577.75,547.24 578.57,547.24 579.38,547.24 580.19,547.24 581.00,547.24 581.81,547.24 582.62,547.24 583.43,547.24 584.24,547.24 585.05,547.24 585.86,547.24 586.67,547.24 587.49,547.24 587.49,521.63 588.30,521.63 589.11,521.63 589.11,547.24 589.92,547.24 590.73,547.24 591.54,547.24 592.35,547.24 593.16,547.24 593.97,547.24 594.78,547.24 595.60,547.24 596.41,547.24 597.22,547.24 598.03,547.24 598.03,521.63 598.84,521.63 599.65,521.63 600.46,521.63 601.27,521.63 602.08,521.63 602.89,521.63 603.71,521.63 604.52,521.63 605.33,521.63 606.14,521.63 606.95,521.63 607.76,521.63 608.57,521.63 609.38,521.63 610.19,521.63 611.00,521.63 611.82,521.63 612.63,521.63 613.44,521.63 614.25,521.63 615.06,521.63 615.87,521.63 616.68,521.63 617.49,521.63 618.30,521.63 619.12,521.63 619.93,521.63 620.74,521.63 621.55,521.63 622.36,521.63 623.17,521.63 623.98,521.63 624.79,521.63 625.60,521.63 625.60,547.24 626.41,547.24 627.23,547.24 628.04,547.24 628.85,547.24 629.66,547.24 630.47,547.24 631.28,547.24 632.09,547.24 632.90,547.24 633.71,547.24 634.52,547.24 635.34,547.24 636.15,547.24 636.96,547.24 637.77,547.24 638.58,547.24 639.39,547.24 640.20,547.24 641.01,547.24 641.82,547.24 642.63,547.24 643.44,547.24 644.26,547.24 645.07,547.24 645.88,547.24 646.69,547.24 647.50,547.24" fill="none" stroke="#5aaedd" stroke-width="1.9" stroke-linejoin="round"/>
<line x1="485.00" y1="494.50" x2="485.00" y2="552.30" stroke="#000" stroke-width="1.9" />
<line x1="484.00" y1="551.30" x2="648.30" y2="551.30" stroke="#000" stroke-width="1.9" />
<line x1="482.00" y1="537.34" x2="485.00" y2="537.34" stroke="#000" stroke-width="1.1" />
<text transform="translate(481.50,540.64) scale(1,1.0)" font-size="9.6" font-weight="normal" text-anchor="end" fill="#231f20" >0.2</text>
<line x1="482.00" y1="523.68" x2="485.00" y2="523.68" stroke="#000" stroke-width="1.1" />
<text transform="translate(481.50,526.98) scale(1,1.0)" font-size="9.6" font-weight="normal" text-anchor="end" fill="#231f20" >0.4</text>
<line x1="482.00" y1="510.02" x2="485.00" y2="510.02" stroke="#000" stroke-width="1.1" />
<text transform="translate(481.50,513.32) scale(1,1.0)" font-size="9.6" font-weight="normal" text-anchor="end" fill="#231f20" >0.6</text>
<line x1="482.00" y1="496.36" x2="485.00" y2="496.36" stroke="#000" stroke-width="1.1" />
<text transform="translate(481.50,499.66) scale(1,1.0)" font-size="9.6" font-weight="normal" text-anchor="end" fill="#231f20" >0.8</text>
<line x1="483.00" y1="544.17" x2="485.00" y2="544.17" stroke="#000" stroke-width="1.0" />
<line x1="483.00" y1="530.51" x2="485.00" y2="530.51" stroke="#000" stroke-width="1.0" />
<line x1="483.00" y1="516.85" x2="485.00" y2="516.85" stroke="#000" stroke-width="1.0" />
<line x1="483.00" y1="503.19" x2="485.00" y2="503.19" stroke="#000" stroke-width="1.0" />
<line x1="485.30" y1="551.30" x2="485.30" y2="553.50" stroke="#000" stroke-width="1.1" />
<line x1="525.85" y1="551.30" x2="525.85" y2="553.50" stroke="#000" stroke-width="1.1" />
<line x1="566.40" y1="551.30" x2="566.40" y2="553.50" stroke="#000" stroke-width="1.1" />
<line x1="606.95" y1="551.30" x2="606.95" y2="553.50" stroke="#000" stroke-width="1.1" />
<line x1="647.50" y1="551.30" x2="647.50" y2="553.50" stroke="#000" stroke-width="1.1" />
<text transform="translate(485.30,560.20) scale(1,1.0)" font-size="9.6" font-weight="normal" text-anchor="middle" fill="#231f20" >0</text>
<text transform="translate(525.85,560.20) scale(1,1.0)" font-size="9.6" font-weight="normal" text-anchor="middle" fill="#231f20" >5</text>
<text transform="translate(566.40,560.20) scale(1,1.0)" font-size="9.6" font-weight="normal" text-anchor="middle" fill="#231f20" >10</text>
<text transform="translate(606.95,560.20) scale(1,1.0)" font-size="9.6" font-weight="normal" text-anchor="middle" fill="#231f20" >15</text>
<text transform="translate(647.50,560.20) scale(1,1.0)" font-size="9.6" font-weight="normal" text-anchor="middle" fill="#231f20" >20</text>
<text transform="translate(564.50,571.80) scale(1,1.0)" font-size="11" font-weight="bold" text-anchor="middle" fill="#231f20" >time (s)</text>
<text transform="translate(460.30,522.30) rotate(-90) scale(1,1.0)" font-size="11" font-weight="bold" text-anchor="middle" fill="#231f20" >FRET efficiency</text>
<line x1="487.50" y1="493.20" x2="497.00" y2="493.20" stroke="#5aaedd" stroke-width="2.3" />
<text transform="translate(499.00,496.20) scale(1,1.0)" font-size="11" font-weight="bold" text-anchor="start" fill="#231f20" >HMM analysis</text>
<polyline points="485.30,647.62 485.81,651.02 486.31,648.90 486.82,647.90 487.33,647.31 487.83,649.87 488.34,648.98 488.85,647.11 489.36,645.07 489.86,645.14 490.37,646.98 490.88,645.63 491.38,649.25 491.89,648.73 492.40,647.03 492.90,647.03 493.41,650.86 493.92,646.42 494.42,649.76 494.93,648.53 495.44,650.24 495.94,648.93 496.45,646.60 496.96,650.47 497.47,649.39 497.97,648.34 498.48,647.37 498.99,645.53 499.49,648.13 500.00,646.61 500.51,650.89 501.01,649.20 501.52,652.26 502.03,646.44 502.53,649.28 503.04,647.33 503.55,650.07 504.05,650.14 504.56,650.00 505.07,649.51 505.57,648.84 506.08,651.16 506.59,648.20 507.10,647.42 507.60,651.33 508.11,650.90 508.62,650.25 509.12,649.90 509.63,645.70 510.14,647.88 510.64,652.41 511.15,647.42 511.66,651.33 512.16,653.98 512.67,653.10 513.18,648.47 513.69,651.30 514.19,648.14 514.70,646.93 515.21,649.76 515.71,649.59 516.22,649.75 516.73,646.22 517.23,647.29 517.74,647.55 518.25,646.97 518.75,648.40 519.26,649.42 519.77,647.84 520.27,646.85 520.78,648.60 521.29,648.71 521.79,649.91 522.30,646.05 522.81,647.07 523.32,647.98 523.82,648.00 524.33,647.69 524.84,648.17 525.34,646.68 525.85,647.98 526.36,647.03 526.86,648.18 527.37,649.23 527.88,646.40 528.38,646.35 528.89,645.74 529.40,648.98 529.90,649.31 530.41,651.33 530.92,648.18 531.43,649.63 531.93,646.30 532.44,650.19 532.95,646.70 533.45,650.31 533.96,648.47 534.47,646.18 534.97,649.05 535.48,647.63 535.99,647.12 536.49,650.49 537.00,644.56 537.51,650.50 538.01,648.76 538.52,647.94 539.03,647.60 539.54,646.62 540.04,646.31 540.55,650.48 541.06,648.55 541.56,651.69 542.07,647.82 542.58,649.38 543.08,647.70 543.59,651.09 544.10,650.13 544.60,647.46 545.11,647.09 545.62,648.81 546.12,649.03 546.63,649.20 547.14,649.24 547.65,649.27 548.15,644.05 548.66,647.10 549.17,650.91 549.67,648.99 550.18,649.96 550.69,648.01 551.19,644.76 551.70,646.23 552.21,648.04 552.71,647.61 553.22,648.48 553.73,649.93 554.24,649.26 554.74,646.44 555.25,650.87 555.76,646.17 556.26,644.42 556.77,648.15 557.28,646.40 557.78,647.95 558.29,648.73 558.80,651.62 559.30,649.47 559.81,645.71 560.32,648.13 560.82,648.78 561.33,645.67 561.84,648.38 562.35,651.50 562.85,649.14 563.36,645.77 563.87,646.36 564.37,648.79 564.88,646.89 565.39,648.43 565.89,644.19 566.40,647.00 566.91,646.24 567.41,647.41 567.92,646.42 568.43,647.24 568.93,648.73 569.44,650.85 569.95,652.24 570.46,652.64 570.96,650.40 571.47,649.01 571.98,646.56 572.48,648.60 572.99,647.84 573.50,651.58 574.00,649.29 574.51,649.22 575.02,648.16 575.52,647.95 576.03,648.96 576.54,647.53 577.04,648.94 577.55,648.21 578.06,649.23 578.57,647.88 579.07,649.18 579.58,648.58 580.09,649.54 580.59,650.43 581.10,646.10 581.61,649.48 582.11,646.49 582.62,648.80 583.13,648.30 583.63,648.13 584.14,649.69 584.65,651.06 585.15,646.98 585.66,647.91 586.17,650.96 586.67,649.46 587.18,649.32 587.69,646.48 588.20,647.43 588.70,648.30 589.21,646.46 589.72,647.60 590.22,649.48 590.73,650.57 591.24,646.68 591.74,651.09 592.25,646.32 592.76,651.23 593.26,649.37 593.77,646.28 594.28,646.83 594.78,646.37 595.29,650.74 595.80,648.79 596.31,648.39 596.81,648.98 597.32,649.27 597.83,647.82 598.33,648.29 598.84,649.88 599.35,649.24 599.85,648.74 600.36,648.36 600.87,648.74 601.37,650.83 601.88,648.16 602.39,647.48 602.89,645.72 603.40,649.14 603.91,646.80 604.42,649.20 604.92,646.21 605.43,648.49 605.94,648.10 606.44,648.61 606.95,648.01 607.46,647.96 607.96,650.54 608.47,647.17 608.98,649.93 609.48,648.55 609.99,646.70 610.50,648.61 611.00,649.33 611.51,645.48 612.02,645.94 612.53,645.94 613.03,646.70 613.54,648.15 614.05,649.84 614.55,654.13 615.06,654.05 615.57,653.15 616.07,648.41 616.58,644.99 617.09,647.10 617.59,648.59 618.10,645.96 618.61,648.33 619.12,648.61 619.62,648.34 620.13,646.39 620.64,646.17 621.14,647.73 621.65,649.94 622.16,646.82 622.66,649.54 623.17,649.76 623.68,649.19 624.18,650.03 624.69,649.45 625.20,645.39 625.70,649.88 626.21,648.39 626.72,650.76 627.23,649.62 627.73,648.88 628.24,648.10 628.75,648.13 629.25,648.58 629.76,650.18 630.27,647.79 630.77,650.62 631.28,653.47 631.79,652.20 632.29,650.99 632.80,649.05 633.31,649.52 633.81,647.09 634.32,646.72 634.83,648.48 635.34,647.67 635.84,649.22 636.35,646.18 636.86,648.92 637.36,647.44 637.87,647.66 638.38,649.81 638.88,651.26 639.39,649.53 639.90,650.01 640.40,649.35 640.91,648.42 641.42,648.42 641.92,649.18 642.43,645.42 642.94,650.30 643.44,646.71 643.95,647.06 644.46,649.64 644.97,644.97 645.47,646.09 645.98,647.72 646.49,647.48 646.99,648.15 647.50,647.22" fill="none" stroke="#5bb42d" stroke-width="1.4" stroke-linejoin="round"/>
<polyline points="485.30,638.18 485.81,631.63 486.31,635.67 486.82,639.62 487.33,631.00 487.83,636.55 488.34,635.23 488.85,636.51 489.36,634.28 489.86,639.54 490.37,632.73 490.88,634.01 491.38,637.43 491.89,630.83 492.40,627.28 492.90,633.36 493.41,631.88 493.92,637.77 494.42,637.71 494.93,638.69 495.44,637.32 495.94,637.01 496.45,636.95 496.96,641.09 497.47,629.51 497.97,640.56 498.48,640.37 498.99,638.06 499.49,635.05 500.00,635.61 500.51,638.70 501.01,638.97 501.52,634.18 502.03,628.65 502.53,634.85 503.04,637.14 503.55,635.46 504.05,636.40 504.56,633.43 505.07,642.21 505.57,642.52 506.08,637.69 506.59,635.60 507.10,638.22 507.60,636.12 508.11,640.09 508.62,632.91 509.12,638.17 509.63,632.57 510.14,629.41 510.64,627.70 511.15,620.33 511.66,615.59 512.16,620.73 512.67,625.20 513.18,631.27 513.69,636.52 514.19,632.00 514.70,638.62 515.21,633.49 515.71,636.90 516.22,630.68 516.73,637.14 517.23,638.24 517.74,635.65 518.25,639.23 518.75,635.27 519.26,633.86 519.77,637.86 520.27,632.82 520.78,632.11 521.29,636.08 521.79,640.59 522.30,641.23 522.81,637.63 523.32,632.75 523.82,635.75 524.33,635.29 524.84,637.82 525.34,639.05 525.85,636.26 526.36,639.96 526.86,637.68 527.37,635.91 527.88,637.10 528.38,635.88 528.89,636.98 529.40,629.42 529.90,636.18 530.41,641.32 530.92,639.80 531.43,637.81 531.93,635.55 532.44,636.43 532.95,629.38 533.45,636.76 533.96,635.60 534.47,634.82 534.97,638.56 535.48,640.66 535.99,631.62 536.49,631.48 537.00,634.98 537.51,637.48 538.01,639.97 538.52,640.97 539.03,630.20 539.54,632.72 540.04,634.86 540.55,636.67 541.06,636.52 541.56,638.24 542.07,637.02 542.58,629.96 543.08,638.55 543.59,636.68 544.10,632.94 544.60,641.90 545.11,635.68 545.62,635.50 546.12,640.23 546.63,636.39 547.14,636.86 547.65,638.11 548.15,637.73 548.66,639.00 549.17,629.44 549.67,625.35 550.18,624.63 550.69,627.52 551.19,625.90 551.70,627.20 552.21,632.72 552.71,633.91 553.22,633.86 553.73,637.39 554.24,641.29 554.74,640.27 555.25,636.53 555.76,638.03 556.26,637.94 556.77,633.80 557.28,636.98 557.78,638.99 558.29,637.35 558.80,631.79 559.30,640.01 559.81,632.72 560.32,633.58 560.82,637.59 561.33,638.03 561.84,633.64 562.35,636.58 562.85,638.52 563.36,632.63 563.87,636.75 564.37,636.36 564.88,637.09 565.39,637.94 565.89,636.86 566.40,638.02 566.91,635.56 567.41,633.45 567.92,631.62 568.43,627.97 568.93,621.99 569.44,617.60 569.95,615.76 570.46,609.76 570.96,618.37 571.47,621.29 571.98,625.01 572.48,635.16 572.99,630.65 573.50,638.64 574.00,640.58 574.51,639.00 575.02,639.08 575.52,637.25 576.03,637.58 576.54,634.61 577.04,637.61 577.55,636.75 578.06,639.67 578.57,635.95 579.07,639.13 579.58,642.07 580.09,633.25 580.59,639.83 581.10,639.92 581.61,631.54 582.11,635.56 582.62,641.00 583.13,638.19 583.63,635.75 584.14,632.44 584.65,637.91 585.15,637.05 585.66,639.36 586.17,632.23 586.67,637.54 587.18,637.35 587.69,636.82 588.20,639.48 588.70,637.22 589.21,640.35 589.72,633.46 590.22,637.56 590.73,637.60 591.24,634.27 591.74,640.23 592.25,633.68 592.76,633.38 593.26,639.12 593.77,635.46 594.28,637.43 594.78,634.98 595.29,637.08 595.80,639.44 596.31,635.62 596.81,637.74 597.32,636.74 597.83,634.75 598.33,629.87 598.84,635.62 599.35,640.75 599.85,635.45 600.36,632.40 600.87,634.51 601.37,637.22 601.88,633.62 602.39,635.90 602.89,637.19 603.40,636.46 603.91,641.60 604.42,635.75 604.92,632.88 605.43,639.93 605.94,628.79 606.44,636.39 606.95,636.30 607.46,637.48 607.96,635.22 608.47,635.18 608.98,630.44 609.48,634.77 609.99,636.39 610.50,632.05 611.00,628.09 611.51,627.68 612.02,622.50 612.53,608.97 613.03,596.68 613.54,610.27 614.05,616.80 614.55,625.11 615.06,626.78 615.57,629.65 616.07,630.69 616.58,628.23 617.09,635.94 617.59,625.40 618.10,623.85 618.61,626.51 619.12,620.93 619.62,624.58 620.13,625.24 620.64,625.31 621.14,625.60 621.65,629.50 622.16,628.72 622.66,629.54 623.17,632.54 623.68,626.63 624.18,628.80 624.69,630.36 625.20,628.04 625.70,629.37 626.21,632.11 626.72,628.21 627.23,630.56 627.73,629.16 628.24,628.31 628.75,628.24 629.25,625.41 629.76,627.87 630.27,624.90 630.77,621.34 631.28,618.68 631.79,617.85 632.29,616.77 632.80,630.50 633.31,631.62 633.81,631.67 634.32,626.77 634.83,633.00 635.34,629.76 635.84,634.73 636.35,631.23 636.86,627.19 637.36,633.76 637.87,627.69 638.38,635.12 638.88,629.86 639.39,631.99 639.90,628.09 640.40,627.22 640.91,623.38 641.42,624.26 641.92,624.99 642.43,627.97 642.94,626.92 643.44,631.23 643.95,631.61 644.46,631.97 644.97,629.16 645.47,624.98 645.98,625.17 646.49,617.41 646.99,633.20 647.50,632.15" fill="none" stroke="#de2d2d" stroke-width="1.4" stroke-linejoin="round"/>
<line x1="485.00" y1="603.50" x2="485.00" y2="657.70" stroke="#000" stroke-width="1.9" />
<line x1="484.00" y1="656.70" x2="648.30" y2="656.70" stroke="#000" stroke-width="1.9" />
<line x1="482.00" y1="647.20" x2="485.00" y2="647.20" stroke="#000" stroke-width="1.1" />
<text transform="translate(481.50,650.50) scale(1,1.0)" font-size="9.6" font-weight="normal" text-anchor="end" fill="#231f20" >2000</text>
<line x1="482.00" y1="632.90" x2="485.00" y2="632.90" stroke="#000" stroke-width="1.1" />
<text transform="translate(481.50,636.20) scale(1,1.0)" font-size="9.6" font-weight="normal" text-anchor="end" fill="#231f20" >4000</text>
<line x1="482.00" y1="618.60" x2="485.00" y2="618.60" stroke="#000" stroke-width="1.1" />
<text transform="translate(481.50,621.90) scale(1,1.0)" font-size="9.6" font-weight="normal" text-anchor="end" fill="#231f20" >6000</text>
<line x1="482.00" y1="604.30" x2="485.00" y2="604.30" stroke="#000" stroke-width="1.1" />
<text transform="translate(481.50,607.60) scale(1,1.0)" font-size="9.6" font-weight="normal" text-anchor="end" fill="#231f20" >8000</text>
<line x1="483.00" y1="654.35" x2="485.00" y2="654.35" stroke="#000" stroke-width="1.0" />
<line x1="483.00" y1="640.05" x2="485.00" y2="640.05" stroke="#000" stroke-width="1.0" />
<line x1="483.00" y1="625.75" x2="485.00" y2="625.75" stroke="#000" stroke-width="1.0" />
<line x1="483.00" y1="611.45" x2="485.00" y2="611.45" stroke="#000" stroke-width="1.0" />
<line x1="485.30" y1="656.70" x2="485.30" y2="658.90" stroke="#000" stroke-width="1.1" />
<line x1="525.85" y1="656.70" x2="525.85" y2="658.90" stroke="#000" stroke-width="1.1" />
<line x1="566.40" y1="656.70" x2="566.40" y2="658.90" stroke="#000" stroke-width="1.1" />
<line x1="606.95" y1="656.70" x2="606.95" y2="658.90" stroke="#000" stroke-width="1.1" />
<line x1="647.50" y1="656.70" x2="647.50" y2="658.90" stroke="#000" stroke-width="1.1" />
<text transform="translate(485.30,666.30) scale(1,1.0)" font-size="9.6" font-weight="normal" text-anchor="middle" fill="#231f20" >0</text>
<text transform="translate(525.85,666.30) scale(1,1.0)" font-size="9.6" font-weight="normal" text-anchor="middle" fill="#231f20" >10</text>
<text transform="translate(566.40,666.30) scale(1,1.0)" font-size="9.6" font-weight="normal" text-anchor="middle" fill="#231f20" >20</text>
<text transform="translate(606.95,666.30) scale(1,1.0)" font-size="9.6" font-weight="normal" text-anchor="middle" fill="#231f20" >30</text>
<text transform="translate(647.50,666.30) scale(1,1.0)" font-size="9.6" font-weight="normal" text-anchor="middle" fill="#231f20" >40</text>
<text transform="translate(564.50,677.00) scale(1,1.0)" font-size="11" font-weight="bold" text-anchor="middle" fill="#231f20" >time (s)</text>
<text transform="translate(460.00,628.00) rotate(-90) scale(1,1.0)" font-size="11" font-weight="bold" text-anchor="middle" fill="#231f20" >intensity</text>
<line x1="487.50" y1="596.60" x2="497.00" y2="596.60" stroke="#de2d2d" stroke-width="2.3" />
<text transform="translate(499.00,599.60) scale(1,1.0)" font-size="11" font-weight="bold" text-anchor="start" fill="#231f20" >Cy5</text>
<line x1="524.00" y1="596.60" x2="533.50" y2="596.60" stroke="#5bb42d" stroke-width="2.3" />
<text transform="translate(537.30,599.60) scale(1,1.0)" font-size="11" font-weight="bold" text-anchor="start" fill="#231f20" >DyLight 550</text>
<polyline points="485.30,731.64 485.81,726.57 486.31,727.01 486.82,731.24 487.33,734.64 487.83,726.60 488.34,729.51 488.85,732.80 489.36,725.65 489.86,729.44 490.37,734.73 490.88,727.20 491.38,726.91 491.89,729.15 492.40,725.63 492.90,730.77 493.41,735.86 493.92,722.93 494.42,729.24 494.93,729.50 495.44,730.74 495.94,729.22 496.45,732.66 496.96,730.99 497.47,726.57 497.97,730.99 498.48,729.44 498.99,730.78 499.49,724.29 500.00,726.38 500.51,728.77 501.01,727.72 501.52,728.98 502.03,729.12 502.53,721.63 503.04,736.93 503.55,730.57 504.05,729.93 504.56,727.12 505.07,734.73 505.57,732.08 506.08,728.83 506.59,736.00 507.10,728.38 507.60,723.34 508.11,733.00 508.62,736.40 509.12,727.99 509.63,730.96 510.14,697.29 510.64,705.01 511.15,705.75 511.66,714.94 512.16,714.60 512.67,715.20 513.18,711.51 513.69,716.75 514.19,729.90 514.70,731.71 515.21,730.46 515.71,731.50 516.22,731.77 516.73,733.40 517.23,737.38 517.74,728.72 518.25,728.80 518.75,735.32 519.26,727.37 519.77,738.74 520.27,731.65 520.78,729.64 521.29,731.21 521.79,727.80 522.30,726.32 522.81,726.35 523.32,729.72 523.82,725.07 524.33,731.23 524.84,731.80 525.34,732.07 525.85,732.34 526.36,731.39 526.86,734.22 527.37,735.17 527.88,725.28 528.38,728.26 528.89,727.03 529.40,729.00 529.90,733.37 530.41,726.05 530.92,727.78 531.43,733.85 531.93,727.73 532.44,736.59 532.95,726.94 533.45,732.75 533.96,726.91 534.47,732.73 534.97,726.75 535.48,728.96 535.99,720.11 536.49,721.11 537.00,728.44 537.51,728.00 538.01,727.64 538.52,737.13 539.03,731.30 539.54,731.78 540.04,731.06 540.55,730.55 541.06,723.84 541.56,728.38 542.07,734.51 542.58,731.52 543.08,715.61 543.59,722.04 544.10,717.92 544.60,731.94 545.11,729.00 545.62,730.76 546.12,730.23 546.63,730.95 547.14,732.71 547.65,726.25 548.15,728.94 548.66,729.74 549.17,725.30 549.67,729.25 550.18,718.74 550.69,717.97 551.19,719.86 551.70,721.13 552.21,712.90 552.71,721.13 553.22,714.77 553.73,717.18 554.24,722.22 554.74,730.86 555.25,732.48 555.76,730.33 556.26,727.52 556.77,732.94 557.28,732.88 557.78,733.84 558.29,725.57 558.80,729.73 559.30,729.07 559.81,729.62 560.32,733.68 560.82,724.97 561.33,733.59 561.84,736.93 562.35,719.77 562.85,724.85 563.36,727.02 563.87,727.95 564.37,729.76 564.88,728.00 565.39,727.79 565.89,731.71 566.40,732.52 566.91,734.16 567.41,719.96 567.92,720.99 568.43,722.06 568.93,732.43 569.44,695.93 569.95,701.82 570.46,708.10 570.96,698.69 571.47,709.45 571.98,704.21 572.48,733.53 572.99,733.49 573.50,731.74 574.00,728.69 574.51,726.64 575.02,735.89 575.52,731.57 576.03,732.84 576.54,728.53 577.04,727.65 577.55,734.15 578.06,732.77 578.57,732.65 579.07,727.91 579.58,731.63 580.09,732.74 580.59,732.35 581.10,732.54 581.61,729.91 582.11,724.70 582.62,735.64 583.13,732.47 583.63,729.03 584.14,737.18 584.65,729.00 585.15,729.00 585.66,730.14 586.17,734.44 586.67,724.67 587.18,729.61 587.69,731.02 588.20,726.65 588.70,735.03 589.21,732.66 589.72,736.12 590.22,730.85 590.73,729.90 591.24,731.25 591.74,731.01 592.25,728.14 592.76,732.35 593.26,731.19 593.77,734.28 594.28,728.44 594.78,731.21 595.29,725.16 595.80,732.05 596.31,728.58 596.81,729.09 597.32,734.17 597.83,727.90 598.33,728.70 598.84,727.15 599.35,727.40 599.85,731.08 600.36,725.31 600.87,728.90 601.37,727.73 601.88,736.45 602.39,736.22 602.89,735.64 603.40,730.46 603.91,730.19 604.42,728.32 604.92,729.92 605.43,735.33 605.94,731.59 606.44,725.67 606.95,726.80 607.46,734.99 607.96,731.12 608.47,734.63 608.98,728.94 609.48,727.00 609.99,727.63 610.50,733.48 611.00,705.41 611.51,704.29 612.02,698.47 612.53,702.89 613.03,703.46 613.54,718.25 614.05,718.00 614.55,721.25 615.06,722.12 615.57,720.33 616.07,719.58 616.58,720.63 617.09,716.52 617.59,718.60 618.10,716.32 618.61,720.89 619.12,726.25 619.62,731.75 620.13,719.33 620.64,721.47 621.14,729.90 621.65,731.90 622.16,732.39 622.66,731.07 623.17,732.32 623.68,730.43 624.18,732.06 624.69,720.22 625.20,715.85 625.70,729.40 626.21,730.73 626.72,734.48 627.23,732.85 627.73,732.06 628.24,728.90 628.75,735.22 629.25,729.45 629.76,725.96 630.27,729.49 630.77,734.42 631.28,700.79 631.79,703.75 632.29,701.86 632.80,715.76 633.31,716.64 633.81,719.08 634.32,721.36 634.83,711.84 635.34,721.16 635.84,715.90 636.35,721.40 636.86,714.67 637.36,712.70 637.87,715.88 638.38,720.82 638.88,719.61 639.39,714.02 639.90,713.97 640.40,716.57 640.91,717.82 641.42,713.70 641.92,716.86 642.43,717.47 642.94,715.81 643.44,717.35 643.95,714.88 644.46,713.91 644.97,716.97 645.47,725.69 645.98,718.46 646.49,719.94 646.99,722.01 647.50,720.00" fill="none" stroke="#404040" stroke-width="1.4" stroke-linejoin="round"/>
<polyline points="485.30,730.12 485.81,730.12 486.31,730.12 486.82,730.12 487.33,730.12 487.83,730.12 488.34,730.12 488.85,730.12 489.36,730.12 489.86,730.12 490.37,730.12 490.88,730.12 491.38,730.12 491.38,723.38 491.89,723.38 492.40,723.38 492.90,723.38 492.90,730.12 493.41,730.12 493.92,730.12 494.42,730.12 494.93,730.12 495.44,730.12 495.94,730.12 496.45,730.12 496.96,730.12 497.47,730.12 497.97,730.12 498.48,730.12 498.99,730.12 499.49,730.12 500.00,730.12 500.51,730.12 501.01,730.12 501.52,730.12 502.03,730.12 502.53,730.12 503.04,730.12 503.55,730.12 504.05,730.12 504.56,730.12 505.07,730.12 505.57,730.12 506.08,730.12 506.59,730.12 507.10,730.12 507.60,730.12 508.11,730.12 508.62,730.12 509.12,730.12 509.63,730.12 510.14,730.12 510.14,703.80 510.64,703.80 511.15,703.80 511.66,703.80 511.66,718.65 512.16,718.65 512.67,718.65 513.18,718.65 513.69,718.65 514.19,718.65 514.19,730.12 514.70,730.12 515.21,730.12 515.71,730.12 516.22,730.12 516.73,730.12 517.23,730.12 517.74,730.12 518.25,730.12 518.75,730.12 519.26,730.12 519.77,730.12 520.27,730.12 520.78,730.12 521.29,730.12 521.79,730.12 522.30,730.12 522.81,730.12 523.32,730.12 523.82,730.12 524.33,730.12 524.84,730.12 525.34,730.12 525.85,730.12 526.36,730.12 526.86,730.12 527.37,730.12 527.88,730.12 528.38,730.12 528.89,730.12 529.40,730.12 529.90,730.12 530.41,730.12 530.92,730.12 531.43,730.12 531.93,730.12 532.44,730.12 532.95,730.12 533.45,730.12 533.96,730.12 534.47,730.12 534.97,730.12 535.48,730.12 535.99,730.12 535.99,722.02 536.49,722.02 537.00,722.02 537.00,730.12 537.51,730.12 538.01,730.12 538.52,730.12 539.03,730.12 539.54,730.12 540.04,730.12 540.55,730.12 541.06,730.12 541.56,730.12 542.07,730.12 542.58,730.12 543.08,730.12 543.08,718.65 543.59,718.65 544.10,718.65 544.60,718.65 544.60,730.12 545.11,730.12 545.62,730.12 546.12,730.12 546.63,730.12 547.14,730.12 547.65,730.12 548.15,730.12 548.66,730.12 549.17,730.12 549.67,730.12 550.18,730.12 550.18,718.65 550.69,718.65 551.19,718.65 551.70,718.65 552.21,718.65 552.71,718.65 553.22,718.65 553.73,718.65 554.24,718.65 554.74,718.65 554.74,730.12 555.25,730.12 555.76,730.12 556.26,730.12 556.77,730.12 557.28,730.12 557.78,730.12 558.29,730.12 558.80,730.12 559.30,730.12 559.81,730.12 560.32,730.12 560.82,730.12 561.33,730.12 561.84,730.12 562.35,730.12 562.35,722.02 562.85,722.02 563.36,722.02 563.36,730.12 563.87,730.12 564.37,730.12 564.88,730.12 565.39,730.12 565.89,730.12 566.40,730.12 566.91,730.12 567.41,730.12 567.41,718.65 567.92,718.65 568.43,718.65 568.93,718.65 568.93,730.12 569.44,730.12 569.44,703.80 569.95,703.80 570.46,703.80 570.96,703.80 571.47,703.80 571.98,703.80 572.48,703.80 572.48,730.12 572.99,730.12 573.50,730.12 574.00,730.12 574.51,730.12 575.02,730.12 575.52,730.12 576.03,730.12 576.54,730.12 577.04,730.12 577.55,730.12 578.06,730.12 578.57,730.12 579.07,730.12 579.58,730.12 580.09,730.12 580.59,730.12 581.10,730.12 581.61,730.12 582.11,730.12 582.62,730.12 583.13,730.12 583.63,730.12 584.14,730.12 584.65,730.12 585.15,730.12 585.66,730.12 586.17,730.12 586.67,730.12 587.18,730.12 587.69,730.12 588.20,730.12 588.70,730.12 589.21,730.12 589.72,730.12 590.22,730.12 590.73,730.12 591.24,730.12 591.74,730.12 592.25,730.12 592.76,730.12 593.26,730.12 593.77,730.12 594.28,730.12 594.78,730.12 595.29,730.12 595.80,730.12 596.31,730.12 596.81,730.12 597.32,730.12 597.83,730.12 598.33,730.12 598.84,730.12 599.35,730.12 599.85,730.12 600.36,730.12 600.87,730.12 601.37,730.12 601.88,730.12 602.39,730.12 602.89,730.12 603.40,730.12 603.91,730.12 604.42,730.12 604.92,730.12 605.43,730.12 605.94,730.12 606.44,730.12 606.95,730.12 607.46,730.12 607.96,730.12 608.47,730.12 608.98,730.12 609.48,730.12 609.99,730.12 610.50,730.12 611.00,730.12 611.00,703.80 611.51,703.80 612.02,703.80 612.53,703.80 613.03,703.80 613.54,703.80 613.54,718.65 614.05,718.65 614.55,718.65 615.06,718.65 615.57,718.65 616.07,718.65 616.58,718.65 617.09,718.65 617.59,718.65 618.10,718.65 618.61,718.65 619.12,718.65 619.62,718.65 619.62,730.12 620.13,730.12 620.13,722.02 620.64,722.02 621.14,722.02 621.65,722.02 621.65,730.12 622.16,730.12 622.66,730.12 623.17,730.12 623.68,730.12 624.18,730.12 624.69,730.12 624.69,718.65 625.20,718.65 625.70,718.65 625.70,730.12 626.21,730.12 626.72,730.12 627.23,730.12 627.73,730.12 628.24,730.12 628.75,730.12 629.25,730.12 629.76,730.12 630.27,730.12 630.77,730.12 631.28,730.12 631.28,703.80 631.79,703.80 632.29,703.80 632.80,703.80 632.80,718.65 633.31,718.65 633.81,718.65 634.32,718.65 634.83,718.65 635.34,718.65 635.84,718.65 636.35,718.65 636.86,718.65 637.36,718.65 637.87,718.65 638.38,718.65 638.88,718.65 639.39,718.65 639.90,718.65 640.40,718.65 640.91,718.65 641.42,718.65 641.92,718.65 642.43,718.65 642.94,718.65 643.44,718.65 643.95,718.65 644.46,718.65 644.97,718.65 645.47,718.65 645.98,718.65 646.49,718.65 646.99,718.65 647.50,718.65" fill="none" stroke="#5aaedd" stroke-width="1.8" stroke-linejoin="round"/>
<line x1="485.00" y1="694.00" x2="485.00" y2="746.30" stroke="#000" stroke-width="1.9" />
<line x1="484.00" y1="745.30" x2="648.30" y2="745.30" stroke="#000" stroke-width="1.9" />
<line x1="482.00" y1="738.90" x2="485.00" y2="738.90" stroke="#000" stroke-width="1.1" />
<text transform="translate(481.50,742.20) scale(1,1.0)" font-size="9.6" font-weight="normal" text-anchor="end" fill="#231f20" >0.2</text>
<line x1="482.00" y1="725.40" x2="485.00" y2="725.40" stroke="#000" stroke-width="1.1" />
<text transform="translate(481.50,728.70) scale(1,1.0)" font-size="9.6" font-weight="normal" text-anchor="end" fill="#231f20" >0.4</text>
<line x1="482.00" y1="711.90" x2="485.00" y2="711.90" stroke="#000" stroke-width="1.1" />
<text transform="translate(481.50,715.20) scale(1,1.0)" font-size="9.6" font-weight="normal" text-anchor="end" fill="#231f20" >0.6</text>
<line x1="482.00" y1="698.40" x2="485.00" y2="698.40" stroke="#000" stroke-width="1.1" />
<text transform="translate(481.50,701.70) scale(1,1.0)" font-size="9.6" font-weight="normal" text-anchor="end" fill="#231f20" >0.8</text>
<line x1="483.00" y1="732.15" x2="485.00" y2="732.15" stroke="#000" stroke-width="1.0" />
<line x1="483.00" y1="718.65" x2="485.00" y2="718.65" stroke="#000" stroke-width="1.0" />
<line x1="483.00" y1="705.15" x2="485.00" y2="705.15" stroke="#000" stroke-width="1.0" />
<line x1="485.30" y1="745.30" x2="485.30" y2="747.50" stroke="#000" stroke-width="1.1" />
<line x1="525.85" y1="745.30" x2="525.85" y2="747.50" stroke="#000" stroke-width="1.1" />
<line x1="566.40" y1="745.30" x2="566.40" y2="747.50" stroke="#000" stroke-width="1.1" />
<line x1="606.95" y1="745.30" x2="606.95" y2="747.50" stroke="#000" stroke-width="1.1" />
<line x1="647.50" y1="745.30" x2="647.50" y2="747.50" stroke="#000" stroke-width="1.1" />
<text transform="translate(485.30,755.10) scale(1,1.0)" font-size="9.6" font-weight="normal" text-anchor="middle" fill="#231f20" >0</text>
<text transform="translate(525.85,755.10) scale(1,1.0)" font-size="9.6" font-weight="normal" text-anchor="middle" fill="#231f20" >10</text>
<text transform="translate(566.40,755.10) scale(1,1.0)" font-size="9.6" font-weight="normal" text-anchor="middle" fill="#231f20" >20</text>
<text transform="translate(606.95,755.10) scale(1,1.0)" font-size="9.6" font-weight="normal" text-anchor="middle" fill="#231f20" >30</text>
<text transform="translate(647.50,755.10) scale(1,1.0)" font-size="9.6" font-weight="normal" text-anchor="middle" fill="#231f20" >40</text>
<text transform="translate(564.50,766.60) scale(1,1.0)" font-size="11" font-weight="bold" text-anchor="middle" fill="#231f20" >time (s)</text>
<text transform="translate(460.30,720.00) rotate(-90) scale(1,1.0)" font-size="11" font-weight="bold" text-anchor="middle" fill="#231f20" >FRET efficiency</text>
<line x1="487.50" y1="686.30" x2="497.00" y2="686.30" stroke="#5aaedd" stroke-width="2.3" />
<text transform="translate(499.00,689.60) scale(1,1.0)" font-size="11" font-weight="bold" text-anchor="start" fill="#231f20" >HMM analysis</text>
<polygon points="142.53,57.47 143.35,56.51 144.58,56.15 145.90,56.32 146.98,56.23 147.98,56.00 148.95,55.72 149.83,55.21 150.74,54.76 151.71,54.50 152.58,53.86 153.57,53.64 154.53,53.35 155.47,53.02 156.47,52.91 157.36,52.45 158.23,51.97 159.21,51.69 160.26,51.61 161.26,51.62 162.14,52.08 162.83,52.70 163.51,53.21 164.21,54.01 165.17,54.73 166.40,55.17 167.72,55.33 168.97,54.97 170.02,54.30 170.95,53.58 171.85,52.93 172.81,52.54 173.82,52.42 174.85,52.29 175.98,52.14 177.13,52.40 178.02,53.24 178.35,54.40 178.17,55.55 178.17,56.58 178.12,57.59 177.92,58.59 177.67,59.59 176.84,60.54 176.28,61.53 176.04,62.56 176.00,63.62 176.84,64.67 177.64,65.63 178.36,66.49 179.31,67.18 179.84,67.94 180.08,68.84 180.36,69.77 180.59,70.78 180.56,71.97 180.98,72.89 181.24,73.88 181.40,74.89 182.08,75.68 182.46,76.59 182.98,77.49 183.10,78.49 183.00,79.49 182.79,80.47 182.40,81.39 182.18,82.39 181.77,83.34 181.34,84.32 180.72,85.18 180.07,86.05 179.31,86.84 178.55,87.63 177.71,88.30 176.80,88.82 175.82,89.19 174.65,89.14 173.61,89.32 172.57,89.47 171.49,89.45 170.53,89.72 169.62,90.20 168.58,90.21 167.63,90.57 166.61,90.56 165.51,90.06 164.55,90.36 163.61,90.84 162.68,91.51 161.76,92.22 160.77,92.38 159.73,92.15 158.75,92.32 157.78,92.59 156.83,92.93 155.85,93.13 154.79,92.95 153.73,92.80 152.69,92.72 151.70,92.90 150.73,93.16 149.77,93.49 148.77,93.54 147.74,93.41 146.74,93.42 145.74,93.33 144.75,93.45 143.77,93.92 142.77,94.09 141.76,94.55 140.70,95.22 139.63,95.33 138.54,95.20 137.56,94.57 136.62,93.98 135.69,93.49 134.61,93.26 133.54,92.94 132.99,91.89 132.43,90.93 132.12,89.99 132.29,89.23 132.37,88.48 132.90,87.72 133.50,86.83 134.14,85.96 134.94,85.42 135.90,85.10 137.20,85.03 138.31,84.63 139.45,84.15 140.00,83.23 140.00,81.97 140.00,80.77 139.61,79.48 139.38,78.45 139.37,77.64 139.56,76.89 140.02,76.03 140.64,74.98 141.27,73.85 141.63,72.83 141.78,71.93 141.75,71.05 141.54,70.11 141.59,69.15 141.78,68.19 142.09,67.25 142.33,66.28 142.05,65.17 141.80,64.08 141.64,63.02 141.55,61.97 141.92,60.99 142.02,59.90 141.94,58.58" fill="#d8d8d8" stroke="#7d84c2" stroke-width="1.5" stroke-linejoin="round"/>
<polygon points="102.06,54.84 102.22,55.77 102.00,56.49 101.69,57.24 101.35,58.18 100.76,59.38 100.72,60.36 100.67,61.24 100.98,62.15 101.21,63.17 100.93,64.13 100.39,64.99 99.74,65.75 99.60,66.76 99.50,67.88 99.53,69.16 99.31,70.17 98.88,70.85 98.31,71.39 97.77,72.07 97.54,72.96 97.36,74.02 97.46,75.10 97.70,76.14 97.99,77.17 98.61,78.00 99.20,78.86 99.93,79.61 100.73,80.27 101.25,81.14 101.89,81.91 102.29,82.88 102.73,83.82 103.41,84.56 104.14,85.24 104.99,85.83 106.01,86.31 106.95,86.93 107.73,87.72 108.47,88.59 108.60,89.65 108.69,90.65 108.97,91.52 109.05,92.45 109.37,93.33 109.91,94.21 110.69,95.10 111.71,95.70 112.82,95.62 113.88,95.13 114.88,94.73 115.83,94.06 116.74,93.54 117.64,93.16 118.40,92.33 119.16,91.70 119.92,91.11 120.72,90.62 121.69,90.48 122.69,90.36 123.92,90.73 125.19,91.21 126.47,91.65 127.75,92.01 128.78,91.73 129.68,91.20 130.56,90.67 131.45,90.18 132.49,89.94 133.43,89.52 134.10,88.65 134.58,87.51 134.92,86.24 135.24,85.07 135.87,84.36 136.84,83.99 137.85,83.57 138.94,83.13 139.58,82.33 139.68,81.19 139.63,80.05 139.46,78.96 139.75,78.16 140.37,77.38 140.92,76.46 141.40,75.40 141.41,74.36 140.97,73.43 140.67,72.48 140.57,71.51 140.38,70.50 140.55,69.51 140.79,68.54 140.78,67.51 141.08,66.54 141.56,65.64 141.79,64.66 142.69,64.00 143.72,63.46 144.49,62.73 145.49,61.94 145.75,60.70 145.55,59.40 145.31,58.20 144.62,57.18 144.02,56.27 143.39,55.45 142.61,54.82 141.81,54.30 141.00,53.83 140.06,53.51 139.30,52.90 138.65,52.06 137.88,51.35 137.16,50.59 136.14,50.10 135.36,49.35 134.75,48.48 134.36,47.52 134.24,46.41 133.84,45.48 133.35,44.52 132.68,43.63 131.60,43.41 130.48,43.49 129.41,43.57 128.29,43.75 127.54,42.80 126.91,41.73 126.23,41.12 125.86,40.46 125.15,40.08 124.70,39.31 124.82,38.35 124.83,37.33 124.75,36.26 124.24,35.34 123.27,34.99 122.31,34.96 121.38,34.79 120.40,34.69 119.39,34.33 118.33,33.83 117.24,33.57 116.07,33.13 114.95,33.24 113.96,33.86 113.10,34.67 112.41,35.71 111.89,36.82 111.44,37.82 110.95,38.64 110.27,39.29 109.45,39.85 108.60,40.44 107.68,41.02 107.09,41.83 106.56,42.69 105.71,43.36 105.09,44.17 104.32,44.91 103.68,45.71 103.47,46.75 103.20,47.75 102.90,48.73 102.51,49.66 102.07,50.57 101.87,51.59 101.92,52.70 102.03,53.82" fill="#b5b5b5" stroke="#6c9f3f" stroke-width="1.5" stroke-linejoin="round"/>
<polygon points="141.30,16.64 142.29,16.52 143.03,15.54 143.77,14.53 144.62,13.73 145.59,13.13 146.72,13.04 147.89,13.37 148.97,13.90 149.97,14.29 150.89,14.80 151.85,15.12 152.80,15.41 153.74,15.69 154.62,16.25 155.57,16.67 156.53,17.01 157.54,17.08 158.62,16.46 159.67,15.94 160.71,15.19 161.67,14.81 162.59,14.54 163.53,14.67 164.53,15.07 165.61,15.59 166.66,16.48 167.73,16.85 168.51,17.59 169.03,18.49 169.19,19.54 168.76,20.56 168.67,21.58 168.90,22.57 169.74,23.16 170.74,23.35 171.68,23.59 172.50,24.27 173.26,25.07 173.91,25.66 174.33,26.21 174.88,26.60 175.41,27.27 175.87,28.21 176.09,29.22 176.18,30.24 176.22,31.25 176.04,32.24 176.24,33.26 176.33,34.21 176.30,35.13 176.55,36.03 176.74,36.98 177.09,38.02 177.47,39.21 177.33,40.48 176.75,41.61 175.88,42.48 174.79,43.05 173.79,43.57 172.86,44.06 172.14,44.71 171.50,45.48 170.89,46.35 170.07,46.96 169.03,47.15 167.84,46.94 166.48,46.34 165.32,46.31 164.36,46.93 163.64,48.00 163.32,49.37 163.07,50.65 162.34,51.36 161.43,51.86 160.44,52.15 159.39,52.10 158.41,52.30 157.37,52.14 156.29,51.86 155.24,51.85 154.16,51.89 153.22,52.45 152.41,53.29 151.55,53.87 150.57,54.17 149.51,54.34 148.61,54.78 147.83,55.39 147.29,56.54 146.64,57.66 145.61,58.21 144.36,58.79 143.08,58.23 142.26,57.16 141.84,56.05 141.96,54.84 141.44,53.98 140.77,53.19 140.16,52.40 139.42,51.72 139.24,50.67 139.29,49.38 138.78,48.50 138.31,47.62 137.46,47.04 136.43,46.54 136.00,45.63 135.33,44.85 134.88,43.94 134.47,42.99 133.97,42.00 134.04,40.93 134.35,39.92 134.93,38.98 135.49,38.00 135.65,36.92 135.51,35.83 134.97,34.89 134.26,34.08 133.63,33.25 132.79,32.40 132.09,31.36 132.07,30.22 132.26,29.12 132.94,28.17 133.89,27.36 134.82,26.65 135.27,25.86 135.54,24.97 135.88,24.02 135.90,22.68 136.52,22.01 137.11,21.35 137.63,20.58 138.26,19.75 138.49,18.78 138.69,17.77 139.43,17.10 140.42,16.90" fill="#f2c9e3" stroke="#c070b3" stroke-width="1.5" stroke-linejoin="round"/>
<polygon points="101.60,17.67 102.93,17.94 103.77,18.27 104.52,18.18 105.10,17.11 105.77,15.72 106.68,14.96 107.71,14.09 108.87,14.06 109.93,14.52 111.12,14.31 111.97,14.81 112.84,14.89 113.65,14.86 114.50,15.54 115.50,16.06 116.54,16.81 117.44,17.20 118.19,17.34 119.10,17.27 120.19,17.54 120.75,18.45 121.20,19.44 121.42,20.46 121.18,21.52 121.13,22.53 120.99,23.56 120.84,24.63 121.30,25.57 121.59,26.56 122.15,27.42 122.52,28.38 122.87,29.38 123.55,30.15 124.30,30.85 125.26,31.37 126.16,31.92 126.94,32.59 127.72,33.40 128.78,34.51 127.85,36.00 126.35,35.77 125.38,35.05 124.66,34.09 123.68,34.03 122.81,33.90 122.39,34.62 122.57,35.38 122.38,35.98 122.15,36.82 121.74,37.78 121.65,38.78 121.78,39.78 121.96,40.79 121.73,41.81 121.32,42.80 120.80,43.73 119.99,44.47 119.50,45.10 119.21,45.73 118.71,46.23 118.21,46.94 117.52,47.76 116.58,48.08 115.60,48.25 114.59,48.21 113.57,48.00 112.59,48.21 111.61,48.54 110.64,48.96 109.68,49.28 108.65,49.04 107.59,48.97 106.54,49.09 105.49,49.37 104.85,50.33 104.21,51.14 103.57,51.93 103.23,53.01 102.53,53.77 101.68,54.46 100.61,54.81 99.50,54.07 98.95,53.05 98.61,52.34 98.09,51.90 97.13,51.73 95.89,51.61 94.96,51.12 94.42,50.27 94.18,49.18 94.02,48.07 93.59,47.23 92.92,46.58 91.96,46.10 91.23,45.45 90.57,44.67 90.12,43.69 90.27,42.65 90.56,41.60 91.19,40.75 91.77,39.93 92.20,39.07 92.40,38.14 92.56,37.24 92.99,36.42 93.67,35.63 94.61,34.87 95.45,34.05 96.17,33.19 96.34,32.20 96.61,31.24 96.78,30.26 96.60,29.19 96.91,28.25 96.86,27.19 96.87,26.07 97.38,25.11 97.97,24.04 99.00,23.55 99.86,23.02 100.41,22.72 100.90,22.62 100.85,22.17 101.05,21.45 100.86,20.52 100.59,19.48 100.70,18.37" fill="#a3a3a3" stroke="#e8dc1c" stroke-width="2.6" stroke-linejoin="round"/>
<line x1="157.80" y1="14.90" x2="156.50" y2="19.70" stroke="#3a3a9c" stroke-width="1.4" />
<line x1="150.30" y1="40.30" x2="154.30" y2="43.30" stroke="#3a3a9c" stroke-width="1.4" />
<polyline points="102.50,47.90 103.25,47.91 104.18,47.93 105.27,47.96 106.50,47.98 107.83,48.01 109.25,48.04 110.72,48.07 112.22,48.10 113.73,48.12 115.21,48.15 116.64,48.18 118.00,48.20 119.33,48.23 120.68,48.27 122.06,48.31 123.44,48.36 124.83,48.41 126.22,48.45 127.59,48.48 128.94,48.51 130.27,48.51 131.56,48.50 132.81,48.46 134.00,48.40 135.15,48.31 136.25,48.20 137.33,48.08 138.37,47.93 139.38,47.77 140.38,47.60 141.34,47.41 142.30,47.21 143.23,47.00 144.16,46.77 145.08,46.54 146.00,46.30 146.91,46.05 147.79,45.78 148.66,45.49 149.52,45.19 150.36,44.88 151.19,44.56 152.01,44.23 152.81,43.90 153.62,43.55 154.41,43.21 155.21,42.85 156.00,42.50 156.79,42.14 157.58,41.78 158.37,41.40 159.15,41.02 159.92,40.64 160.69,40.24 161.44,39.85 162.19,39.44 162.91,39.04 163.63,38.63 164.32,38.22 165.00,37.80 165.65,37.38 166.29,36.95 166.90,36.51 167.50,36.07 168.08,35.62 168.66,35.17 169.22,34.72 169.78,34.27 170.33,33.82 170.89,33.37 171.44,32.93 172.00,32.50 172.58,32.06 173.19,31.59 173.81,31.11 174.44,30.63 175.07,30.14 175.69,29.67 176.28,29.21 176.83,28.79 177.34,28.39 177.80,28.04 178.19,27.74 178.50,27.50" fill="none" stroke="#4f95d2" stroke-width="1.5" stroke-linecap="round" stroke-linejoin="round"/>
<line x1="108.50" y1="48.02" x2="110.78" y2="53.37" stroke="#4f95d2" stroke-width="1.45"/><line x1="111.70" y1="48.09" x2="113.98" y2="53.43" stroke="#4f95d2" stroke-width="1.45"/><line x1="114.90" y1="48.15" x2="117.19" y2="53.49" stroke="#4f95d2" stroke-width="1.45"/><line x1="118.10" y1="48.20" x2="120.38" y2="53.55" stroke="#4f95d2" stroke-width="1.45"/><line x1="121.30" y1="48.29" x2="123.51" y2="53.66" stroke="#4f95d2" stroke-width="1.45"/><line x1="124.49" y1="48.40" x2="126.70" y2="53.77" stroke="#4f95d2" stroke-width="1.45"/><line x1="127.69" y1="48.49" x2="129.97" y2="53.83" stroke="#4f95d2" stroke-width="1.45"/><line x1="130.89" y1="48.51" x2="133.33" y2="53.78" stroke="#4f95d2" stroke-width="1.45"/><line x1="134.09" y1="48.39" x2="136.82" y2="53.52" stroke="#4f95d2" stroke-width="1.45"/><line x1="137.27" y1="48.08" x2="140.31" y2="53.04" stroke="#4f95d2" stroke-width="1.45"/><line x1="140.44" y1="47.59" x2="143.75" y2="52.36" stroke="#4f95d2" stroke-width="1.45"/><line x1="143.56" y1="46.92" x2="147.11" y2="51.52" stroke="#4f95d2" stroke-width="1.45"/><line x1="146.66" y1="46.11" x2="150.41" y2="50.55" stroke="#4f95d2" stroke-width="1.45"/><line x1="149.70" y1="45.12" x2="153.76" y2="49.29" stroke="#4f95d2" stroke-width="1.45"/><line x1="152.68" y1="43.95" x2="156.93" y2="47.92" stroke="#4f95d2" stroke-width="1.45"/><line x1="155.61" y1="42.67" x2="159.95" y2="46.54" stroke="#4f95d2" stroke-width="1.45"/><line x1="158.52" y1="41.33" x2="162.97" y2="45.06" stroke="#4f95d2" stroke-width="1.45"/><line x1="161.37" y1="39.88" x2="165.97" y2="43.44" stroke="#4f95d2" stroke-width="1.45"/><line x1="164.16" y1="38.31" x2="168.93" y2="41.64" stroke="#4f95d2" stroke-width="1.45"/><line x1="166.83" y1="36.56" x2="171.87" y2="39.46" stroke="#4f95d2" stroke-width="1.45"/><line x1="169.37" y1="34.60" x2="174.55" y2="37.23" stroke="#4f95d2" stroke-width="1.45"/><line x1="171.87" y1="32.60" x2="177.00" y2="35.33" stroke="#4f95d2" stroke-width="1.45"/><line x1="174.41" y1="30.66" x2="179.53" y2="33.40" stroke="#4f95d2" stroke-width="1.45"/><line x1="176.94" y1="28.70" x2="182.07" y2="31.44" stroke="#4f95d2" stroke-width="1.45"/>
<circle cx="160.00" cy="7.90" r="7.00" fill="#0fa199" stroke="none" stroke-width="0"/>
<circle cx="145.50" cy="34.60" r="6.60" fill="#dd2326" stroke="none" stroke-width="0"/>
<circle cx="102.10" cy="48.50" r="5.50" fill="#4a78bf" stroke="none" stroke-width="0"/>
<text transform="translate(99.50,51.50) rotate(-12)" font-size="8.5" fill="#111">P</text>
<text transform="translate(152.60,29.80) scale(1,1.0)" font-size="11" font-weight="normal" text-anchor="start" fill="#222" >g14</text>
<text transform="translate(172.70,7.60) scale(1,1.0)" font-size="11" font-weight="normal" text-anchor="start" fill="#222" >H291</text>
<line x1="125.20" y1="89.80" x2="131.10" y2="93.80" stroke="#6e4f3c" stroke-width="1.3" stroke-linecap="round"/>
<line x1="135.90" y1="89.40" x2="131.10" y2="93.80" stroke="#6e4f3c" stroke-width="1.3" stroke-linecap="round"/>
<line x1="131.10" y1="93.80" x2="131.10" y2="103.10" stroke="#6e4f3c" stroke-width="1.3" />
<line x1="131.10" y1="103.10" x2="126.60" y2="107.80" stroke="#6e4f3c" stroke-width="1.3" stroke-linecap="round"/>
<line x1="120.90" y1="103.50" x2="126.60" y2="107.80" stroke="#6e4f3c" stroke-width="1.3" stroke-linecap="round"/>
<line x1="126.60" y1="107.80" x2="126.60" y2="116.80" stroke="#6e4f3c" stroke-width="1.3" />
<polygon points="131.36,116.64 132.98,121.53 138.03,122.58 133.87,125.64 134.43,130.76 130.24,127.75 125.54,129.87 127.11,124.96 123.64,121.14 128.80,121.12" fill="#fff" stroke="#a0a0a0" stroke-width="0.9" stroke-linejoin="round"/>
<polygon points="123.30,118.20 132.70,117.30 127.60,121.20" fill="none" stroke="#2a2a2a" stroke-width="1.2" stroke-linejoin="round"/>
<polygon points="126.50,129.60 135.00,129.60 130.50,127.30" fill="none" stroke="#2a2a2a" stroke-width="1.2" stroke-linejoin="round"/>
<polyline points="130.8,130 131.9,140.7 128.4,146.4" fill="none" stroke="#8f8f8f" stroke-width="0.9"/>
<polygon points="120.50,140.70 141.70,140.70 135.50,150.40 113.80,150.40" fill="none" stroke="#8f8f8f" stroke-width="1.0"/>
<text transform="translate(45.20,84.20) scale(1,1.0)" font-size="11" font-weight="normal" text-anchor="middle" fill="#222" >guide</text>
<text transform="translate(47.00,97.70) scale(1,1.0)" font-size="11" font-weight="normal" text-anchor="middle" fill="#222" >only</text>
<polygon points="130.31,246.08 131.20,245.42 132.36,245.14 133.31,244.71 134.50,244.67 135.65,244.65 136.52,244.19 137.36,243.71 137.93,242.68 138.62,241.82 139.58,241.50 140.56,241.26 141.62,241.24 142.43,240.55 143.09,239.19 143.94,238.33 144.83,237.49 145.89,237.42 147.04,237.91 148.10,238.04 149.18,238.41 150.23,238.70 151.24,238.77 152.25,238.78 153.28,238.48 154.36,238.27 155.41,238.30 156.43,238.43 157.30,239.10 158.18,239.73 159.09,240.22 159.98,240.77 160.97,240.91 162.05,240.80 163.03,241.03 164.00,241.36 164.87,241.92 165.44,242.77 166.11,243.46 166.50,244.35 166.97,245.28 167.21,246.28 167.04,247.30 166.89,248.32 166.46,249.41 166.34,250.45 166.39,251.46 166.74,252.42 167.44,253.32 168.20,254.18 168.83,255.01 169.56,255.73 169.81,256.63 169.74,257.79 169.97,258.82 169.81,259.98 169.98,260.85 170.28,261.64 170.32,262.51 170.34,263.40 170.26,264.31 170.30,265.25 170.33,266.21 170.46,267.27 170.48,268.39 170.09,269.38 169.35,270.13 168.46,270.70 167.38,271.00 166.43,271.38 165.61,271.90 164.84,272.49 164.20,273.33 163.48,274.07 162.81,274.92 162.07,275.71 161.20,276.24 160.29,276.72 159.18,276.69 158.16,276.85 157.23,277.26 156.34,277.75 155.57,278.62 154.69,279.21 153.75,279.62 152.77,279.92 151.75,280.08 150.67,279.96 149.59,279.80 148.50,279.51 147.42,279.16 146.46,279.49 145.49,279.73 144.52,279.93 143.56,280.31 142.53,280.15 141.53,280.16 140.53,280.25 139.52,280.18 138.54,280.29 137.54,280.35 136.56,280.59 135.55,280.50 134.53,280.22 133.50,279.70 132.49,279.33 131.54,279.97 130.60,281.04 129.63,282.10 128.62,282.89 127.60,282.76 126.58,282.26 125.57,282.00 124.57,281.74 123.57,281.54 122.60,281.24 121.71,280.73 120.99,279.94 120.34,279.24 119.77,278.60 119.34,278.03 118.78,277.53 118.38,276.71 118.38,275.56 118.69,274.26 119.53,273.52 120.64,273.30 121.96,273.45 123.54,274.00 124.82,274.00 125.82,273.49 126.77,272.79 127.33,271.68 127.98,270.69 128.85,269.86 129.25,268.76 129.66,267.70 129.53,266.47 128.93,265.19 128.85,264.14 128.55,263.10 128.51,262.13 128.59,261.17 128.35,260.22 128.52,259.20 128.82,258.14 129.31,257.07 129.66,256.10 129.61,255.20 129.41,254.29 129.07,253.31 128.86,252.28 128.92,251.27 128.89,250.20 128.95,249.09 129.15,247.97 129.58,246.92" fill="#d8d8d8" stroke="#7d84c2" stroke-width="1.5" stroke-linejoin="round"/>
<polygon points="84.28,240.65 83.42,241.61 83.01,242.82 83.55,244.04 84.61,245.02 85.10,245.95 85.81,246.80 86.17,247.75 86.23,248.80 86.80,249.83 87.28,251.04 87.67,252.49 87.53,253.95 86.56,254.87 85.14,255.21 83.37,255.02 81.80,254.97 80.60,255.42 79.73,256.33 79.60,257.68 79.78,258.99 79.92,260.15 80.22,261.22 80.53,262.23 80.96,263.17 81.54,264.03 82.09,264.86 82.52,265.74 82.93,266.66 83.70,267.31 84.75,267.65 85.44,268.35 86.40,268.77 87.04,269.56 87.23,270.87 87.94,271.57 88.34,272.55 88.87,273.35 89.79,273.89 90.39,274.68 91.12,275.46 91.89,276.25 92.63,277.04 93.60,277.65 94.51,278.03 95.23,278.11 95.55,278.11 95.71,278.18 95.97,278.49 96.49,279.09 97.27,279.46 98.21,280.12 99.25,280.67 100.31,280.97 101.46,281.69 102.55,281.99 103.56,281.91 104.62,282.06 105.56,281.55 106.45,280.80 107.45,280.56 108.37,280.04 109.34,279.73 110.43,279.74 111.42,279.46 112.37,279.07 113.18,278.37 113.87,277.44 114.39,276.22 114.91,275.06 115.60,274.25 116.32,273.50 117.34,273.25 118.42,273.11 119.50,272.97 120.69,273.09 121.68,272.84 122.64,272.52 123.55,272.09 124.24,271.35 125.26,271.05 126.18,270.55 127.11,269.95 128.24,269.38 128.49,268.27 129.04,267.33 129.36,266.30 129.10,265.13 129.15,264.09 128.72,263.01 128.36,262.03 128.13,261.10 127.89,260.17 127.95,259.17 127.82,258.17 127.65,257.16 127.79,256.10 127.61,255.04 127.92,254.00 128.56,253.10 128.89,252.14 129.54,251.34 129.88,250.39 130.00,249.34 130.25,248.44 129.96,247.50 129.69,246.73 129.43,246.03 128.79,245.42 128.56,244.63 128.15,243.87 127.73,243.07 127.69,241.96 127.50,240.89 127.29,239.81 127.18,238.64 127.01,237.48 126.78,236.33 126.60,235.10 126.05,234.15 125.13,233.54 124.07,233.08 122.93,232.74 121.84,232.41 120.88,231.89 119.96,231.28 118.88,231.05 117.84,230.68 116.79,230.35 115.75,230.32 114.77,230.19 113.84,230.26 112.99,230.45 112.13,230.52 111.45,230.09 110.96,229.25 110.80,228.19 110.68,227.21 110.65,226.52 110.70,226.00 110.10,226.24 109.55,226.30 108.74,226.43 107.78,226.40 106.71,226.04 105.74,226.25 104.79,226.52 103.89,226.97 103.14,227.82 102.19,228.05 101.23,228.28 100.34,228.68 99.10,228.35 98.11,228.62 97.21,229.09 96.28,229.50 95.77,230.54 95.09,231.29 94.08,231.61 93.12,232.01 91.91,232.16 90.71,232.35 89.98,233.09 89.31,233.88 88.83,234.86 88.67,236.11 88.48,237.28 88.17,238.31 87.81,239.25 86.99,239.84 85.66,240.15" fill="#b5b5b5" stroke="#6c9f3f" stroke-width="1.5" stroke-linejoin="round"/>
<polygon points="128.73,202.05 129.88,202.00 131.08,202.47 132.12,202.95 132.98,202.62 133.88,202.26 134.81,201.20 135.83,200.38 136.90,200.19 137.95,200.31 138.93,200.80 139.86,201.37 140.80,201.76 141.76,202.04 142.65,202.67 143.57,203.12 144.50,203.57 145.45,203.90 146.48,203.94 147.50,204.03 148.51,204.19 149.53,204.51 150.58,204.71 151.63,204.49 152.65,204.29 153.59,203.73 154.50,202.86 155.57,202.63 156.79,202.58 157.84,203.23 157.84,204.57 158.11,205.52 158.54,206.40 159.28,207.00 160.09,207.31 160.52,208.07 161.07,209.02 161.63,210.05 162.15,210.95 162.82,211.47 163.63,211.89 164.42,212.50 165.52,213.14 166.27,214.03 166.63,215.04 166.72,216.08 166.14,217.19 165.87,218.24 165.70,219.26 165.22,220.27 165.06,221.19 164.52,222.02 163.86,222.68 163.61,223.37 163.50,224.18 163.64,225.29 163.68,226.50 163.59,227.70 163.22,228.69 162.62,229.51 161.82,230.16 161.06,230.85 160.30,231.55 159.71,232.47 159.21,233.64 158.37,234.39 157.34,234.74 155.84,233.96 154.22,232.90 152.69,232.28 151.27,232.15 150.48,232.98 150.06,234.13 149.53,234.92 148.95,235.63 148.31,236.40 147.47,236.79 146.65,237.46 145.74,237.85 144.75,237.95 143.78,238.08 142.79,238.12 141.84,238.43 140.91,238.94 139.98,239.67 139.04,240.36 138.07,241.00 137.03,241.23 135.95,241.23 134.89,240.65 133.90,240.01 133.04,239.23 132.38,238.23 131.66,237.66 131.11,236.84 130.52,236.12 129.73,235.65 129.01,235.05 128.20,234.53 127.24,234.13 126.48,233.52 125.65,232.97 124.70,232.51 124.13,231.72 123.42,231.01 122.92,230.16 122.58,229.22 122.19,228.30 122.22,227.20 122.18,226.16 121.98,225.23 121.49,224.42 120.26,223.75 118.98,222.92 118.24,221.86 117.95,220.71 118.53,219.64 119.09,218.65 119.38,217.64 119.60,216.64 119.63,215.59 119.92,214.62 120.56,213.74 121.00,212.81 121.45,211.88 121.99,210.99 122.16,209.91 122.62,208.98 122.93,207.95 123.21,206.90 123.91,206.15 124.71,205.47 125.56,204.82 126.34,204.13 126.97,203.28 127.62,202.37" fill="#f2c9e3" stroke="#c070b3" stroke-width="1.5" stroke-linejoin="round"/>
<polygon points="86.35,203.92 87.21,203.50 88.14,203.32 88.95,202.83 89.93,202.79 90.84,202.39 91.78,202.08 92.76,202.16 93.72,201.88 94.70,201.94 95.71,201.91 96.80,201.53 97.79,201.53 98.73,201.65 99.65,201.62 100.63,202.11 101.65,202.47 102.62,202.69 103.43,203.05 104.08,203.35 104.51,203.88 105.01,204.48 105.51,205.28 106.25,206.15 106.42,207.14 106.11,208.19 105.48,209.30 105.11,210.45 105.65,211.45 106.87,212.16 108.22,212.60 108.96,213.23 109.36,214.08 109.50,215.21 109.79,216.27 110.43,217.05 111.37,217.52 112.13,218.17 112.92,218.81 113.57,219.59 113.72,220.64 114.17,221.15 113.74,221.10 112.94,221.01 111.98,220.85 111.00,220.46 109.89,220.17 108.58,220.06 107.79,221.10 107.67,222.31 107.43,223.28 106.97,224.30 106.11,225.37 105.38,226.37 105.25,227.23 105.67,228.04 105.95,228.82 105.86,229.49 105.56,230.05 105.01,230.40 104.43,230.84 103.79,231.56 103.02,232.31 102.10,232.72 101.12,232.94 100.13,233.07 99.12,233.05 98.12,233.12 97.13,233.30 96.14,233.48 95.14,233.62 94.10,233.62 92.98,233.53 91.84,233.63 90.79,234.11 89.97,234.95 89.35,235.91 88.50,236.58 87.47,237.13 86.42,237.62 85.63,238.03 85.57,238.67 85.58,239.42 85.16,240.13 84.20,240.45 83.31,240.00 82.54,239.34 82.03,238.45 81.61,237.48 81.18,236.49 80.54,235.68 79.90,234.86 79.26,234.06 78.46,233.47 77.87,232.68 77.16,232.07 76.41,231.52 75.89,230.83 75.53,230.13 75.42,229.41 75.85,228.76 76.17,228.12 76.13,227.13 76.44,226.19 76.54,225.03 76.73,223.94 77.45,223.25 77.56,222.21 77.77,221.29 77.82,220.33 77.80,219.37 78.15,218.49 78.50,217.56 79.16,216.68 79.42,215.69 79.85,214.73 80.14,213.68 80.74,212.73 81.83,212.22 82.84,211.86 83.95,211.83 84.69,211.11 85.24,210.17 85.35,209.21 85.05,208.44 85.31,207.76 85.42,206.83 85.69,205.76 86.16,204.83" fill="#a3a3a3" stroke="#e8dc1c" stroke-width="2.6" stroke-linejoin="round"/>
<line x1="146.10" y1="203.00" x2="145.20" y2="207.30" stroke="#3a3a9c" stroke-width="1.4" />
<line x1="138.20" y1="221.30" x2="142.60" y2="224.80" stroke="#3a3a9c" stroke-width="1.4" />
<polyline points="90.30,241.80 90.96,241.80 91.75,241.80 92.68,241.80 93.71,241.79 94.85,241.79 96.06,241.79 97.34,241.79 98.67,241.79 100.04,241.79 101.43,241.79 102.82,241.79 104.20,241.80 105.63,241.81 107.17,241.82 108.80,241.84 110.48,241.85 112.20,241.87 113.93,241.89 115.65,241.91 117.33,241.93 118.95,241.95 120.48,241.96 121.91,241.98 123.20,242.00 124.37,242.01 125.44,242.00 126.44,241.98 127.36,241.96 128.22,241.93 129.03,241.91 129.80,241.90 130.54,241.91 131.26,241.94 131.97,241.99 132.68,242.08 133.40,242.20 134.11,242.35 134.80,242.53 135.46,242.73 136.10,242.94 136.72,243.18 137.33,243.44 137.91,243.72 138.49,244.02 139.05,244.34 139.60,244.68 140.15,245.03 140.70,245.40 141.23,245.80 141.74,246.24 142.22,246.71 142.69,247.20 143.15,247.72 143.60,248.24 144.05,248.78 144.51,249.31 144.98,249.83 145.46,250.34 145.97,250.83 146.50,251.30 147.06,251.77 147.65,252.25 148.25,252.76 148.87,253.26 149.51,253.76 150.14,254.24 150.78,254.70 151.41,255.11 152.04,255.48 152.65,255.79 153.24,256.04 153.80,256.20 154.34,256.30 154.85,256.36 155.34,256.38 155.82,256.35 156.29,256.27 156.75,256.14 157.21,255.96 157.68,255.73 158.16,255.44 158.65,255.09 159.16,254.68 159.70,254.20 160.28,253.60 160.92,252.86 161.60,251.99 162.30,251.03 163.01,250.01 163.72,248.97 164.40,247.94 165.06,246.95 165.66,246.02 166.19,245.20 166.64,244.52 167.00,244.00" fill="none" stroke="#e8402c" stroke-width="1.5" stroke-linecap="round" stroke-linejoin="round"/>
<line x1="91.80" y1="241.80" x2="89.54" y2="236.80" stroke="#e8402c" stroke-width="1.45"/><line x1="95.00" y1="241.79" x2="92.74" y2="236.79" stroke="#e8402c" stroke-width="1.45"/><line x1="98.20" y1="241.79" x2="95.95" y2="236.79" stroke="#e8402c" stroke-width="1.45"/><line x1="101.40" y1="241.79" x2="99.16" y2="236.78" stroke="#e8402c" stroke-width="1.45"/><line x1="104.60" y1="241.80" x2="102.38" y2="236.79" stroke="#e8402c" stroke-width="1.45"/><line x1="107.80" y1="241.83" x2="105.59" y2="236.81" stroke="#e8402c" stroke-width="1.45"/><line x1="111.00" y1="241.86" x2="108.80" y2="236.84" stroke="#e8402c" stroke-width="1.45"/><line x1="114.20" y1="241.89" x2="112.00" y2="236.87" stroke="#e8402c" stroke-width="1.45"/><line x1="117.40" y1="241.93" x2="115.21" y2="236.90" stroke="#e8402c" stroke-width="1.45"/><line x1="120.60" y1="241.97" x2="118.41" y2="236.94" stroke="#e8402c" stroke-width="1.45"/><line x1="123.80" y1="242.00" x2="121.57" y2="236.99" stroke="#e8402c" stroke-width="1.45"/><line x1="127.00" y1="241.96" x2="124.62" y2="237.02" stroke="#e8402c" stroke-width="1.45"/><line x1="130.20" y1="241.91" x2="128.01" y2="236.88" stroke="#e8402c" stroke-width="1.45"/><line x1="133.38" y1="242.20" x2="132.10" y2="236.87" stroke="#e8402c" stroke-width="1.45"/><line x1="136.45" y1="243.08" x2="136.17" y2="237.60" stroke="#e8402c" stroke-width="1.45"/><line x1="139.31" y1="244.50" x2="139.96" y2="239.06" stroke="#e8402c" stroke-width="1.45"/><line x1="141.89" y1="246.39" x2="143.68" y2="241.21" stroke="#e8402c" stroke-width="1.45"/><line x1="144.04" y1="248.76" x2="146.35" y2="243.79" stroke="#e8402c" stroke-width="1.45"/><line x1="146.24" y1="251.07" x2="147.89" y2="245.84" stroke="#e8402c" stroke-width="1.45"/><line x1="148.70" y1="253.12" x2="150.09" y2="247.82" stroke="#e8402c" stroke-width="1.45"/><line x1="151.27" y1="255.02" x2="152.06" y2="249.59" stroke="#e8402c" stroke-width="1.45"/><line x1="154.19" y1="256.27" x2="152.83" y2="250.96" stroke="#e8402c" stroke-width="1.45"/><line x1="157.31" y1="255.91" x2="153.19" y2="252.30" stroke="#e8402c" stroke-width="1.45"/><line x1="159.88" y1="254.02" x2="154.75" y2="252.07" stroke="#e8402c" stroke-width="1.45"/><line x1="161.91" y1="251.56" x2="156.55" y2="250.40" stroke="#e8402c" stroke-width="1.45"/><line x1="163.75" y1="248.93" x2="158.34" y2="248.02" stroke="#e8402c" stroke-width="1.45"/><line x1="165.50" y1="246.26" x2="160.08" y2="245.42" stroke="#e8402c" stroke-width="1.45"/>
<polyline points="83.50,231.50 85.08,231.50 87.14,231.50 89.59,231.50 92.35,231.51 95.32,231.51 98.43,231.51 101.58,231.51 104.70,231.50 107.68,231.49 110.45,231.47 112.92,231.44 115.00,231.40 116.74,231.36 118.25,231.31 119.57,231.27 120.73,231.22 121.76,231.17 122.69,231.11 123.57,231.03 124.41,230.94 125.25,230.84 126.12,230.72 127.06,230.57 128.10,230.40 129.21,230.21 130.33,229.99 131.46,229.76 132.59,229.51 133.73,229.24 134.86,228.96 135.99,228.67 137.10,228.36 138.19,228.03 139.26,227.70 140.29,227.35 141.30,227.00 142.27,226.65 143.20,226.30 144.09,225.95 144.97,225.60 145.82,225.23 146.66,224.84 147.50,224.43 148.33,223.99 149.18,223.51 150.03,222.99 150.90,222.42 151.80,221.80 152.75,221.08 153.78,220.24 154.85,219.30 155.96,218.30 157.06,217.27 158.16,216.23 159.21,215.20 160.21,214.22 161.13,213.31 161.95,212.50 162.65,211.82 163.20,211.30" fill="none" stroke="#4f95d2" stroke-width="1.5" stroke-linecap="round" stroke-linejoin="round"/>
<line x1="89.50" y1="231.50" x2="91.88" y2="236.81" stroke="#4f95d2" stroke-width="1.45"/><line x1="92.70" y1="231.51" x2="95.08" y2="236.81" stroke="#4f95d2" stroke-width="1.45"/><line x1="95.90" y1="231.51" x2="98.28" y2="236.81" stroke="#4f95d2" stroke-width="1.45"/><line x1="99.10" y1="231.51" x2="101.49" y2="236.81" stroke="#4f95d2" stroke-width="1.45"/><line x1="102.30" y1="231.51" x2="104.70" y2="236.80" stroke="#4f95d2" stroke-width="1.45"/><line x1="105.50" y1="231.50" x2="107.91" y2="236.79" stroke="#4f95d2" stroke-width="1.45"/><line x1="108.70" y1="231.48" x2="111.12" y2="236.77" stroke="#4f95d2" stroke-width="1.45"/><line x1="111.90" y1="231.45" x2="114.35" y2="236.72" stroke="#4f95d2" stroke-width="1.45"/><line x1="115.10" y1="231.40" x2="117.60" y2="236.64" stroke="#4f95d2" stroke-width="1.45"/><line x1="118.30" y1="231.31" x2="120.84" y2="236.54" stroke="#4f95d2" stroke-width="1.45"/><line x1="121.50" y1="231.18" x2="124.17" y2="236.34" stroke="#4f95d2" stroke-width="1.45"/><line x1="124.68" y1="230.91" x2="127.69" y2="235.89" stroke="#4f95d2" stroke-width="1.45"/><line x1="127.85" y1="230.44" x2="131.08" y2="235.27" stroke="#4f95d2" stroke-width="1.45"/><line x1="130.99" y1="229.86" x2="134.40" y2="234.56" stroke="#4f95d2" stroke-width="1.45"/><line x1="134.11" y1="229.15" x2="137.70" y2="233.72" stroke="#4f95d2" stroke-width="1.45"/><line x1="137.21" y1="228.32" x2="140.97" y2="232.75" stroke="#4f95d2" stroke-width="1.45"/><line x1="140.26" y1="227.37" x2="144.23" y2="231.61" stroke="#4f95d2" stroke-width="1.45"/><line x1="143.27" y1="226.27" x2="147.39" y2="230.37" stroke="#4f95d2" stroke-width="1.45"/><line x1="146.22" y1="225.05" x2="150.60" y2="228.87" stroke="#4f95d2" stroke-width="1.45"/><line x1="149.06" y1="223.58" x2="153.79" y2="226.96" stroke="#4f95d2" stroke-width="1.45"/><line x1="151.75" y1="221.84" x2="156.79" y2="224.73" stroke="#4f95d2" stroke-width="1.45"/><line x1="154.24" y1="219.83" x2="159.51" y2="222.29" stroke="#4f95d2" stroke-width="1.45"/><line x1="156.61" y1="217.69" x2="161.98" y2="219.93" stroke="#4f95d2" stroke-width="1.45"/><line x1="158.93" y1="215.48" x2="164.33" y2="217.61" stroke="#4f95d2" stroke-width="1.45"/><line x1="161.21" y1="213.23" x2="166.63" y2="215.33" stroke="#4f95d2" stroke-width="1.45"/>
<circle cx="147.40" cy="195.50" r="7.00" fill="#0fa199" stroke="none" stroke-width="0"/>
<circle cx="133.00" cy="215.60" r="7.10" fill="#dd2326" stroke="none" stroke-width="0"/>
<circle cx="83.10" cy="232.30" r="5.70" fill="#4a78bf" stroke="none" stroke-width="0"/>
<text transform="translate(80.50,235.30) rotate(-12)" font-size="8.5" fill="#111">P</text>
<line x1="114.40" y1="278.70" x2="120.30" y2="282.70" stroke="#6e4f3c" stroke-width="1.3" stroke-linecap="round"/>
<line x1="125.10" y1="278.30" x2="120.30" y2="282.70" stroke="#6e4f3c" stroke-width="1.3" stroke-linecap="round"/>
<line x1="120.30" y1="282.70" x2="120.30" y2="292.00" stroke="#6e4f3c" stroke-width="1.3" />
<line x1="120.30" y1="292.00" x2="115.80" y2="296.70" stroke="#6e4f3c" stroke-width="1.3" stroke-linecap="round"/>
<line x1="110.10" y1="292.40" x2="115.80" y2="296.70" stroke="#6e4f3c" stroke-width="1.3" stroke-linecap="round"/>
<line x1="115.80" y1="296.70" x2="115.80" y2="305.70" stroke="#6e4f3c" stroke-width="1.3" />
<polygon points="119.56,307.24 121.18,312.13 126.23,313.18 122.07,316.24 122.63,321.36 118.44,318.35 113.74,320.47 115.31,315.56 111.84,311.74 117.00,311.72" fill="#fff" stroke="#a0a0a0" stroke-width="0.9" stroke-linejoin="round"/>
<polygon points="111.50,308.80 120.90,307.90 115.80,311.80" fill="none" stroke="#2a2a2a" stroke-width="1.2" stroke-linejoin="round"/>
<polygon points="114.70,320.20 123.20,320.20 118.70,317.90" fill="none" stroke="#2a2a2a" stroke-width="1.2" stroke-linejoin="round"/>
<polyline points="119.00,320.60 120.10,331.30 116.60,337.00" fill="none" stroke="#8f8f8f" stroke-width="0.9"/>
<polygon points="108.70,331.30 129.90,331.30 123.70,341.00 102.00,341.00" fill="none" stroke="#8f8f8f" stroke-width="1.0"/>
<text transform="translate(46.60,273.60) scale(1,1.0)" font-size="11" font-weight="normal" text-anchor="middle" fill="#222" >seed</text>
<text transform="translate(46.60,286.50) scale(1,1.0)" font-size="11" font-weight="normal" text-anchor="middle" fill="#222" >match</text>
<text transform="translate(46.60,300.30) scale(1,1.0)" font-size="11" font-weight="normal" text-anchor="middle" fill="#222" >(g2 - g8)</text>
<polygon points="94.93,447.56 94.23,448.43 94.01,449.51 94.30,450.55 94.50,451.55 94.85,452.53 94.89,453.71 94.90,454.98 95.43,455.91 96.24,456.63 97.41,457.02 98.67,457.24 99.77,457.55 100.66,458.02 101.48,458.56 102.34,459.06 102.95,459.90 103.51,460.82 104.23,461.54 104.92,462.31 105.87,462.71 106.92,462.95 107.83,463.40 108.72,463.87 109.50,464.51 110.37,465.05 111.15,465.70 112.01,466.25 112.97,466.70 113.55,467.62 114.16,468.47 114.82,469.25 115.48,470.02 116.33,470.60 117.25,471.12 117.69,472.06 117.80,473.36 118.15,474.51 118.71,475.54 119.70,476.04 121.09,475.72 122.27,475.55 123.25,475.65 124.19,475.82 125.02,476.52 125.99,476.74 126.98,476.64 127.96,476.58 128.92,476.46 129.96,476.79 131.05,477.21 132.14,477.51 133.21,477.62 134.25,477.68 135.23,477.54 136.20,477.31 137.14,476.94 138.01,476.09 138.90,475.38 139.80,474.83 140.69,474.35 141.61,474.02 142.40,473.50 142.83,472.66 142.79,471.69 142.73,470.85 142.80,469.98 143.35,469.10 144.38,468.30 145.41,467.59 146.24,466.88 146.67,465.99 146.70,464.85 146.74,463.68 146.87,462.54 147.49,461.69 148.58,461.20 149.81,460.89 151.08,460.70 152.05,460.24 152.85,459.57 153.44,458.62 154.23,457.65 154.86,456.32 154.64,454.80 153.65,453.78 152.33,453.47 151.25,453.22 150.55,452.50 150.00,451.62 149.45,450.76 148.80,449.99 147.85,449.53 147.06,448.90 146.40,448.13 145.93,447.14 145.46,446.13 144.89,445.21 144.28,444.32 143.56,443.53 142.65,442.99 141.59,442.67 140.44,442.52 139.11,442.66 138.10,442.34 137.18,441.92 136.29,441.45 135.56,440.71 134.59,440.37 133.62,440.07 132.64,439.83 131.67,439.61 130.80,439.11 129.87,438.81 128.93,438.49 127.90,438.62 126.89,438.76 125.93,438.63 124.96,438.53 124.00,437.90 123.01,437.41 122.00,437.39 120.98,437.23 119.95,437.24 118.94,437.51 117.90,437.63 116.86,437.88 115.96,438.48 115.11,439.10 114.32,439.77 113.57,440.45 112.83,441.15 112.10,441.84 111.30,442.48 110.90,443.50 110.40,444.41 109.92,445.32 109.49,446.30 108.83,447.13 107.90,447.70 106.85,447.94 105.83,447.75 105.05,446.78 104.23,446.49 103.24,446.29 102.21,445.95 101.07,446.30 100.02,446.26 98.95,446.13 97.93,446.36 96.90,446.59 95.86,446.92" fill="#d8d8d8" stroke="#7d84c2" stroke-width="1.5" stroke-linejoin="round"/>
<polygon points="96.19,404.64 95.16,404.92 94.16,405.34 93.11,405.65 91.99,405.90 91.16,406.58 90.42,407.21 89.82,408.05 89.44,409.17 88.91,410.09 88.49,411.17 87.89,412.13 86.98,412.75 85.98,413.26 84.78,413.04 83.67,412.83 82.68,412.98 81.63,413.19 80.95,413.99 80.61,414.95 80.38,415.92 80.30,416.91 80.29,417.91 80.15,418.90 80.08,419.90 80.13,420.92 80.17,421.95 80.46,423.05 80.55,424.13 80.39,425.15 79.93,426.07 79.03,426.86 78.44,427.73 78.02,428.65 77.74,429.62 77.40,430.57 76.73,431.36 76.09,432.15 75.62,433.04 75.41,434.03 75.35,434.96 75.38,435.77 75.68,436.55 76.44,437.03 77.33,437.34 78.34,437.46 79.39,437.56 80.34,437.98 81.30,438.42 82.01,439.27 82.65,440.15 83.25,441.05 83.71,442.15 84.44,442.86 85.35,443.32 86.30,443.72 87.47,443.75 88.44,444.09 89.13,444.87 89.93,445.48 90.59,446.32 91.54,446.69 92.70,446.68 93.75,446.82 94.74,446.99 95.62,447.41 96.41,448.07 97.21,448.78 98.07,449.41 98.92,450.27 99.90,450.85 100.99,451.04 102.09,450.78 103.12,450.11 104.08,449.51 104.98,448.98 105.95,448.81 106.90,448.53 107.85,448.28 108.88,448.19 109.86,447.94 111.00,447.97 112.03,447.70 112.98,447.23 113.86,446.63 114.39,445.63 114.96,444.75 115.39,443.73 115.86,442.76 116.60,442.06 117.41,441.44 118.55,441.26 119.78,441.28 121.00,441.35 122.25,441.48 123.18,441.07 123.99,440.41 124.66,439.50 125.03,438.21 125.57,437.21 125.90,436.07 126.25,435.07 126.95,434.37 127.59,433.59 128.50,432.90 129.08,432.02 129.60,431.11 129.83,430.10 129.81,429.04 130.20,428.09 130.33,427.08 130.67,426.10 131.17,425.14 131.31,424.10 131.23,423.02 130.80,421.97 130.12,421.04 129.59,420.23 129.01,419.51 128.62,418.62 127.98,417.86 127.01,417.41 125.99,416.85 124.66,416.07 124.27,414.62 125.03,413.35 126.12,412.60 127.58,412.13 128.61,411.03 128.52,409.52 127.49,408.46 126.35,407.84 125.28,407.50 124.33,407.02 123.36,406.64 122.18,406.90 120.86,407.67 119.58,408.54 118.44,409.05 117.60,408.55 116.94,407.15 116.26,405.59 115.46,404.36 114.48,403.94 113.44,403.86 112.36,404.25 111.30,404.67 110.28,404.96 109.26,405.20 108.28,404.80 107.28,404.24 106.27,403.64 105.26,403.58 104.26,404.16 103.27,405.06 102.30,405.88 101.30,405.90 100.29,405.52 99.25,404.84 98.20,404.16 97.18,404.18" fill="#b5b5b5" stroke="#6c9f3f" stroke-width="1.5" stroke-linejoin="round"/>
<polygon points="130.56,420.34 131.32,419.66 132.16,419.12 132.82,418.48 133.47,417.83 133.84,416.86 134.31,415.90 134.86,414.92 135.62,414.17 136.50,413.60 137.49,413.31 138.61,413.41 139.70,413.45 140.81,413.53 141.81,413.24 142.67,412.62 143.51,412.00 144.13,411.08 144.89,410.40 145.77,409.92 146.59,409.35 147.79,409.61 148.82,409.70 149.67,409.37 150.60,409.21 151.42,408.30 152.36,407.90 153.36,407.96 154.35,407.97 155.32,408.49 156.32,408.16 157.31,408.06 158.26,408.36 159.19,408.64 159.80,409.77 160.44,410.50 161.28,410.76 162.29,410.83 163.41,410.88 164.46,411.13 165.17,411.83 165.55,412.78 166.17,413.49 166.51,414.37 167.06,415.19 167.92,416.00 168.19,416.96 168.49,417.87 168.71,418.78 168.75,419.87 169.33,420.70 170.13,421.33 170.81,422.12 171.73,422.55 172.44,423.27 173.09,424.01 173.94,424.49 174.59,425.17 175.38,425.82 175.78,426.73 175.72,427.74 175.21,428.64 174.85,429.54 174.68,430.55 174.59,431.55 174.91,432.49 175.38,433.22 175.80,433.89 176.38,434.70 176.86,435.87 176.43,437.19 175.87,438.30 174.95,439.08 173.91,439.48 173.11,440.14 171.84,439.92 170.58,439.76 169.70,440.28 168.72,440.64 168.32,441.85 167.89,443.03 166.99,443.50 166.13,444.03 165.13,444.31 164.14,444.58 163.14,444.70 162.16,444.79 161.16,444.55 160.19,444.28 159.23,444.49 158.26,444.36 157.29,444.10 156.32,443.80 155.32,443.63 154.32,443.50 153.32,443.40 152.32,443.47 151.35,443.23 150.36,443.34 149.32,443.79 148.29,444.05 147.23,444.29 146.18,444.32 145.17,444.11 144.27,443.60 143.39,443.08 142.39,442.79 141.51,442.31 140.52,442.03 139.68,441.52 139.08,440.49 138.35,439.61 137.58,438.74 136.58,438.53 135.58,438.38 134.66,438.05 133.80,437.70 133.29,436.83 132.92,436.09 132.55,435.51 132.32,434.86 132.04,434.21 131.66,433.50 131.10,432.74 130.75,431.88 130.38,431.01 130.16,430.11 130.46,429.25 130.11,428.24 129.95,427.17 129.69,426.10 129.19,425.10 129.56,424.22 129.68,423.25 129.82,422.22 130.34,421.26" fill="#f2c9e3" stroke="#c070b3" stroke-width="1.5" stroke-linejoin="round"/>
<polygon points="95.86,390.38 96.70,389.38 97.48,388.37 98.55,387.74 99.75,387.53 100.89,387.43 102.08,387.60 103.13,387.55 104.03,387.09 104.97,386.76 105.86,386.22 106.82,385.88 107.81,385.73 108.78,385.44 109.77,385.26 110.77,385.12 111.75,384.88 112.70,384.45 113.69,384.21 114.69,384.07 115.69,384.04 116.79,384.53 117.84,384.57 118.89,384.48 119.96,384.44 120.76,383.62 121.65,383.13 122.50,382.53 123.27,381.70 124.28,381.52 125.30,381.35 126.31,381.28 127.33,381.26 128.47,381.24 129.73,381.44 130.85,381.85 131.54,382.47 132.12,383.06 132.63,383.81 133.30,384.52 134.10,385.17 134.99,385.64 136.01,385.89 137.09,386.16 138.13,386.61 138.86,387.50 139.33,388.55 139.33,389.82 139.56,390.80 139.67,391.74 139.75,392.55 139.96,393.36 139.48,394.03 139.08,394.79 138.27,395.32 137.52,396.01 136.73,396.69 136.09,397.52 136.07,398.79 135.97,399.93 135.83,400.99 135.50,401.90 134.76,402.55 133.72,403.17 133.36,404.10 133.09,405.06 132.76,406.04 133.11,407.09 132.97,408.09 132.58,409.00 132.26,409.98 131.24,409.58 130.36,408.98 129.31,409.10 128.28,409.52 127.54,410.54 126.83,411.43 126.12,412.33 125.20,412.76 124.12,412.81 123.03,412.81 121.83,412.45 120.82,412.55 119.81,412.50 118.86,412.73 117.92,413.01 116.95,412.80 116.01,412.86 115.08,412.73 114.13,412.67 112.96,412.93 111.83,412.82 110.72,412.59 109.58,412.37 108.84,411.66 108.09,411.01 107.67,409.93 107.22,408.82 106.53,408.02 105.74,407.36 104.64,407.29 103.65,407.01 102.77,406.52 102.11,405.62 101.78,404.28 101.54,403.01 101.05,402.27 100.46,401.80 99.32,401.82 97.89,401.75 97.24,400.99 96.84,400.07 96.97,399.04 97.31,398.03 97.06,397.06 96.58,396.07 96.14,395.03 95.54,393.93 95.51,392.81 95.59,391.62" fill="#a3a3a3" stroke="#e8dc1c" stroke-width="2.6" stroke-linejoin="round"/>
<line x1="168.70" y1="422.40" x2="173.00" y2="420.30" stroke="#3a3a9c" stroke-width="1.4" />
<line x1="138.50" y1="437.20" x2="136.90" y2="439.40" stroke="#3a3a9c" stroke-width="1.4" />
<polyline points="99.50,405.00 99.64,405.39 99.82,405.87 100.03,406.44 100.26,407.07 100.51,407.77 100.78,408.50 101.06,409.26 101.35,410.04 101.64,410.81 101.94,411.57 102.22,412.31 102.50,413.00 102.77,413.66 103.05,414.33 103.33,414.99 103.61,415.64 103.90,416.30 104.19,416.96 104.48,417.62 104.78,418.29 105.08,418.96 105.38,419.63 105.69,420.31 106.00,421.00 106.31,421.69 106.61,422.40 106.91,423.10 107.21,423.81 107.51,424.53 107.82,425.24 108.14,425.97 108.47,426.69 108.82,427.41 109.19,428.14 109.58,428.87 110.00,429.60 110.44,430.34 110.91,431.09 111.39,431.84 111.89,432.61 112.41,433.37 112.94,434.14 113.49,434.90 114.05,435.65 114.62,436.39 115.21,437.11 115.80,437.82 116.40,438.50 117.01,439.16 117.63,439.82 118.27,440.46 118.92,441.09 119.58,441.70 120.25,442.31 120.93,442.90 121.63,443.48 122.33,444.05 123.04,444.61 123.77,445.16 124.50,445.70 125.25,446.23 126.01,446.74 126.79,447.25 127.59,447.74 128.39,448.23 129.21,448.70 130.02,449.16 130.84,449.61 131.66,450.05 132.48,450.48 133.30,450.89 134.10,451.30 134.91,451.69 135.74,452.06 136.57,452.41 137.41,452.75 138.26,453.08 139.09,453.39 139.92,453.71 140.73,454.02 141.52,454.33 142.28,454.65 143.01,454.97 143.70,455.30 144.36,455.64 145.00,455.98 145.61,456.32 146.20,456.66 146.77,457.00 147.32,457.34 147.85,457.69 148.36,458.03 148.85,458.37 149.32,458.72 149.77,459.06 150.20,459.40 150.61,459.73 150.99,460.06 151.34,460.37 151.67,460.68 151.99,460.99 152.28,461.30 152.56,461.62 152.83,461.96 153.08,462.31 153.33,462.68 153.57,463.07 153.80,463.50 154.03,463.94 154.25,464.39 154.45,464.85 154.65,465.32 154.84,465.81 155.01,466.32 155.18,466.85 155.33,467.41 155.46,468.00 155.59,468.63 155.70,469.29 155.80,470.00 155.88,470.77 155.93,471.60 155.96,472.49 155.97,473.43 155.97,474.39 155.96,475.38 155.95,476.37 155.94,477.35 155.94,478.32 155.94,479.26 155.96,480.16 156.00,481.00 156.04,481.81 156.07,482.60 156.08,483.37 156.10,484.13 156.12,484.87 156.16,485.59 156.21,486.30 156.29,486.98 156.40,487.64 156.55,488.29 156.75,488.90 157.00,489.50 157.29,490.07 157.60,490.60 157.94,491.11 158.30,491.59 158.70,492.05 159.13,492.50 159.60,492.93 160.12,493.35 160.69,493.77 161.30,494.18 161.97,494.59 162.70,495.00 163.54,495.42 164.53,495.86 165.64,496.30 166.83,496.74 168.06,497.17 169.31,497.59 170.53,497.99 171.71,498.37 172.79,498.71 173.76,499.02 174.57,499.29 175.20,499.50" fill="none" stroke="#e8402c" stroke-width="1.5" stroke-linecap="round" stroke-linejoin="round"/>
<line x1="99.85" y1="405.94" x2="104.82" y2="404.12" stroke="#e8402c" stroke-width="1.45"/><line x1="100.91" y1="408.85" x2="105.88" y2="407.01" stroke="#e8402c" stroke-width="1.45"/><line x1="102.01" y1="411.75" x2="106.94" y2="409.83" stroke="#e8402c" stroke-width="1.45"/><line x1="103.17" y1="414.62" x2="108.05" y2="412.56" stroke="#e8402c" stroke-width="1.45"/><line x1="104.41" y1="417.46" x2="109.25" y2="415.31" stroke="#e8402c" stroke-width="1.45"/><line x1="105.68" y1="420.29" x2="110.51" y2="418.11" stroke="#e8402c" stroke-width="1.45"/><line x1="106.92" y1="423.13" x2="111.80" y2="421.07" stroke="#e8402c" stroke-width="1.45"/><line x1="108.14" y1="425.98" x2="112.97" y2="423.80" stroke="#e8402c" stroke-width="1.45"/><line x1="109.52" y1="428.76" x2="114.16" y2="426.20" stroke="#e8402c" stroke-width="1.45"/><line x1="111.12" y1="431.41" x2="115.59" y2="428.57" stroke="#e8402c" stroke-width="1.45"/><line x1="112.84" y1="433.99" x2="117.17" y2="430.94" stroke="#f3df1e" stroke-width="1.45"/><line x1="114.69" y1="436.47" x2="118.84" y2="433.18" stroke="#f3df1e" stroke-width="1.45"/><line x1="116.71" y1="438.83" x2="120.61" y2="435.25" stroke="#f3df1e" stroke-width="1.45"/><line x1="118.88" y1="441.04" x2="122.54" y2="437.21" stroke="#f3df1e" stroke-width="1.45"/><line x1="121.19" y1="443.11" x2="124.60" y2="439.06" stroke="#e8402c" stroke-width="1.45"/><line x1="123.61" y1="445.04" x2="126.80" y2="440.81" stroke="#e8402c" stroke-width="1.45"/><line x1="126.14" y1="446.83" x2="129.05" y2="442.40" stroke="#e8402c" stroke-width="1.45"/><line x1="128.78" y1="448.45" x2="131.45" y2="443.87" stroke="#e8402c" stroke-width="1.45"/><line x1="131.49" y1="449.96" x2="133.98" y2="445.28" stroke="#e8402c" stroke-width="1.45"/><line x1="134.25" y1="451.37" x2="136.57" y2="446.61" stroke="#e8402c" stroke-width="1.45"/><line x1="137.09" y1="452.62" x2="139.06" y2="447.70" stroke="#e8402c" stroke-width="1.45"/><line x1="139.98" y1="453.73" x2="141.88" y2="448.78" stroke="#e8402c" stroke-width="1.45"/><line x1="142.85" y1="454.90" x2="145.04" y2="450.07" stroke="#e8402c" stroke-width="1.45"/><line x1="145.61" y1="456.32" x2="148.22" y2="451.70" stroke="#e8402c" stroke-width="1.45"/><line x1="148.24" y1="457.95" x2="151.23" y2="453.57" stroke="#e8402c" stroke-width="1.45"/><line x1="150.71" y1="459.82" x2="154.13" y2="455.78" stroke="#e8402c" stroke-width="1.45"/><line x1="152.88" y1="462.03" x2="157.13" y2="458.86" stroke="#e8402c" stroke-width="1.45"/><line x1="154.40" y1="464.72" x2="159.24" y2="462.58" stroke="#e8402c" stroke-width="1.45"/><line x1="155.38" y1="467.66" x2="160.54" y2="466.43" stroke="#e8402c" stroke-width="1.45"/><line x1="155.87" y1="470.72" x2="161.15" y2="470.26" stroke="#e8402c" stroke-width="1.45"/><line x1="155.97" y1="473.81" x2="161.27" y2="473.80" stroke="#e8402c" stroke-width="1.45"/><line x1="155.95" y1="476.91" x2="161.25" y2="476.96" stroke="#e8402c" stroke-width="1.45"/><line x1="155.96" y1="480.01" x2="161.26" y2="479.85" stroke="#e8402c" stroke-width="1.45"/><line x1="156.08" y1="483.11" x2="161.38" y2="482.98" stroke="#e8402c" stroke-width="1.45"/><line x1="156.20" y1="486.21" x2="161.48" y2="485.71" stroke="#e8402c" stroke-width="1.45"/>
<polyline points="105.50,398.00 105.74,398.36 106.04,398.81 106.40,399.34 106.80,399.93 107.23,400.57 107.69,401.25 108.16,401.96 108.65,402.69 109.13,403.41 109.61,404.13 110.07,404.83 110.50,405.50 110.92,406.15 111.33,406.80 111.74,407.46 112.15,408.13 112.56,408.80 112.97,409.47 113.38,410.14 113.80,410.81 114.21,411.49 114.64,412.16 115.07,412.83 115.50,413.50 115.94,414.16 116.38,414.82 116.82,415.46 117.26,416.11 117.71,416.76 118.16,417.41 118.61,418.06 119.07,418.72 119.54,419.39 120.02,420.08 120.51,420.78 121.00,421.50 121.51,422.25 122.04,423.03 122.58,423.84 123.13,424.67 123.69,425.50 124.25,426.34 124.81,427.18 125.37,428.00 125.92,428.80 126.46,429.57 126.99,430.31 127.50,431.00 127.99,431.65 128.46,432.28 128.91,432.89 129.35,433.47 129.79,434.03 130.22,434.57 130.65,435.10 131.09,435.61 131.54,436.10 132.01,436.58 132.49,437.04 133.00,437.50 133.53,437.94 134.07,438.35 134.63,438.74 135.19,439.11 135.77,439.47 136.36,439.81 136.95,440.15 137.55,440.48 138.16,440.80 138.77,441.13 139.38,441.46 140.00,441.80 140.62,442.14 141.24,442.47 141.87,442.80 142.50,443.13 143.14,443.45 143.79,443.77 144.44,444.09 145.10,444.41 145.76,444.73 146.43,445.05 147.11,445.37 147.80,445.70 148.53,446.04 149.31,446.41 150.14,446.79 150.99,447.17 151.84,447.56 152.69,447.94 153.51,448.31 154.28,448.66 155.00,448.98 155.63,449.26 156.17,449.51 156.60,449.70" fill="none" stroke="#4f95d2" stroke-width="1.5" stroke-linecap="round" stroke-linejoin="round"/>
<line x1="108.29" y1="402.15" x2="103.88" y2="405.09" stroke="#4f95d2" stroke-width="1.45"/><line x1="110.00" y1="404.73" x2="105.56" y2="407.63" stroke="#4f95d2" stroke-width="1.45"/><line x1="111.67" y1="407.35" x2="107.16" y2="410.14" stroke="#4f95d2" stroke-width="1.45"/><line x1="113.29" y1="409.99" x2="108.77" y2="412.76" stroke="#4f95d2" stroke-width="1.45"/><line x1="114.93" y1="412.62" x2="110.47" y2="415.48" stroke="#4f95d2" stroke-width="1.45"/><line x1="116.64" y1="415.21" x2="112.25" y2="418.18" stroke="#4f95d2" stroke-width="1.45"/><line x1="118.40" y1="417.76" x2="114.05" y2="420.79" stroke="#4f95d2" stroke-width="1.45"/><line x1="120.17" y1="420.30" x2="115.82" y2="423.32" stroke="#4f95d2" stroke-width="1.45"/><line x1="121.92" y1="422.86" x2="117.52" y2="425.82" stroke="#4f95d2" stroke-width="1.45"/><line x1="123.64" y1="425.44" x2="119.24" y2="428.38" stroke="#4f95d2" stroke-width="1.45"/><line x1="125.38" y1="428.01" x2="121.00" y2="431.00" stroke="#4f95d2" stroke-width="1.45"/><line x1="127.16" y1="430.54" x2="122.89" y2="433.67" stroke="#4f95d2" stroke-width="1.45"/><line x1="129.02" y1="433.03" x2="124.79" y2="436.23" stroke="#4f95d2" stroke-width="1.45"/><line x1="130.95" y1="435.45" x2="126.97" y2="438.94" stroke="#4f95d2" stroke-width="1.45"/><line x1="133.15" y1="437.63" x2="129.74" y2="441.69" stroke="#4f95d2" stroke-width="1.45"/><line x1="135.68" y1="439.41" x2="132.92" y2="443.94" stroke="#4f95d2" stroke-width="1.45"/><line x1="138.39" y1="440.93" x2="135.88" y2="445.59" stroke="#4f95d2" stroke-width="1.45"/><line x1="141.11" y1="442.40" x2="138.62" y2="447.08" stroke="#4f95d2" stroke-width="1.45"/><line x1="143.87" y1="443.81" x2="141.53" y2="448.56" stroke="#4f95d2" stroke-width="1.45"/><line x1="146.67" y1="445.16" x2="144.38" y2="449.94" stroke="#4f95d2" stroke-width="1.45"/><line x1="149.47" y1="446.48" x2="147.25" y2="451.29" stroke="#4f95d2" stroke-width="1.45"/><line x1="152.29" y1="447.77" x2="150.11" y2="452.60" stroke="#4f95d2" stroke-width="1.45"/><line x1="155.12" y1="449.03" x2="152.95" y2="453.87" stroke="#4f95d2" stroke-width="1.45"/>
<circle cx="179.60" cy="417.00" r="7.10" fill="#0fa199" stroke="none" stroke-width="0"/>
<circle cx="142.90" cy="431.20" r="6.60" fill="#dd2326" stroke="none" stroke-width="0"/>
<circle cx="104.50" cy="393.90" r="6.00" fill="#4a78bf" stroke="none" stroke-width="0"/>
<text transform="translate(101.90,396.90) rotate(-12)" font-size="8.5" fill="#111">P</text>
<polygon points="182.03,500.99 183.51,506.36 188.89,507.76 184.25,510.83 184.57,516.38 180.22,512.91 175.04,514.94 177.00,509.73 173.47,505.43 179.03,505.68" fill="#fff" stroke="#a0a0a0" stroke-width="0.9" stroke-linejoin="round"/>
<polygon points="171.20,500.50 180.80,499.30 175.00,504.00" fill="none" stroke="#2a2a2a" stroke-width="1.2" stroke-linejoin="round"/>
<polygon points="175.20,518.80 184.80,518.80 180.00,515.20" fill="none" stroke="#2a2a2a" stroke-width="1.2" stroke-linejoin="round"/>
<polyline points="179.70,519.30 182.00,535.20" fill="none" stroke="#8f8f8f" stroke-width="0.9"/>
<polygon points="160.40,548.30 167.80,535.20 192.70,535.20 185.90,548.30" fill="none" stroke="#8f8f8f" stroke-width="1.0"/>
<text transform="translate(45.60,464.80) scale(1,1.0)" font-size="11" font-weight="normal" text-anchor="middle" fill="#222" >supplementary</text>
<text transform="translate(46.30,477.60) scale(1,1.0)" font-size="11" font-weight="normal" text-anchor="middle" fill="#222" >match</text>
<text transform="translate(46.30,490.50) scale(1,1.0)" font-size="11" font-weight="normal" text-anchor="middle" fill="#222" >(g2 - g8, g13 - g19)</text>
<polygon points="93.29,646.70 92.22,647.45 91.88,648.72 91.85,649.99 92.27,651.12 93.11,651.95 94.05,652.60 94.80,653.31 95.61,653.95 96.49,654.51 96.93,655.41 97.87,655.87 98.91,656.17 99.64,656.75 100.54,657.16 101.04,658.09 101.47,659.17 102.12,659.97 102.71,660.87 103.57,661.39 104.31,662.09 104.94,662.94 105.76,663.52 106.48,664.25 107.18,664.99 107.94,665.65 108.52,666.53 109.16,667.28 110.06,667.70 110.81,668.29 111.70,668.74 112.40,669.42 113.18,670.04 114.14,670.53 115.09,671.02 116.13,671.41 116.83,672.10 117.47,672.84 118.05,673.69 118.71,674.52 119.62,674.97 120.63,675.18 121.62,675.35 122.62,675.40 123.53,675.77 124.44,676.47 125.44,676.82 126.49,677.07 127.53,676.95 128.49,676.31 129.40,675.68 130.27,674.94 131.18,674.44 132.16,674.24 133.18,674.18 134.30,674.59 135.39,674.94 136.47,675.20 137.52,675.22 138.43,674.62 139.16,673.54 139.67,672.38 140.04,671.57 140.38,671.08 140.82,670.71 141.42,670.22 142.02,669.48 142.40,668.55 143.26,667.73 143.95,666.91 144.61,666.12 145.33,665.38 145.53,664.34 145.97,663.44 146.31,662.46 146.83,661.59 147.53,660.85 148.20,660.10 148.89,659.37 149.41,658.47 149.99,657.66 150.45,656.79 150.80,656.02 151.22,655.43 151.35,654.74 150.96,654.08 150.63,653.03 150.14,651.99 149.55,651.19 148.92,650.45 147.80,650.22 146.50,650.15 145.27,649.99 144.27,649.60 143.45,649.02 142.97,648.07 142.73,646.83 142.16,645.96 141.52,645.16 140.69,644.58 139.60,644.35 138.73,643.86 138.03,643.11 137.18,642.59 136.33,642.05 135.44,641.59 134.53,641.17 133.72,640.59 133.11,639.64 132.47,638.67 131.55,638.21 130.68,637.60 129.58,637.58 128.50,637.63 127.59,637.06 126.59,636.84 125.59,636.63 124.58,636.44 123.51,637.05 122.50,637.27 121.51,637.36 120.52,637.42 119.50,636.81 118.46,636.67 117.39,636.54 116.35,636.78 115.51,637.53 114.62,638.04 113.95,638.83 113.33,639.64 112.53,640.24 112.03,641.17 111.29,641.84 110.75,642.69 110.41,643.70 109.73,644.42 109.13,645.24 107.96,645.58 106.71,645.73 105.81,646.03 104.98,646.09 104.30,646.53 103.40,646.89 102.38,646.91 101.37,646.77 100.52,646.12 99.58,645.47 98.51,645.09 97.41,645.04 96.38,645.36 95.36,645.74 94.37,646.25" fill="#d8d8d8" stroke="#7d84c2" stroke-width="1.5" stroke-linejoin="round"/>
<polygon points="94.56,602.94 93.35,602.83 92.11,603.34 91.13,604.15 90.30,604.94 89.42,605.60 88.50,606.00 87.49,606.35 86.77,607.10 86.35,608.13 85.85,609.04 85.48,610.11 84.95,611.09 84.02,611.41 83.12,611.81 82.16,612.08 81.10,612.10 80.43,612.93 80.11,613.82 80.15,614.70 80.73,615.62 80.27,616.38 79.82,617.28 79.17,618.23 78.40,619.19 78.54,620.20 78.55,621.22 78.62,622.27 78.39,623.26 77.76,624.14 77.10,624.99 76.61,625.88 76.55,626.91 76.59,627.97 76.65,629.09 76.66,630.23 76.15,631.15 75.93,632.19 75.67,633.12 75.21,633.80 75.05,634.36 74.56,634.88 74.69,635.44 75.24,635.89 75.92,636.46 76.77,636.93 77.52,637.75 78.18,638.68 78.81,639.55 79.34,640.48 80.07,641.09 80.91,641.58 81.99,641.77 83.29,641.64 84.57,641.53 85.88,641.36 87.06,641.35 88.08,641.58 88.83,642.26 89.28,643.41 89.54,644.88 89.80,646.40 90.47,647.31 91.43,647.75 92.65,647.60 93.91,647.21 94.93,647.33 95.95,647.36 96.82,647.83 97.65,648.53 98.61,648.82 99.58,649.17 100.59,649.34 101.64,649.61 102.72,649.78 103.83,649.95 104.92,649.94 105.88,649.42 106.91,649.19 107.89,648.80 108.85,648.37 109.88,648.06 110.67,647.24 111.36,646.34 111.86,645.27 112.21,644.12 112.76,643.27 113.35,642.45 114.15,641.84 114.92,641.16 115.58,640.34 116.36,639.64 117.18,639.00 118.07,638.48 119.10,638.21 120.13,637.96 120.97,637.43 121.84,636.95 122.56,636.29 123.27,635.64 124.09,635.08 124.82,634.43 125.56,633.74 126.10,632.89 126.34,631.90 126.63,630.96 126.78,629.96 127.09,629.03 127.64,628.15 127.85,627.18 128.02,626.20 128.00,625.18 128.01,624.19 128.17,623.24 128.57,622.29 129.05,621.29 129.22,620.20 129.29,618.99 128.68,618.01 127.75,617.34 126.97,616.66 126.17,616.07 125.52,615.41 125.13,614.70 124.81,613.96 124.69,613.03 124.92,612.04 125.09,611.12 125.25,610.40 125.46,609.59 125.00,608.81 124.47,607.78 123.67,607.01 122.61,606.85 121.64,606.52 120.45,606.85 119.35,607.01 118.28,607.15 117.15,607.59 116.17,607.57 115.13,607.80 114.18,607.73 113.29,607.42 112.40,607.00 111.55,606.32 110.65,605.65 109.70,605.39 108.72,605.20 107.74,605.10 106.75,605.19 105.77,604.65 104.77,604.54 103.77,604.53 102.77,604.22 101.77,604.23 100.76,603.99 99.74,603.65 98.73,603.55 97.72,603.59 96.69,603.34 95.64,603.08" fill="#b5b5b5" stroke="#6c9f3f" stroke-width="1.5" stroke-linejoin="round"/>
<polygon points="128.36,619.39 128.52,618.24 129.22,617.38 129.70,616.39 130.18,615.34 130.79,614.37 131.28,613.12 132.17,612.31 133.08,611.48 134.14,610.97 135.46,611.28 136.75,611.75 138.13,612.57 139.33,612.89 140.25,612.41 141.05,611.68 141.66,610.71 142.30,609.87 142.99,609.10 143.76,608.41 144.60,607.73 145.62,607.37 146.67,607.12 147.72,606.94 148.71,606.61 149.68,606.05 150.71,605.67 151.74,605.10 152.83,605.06 153.89,605.50 154.92,606.10 155.84,607.16 156.72,607.86 157.61,608.23 158.54,608.42 159.60,608.35 160.45,608.85 161.28,609.38 161.99,610.07 162.62,610.82 163.54,611.25 164.49,611.73 165.46,612.32 165.93,613.28 166.31,614.26 166.46,615.29 166.42,616.33 166.91,617.19 167.21,618.08 167.52,618.98 168.04,619.80 168.54,620.75 169.17,621.61 170.04,622.14 171.15,622.29 172.40,622.35 173.72,622.54 174.91,623.20 175.61,624.38 175.82,625.80 175.39,627.14 174.70,628.19 174.23,629.16 173.38,629.92 173.27,630.89 173.57,631.80 173.89,632.52 174.85,632.96 175.05,633.92 174.91,635.26 174.27,636.35 173.29,636.84 172.74,637.48 172.00,638.09 171.32,638.91 170.52,639.54 169.40,639.59 168.55,640.12 167.64,640.58 166.44,640.58 165.57,641.05 164.38,640.96 163.31,640.94 162.72,641.69 161.98,642.11 161.35,642.95 160.59,643.67 159.66,643.86 158.71,644.26 157.71,644.71 156.69,644.92 155.65,645.27 154.63,645.48 153.65,645.18 152.68,644.72 151.70,644.41 150.71,644.19 149.71,644.10 148.68,644.32 147.72,643.83 146.85,642.92 145.94,642.55 145.04,642.24 143.90,642.71 142.59,643.34 141.51,643.16 140.72,642.41 140.34,641.03 139.83,639.87 139.25,638.74 138.22,638.37 137.08,638.34 136.10,637.97 134.96,638.18 134.00,637.90 132.99,637.79 131.89,637.86 131.08,637.25 130.42,636.52 130.27,635.44 130.21,634.51 129.84,633.79 129.09,633.10 128.29,632.31 127.78,631.38 127.31,630.40 127.27,629.35 127.05,628.27 127.17,627.19 127.85,626.32 128.44,625.45 129.58,624.57 130.16,623.48 129.99,622.43 129.48,621.52 128.65,620.53" fill="#f2c9e3" stroke="#c070b3" stroke-width="1.5" stroke-linejoin="round"/>
<polygon points="95.47,590.24 96.27,589.49 96.97,588.73 97.66,587.92 98.35,587.01 99.33,586.62 100.48,586.66 101.55,586.62 102.62,586.67 103.65,586.69 104.64,586.58 105.70,586.83 106.69,586.73 107.62,586.34 108.50,585.68 109.32,584.66 110.22,584.03 111.20,583.76 112.25,583.93 113.32,584.27 114.34,584.28 115.32,583.97 116.20,583.26 117.07,582.71 118.05,582.51 118.97,582.14 119.96,581.92 120.93,581.66 121.86,581.24 122.91,581.24 123.93,581.30 124.83,581.13 125.83,580.58 127.20,580.10 128.74,580.11 130.07,580.41 130.70,581.02 130.84,582.05 131.27,582.86 131.78,583.88 132.48,584.74 133.52,584.88 134.39,585.45 135.42,585.73 136.72,585.80 137.97,586.17 139.44,586.56 140.29,587.55 140.43,588.95 139.96,590.50 139.19,591.80 138.93,592.77 138.42,593.57 138.01,594.47 137.42,595.31 136.46,595.76 135.76,596.47 135.05,597.19 134.61,598.11 134.41,599.19 134.08,600.14 133.86,601.12 133.15,601.80 132.58,602.59 132.13,603.46 131.96,604.42 132.67,605.49 132.98,606.53 133.31,607.76 132.89,609.31 131.53,610.45 130.06,610.51 128.88,609.96 127.96,609.95 127.12,610.06 126.19,610.24 125.21,610.44 124.26,610.77 123.35,611.19 122.38,611.51 121.39,611.73 120.31,611.70 119.33,611.87 118.34,611.96 117.40,612.28 116.45,612.61 115.45,612.61 114.45,612.83 113.41,612.90 112.27,613.03 111.03,613.17 109.97,612.75 109.01,612.20 108.24,611.45 107.72,610.45 106.88,609.92 106.12,609.31 105.17,608.99 104.06,608.99 103.30,608.39 102.58,607.64 102.06,606.48 101.58,605.24 100.90,604.41 99.96,604.09 98.91,603.90 97.85,603.64 96.94,603.11 96.49,602.14 95.98,601.27 95.34,600.43 94.65,599.52 93.68,598.57 93.18,597.51 93.41,596.42 93.92,595.35 94.25,594.31 94.43,593.27 94.46,592.20 94.59,591.08" fill="#a3a3a3" stroke="#e8dc1c" stroke-width="2.6" stroke-linejoin="round"/>
<line x1="167.20" y1="621.70" x2="171.50" y2="619.60" stroke="#3a3a9c" stroke-width="1.4" />
<line x1="137.00" y1="636.50" x2="135.40" y2="638.70" stroke="#3a3a9c" stroke-width="1.4" />
<polyline points="98.00,604.30 98.14,604.69 98.32,605.17 98.53,605.74 98.76,606.37 99.01,607.07 99.28,607.80 99.56,608.56 99.85,609.34 100.14,610.11 100.44,610.87 100.72,611.61 101.00,612.30 101.27,612.96 101.55,613.63 101.83,614.29 102.11,614.94 102.40,615.60 102.69,616.26 102.98,616.92 103.28,617.59 103.58,618.26 103.88,618.93 104.19,619.61 104.50,620.30 104.81,620.99 105.11,621.70 105.41,622.40 105.71,623.11 106.01,623.83 106.32,624.54 106.64,625.27 106.97,625.99 107.32,626.71 107.69,627.44 108.08,628.17 108.50,628.90 108.94,629.64 109.41,630.39 109.89,631.14 110.39,631.91 110.91,632.67 111.44,633.44 111.99,634.20 112.55,634.95 113.12,635.69 113.71,636.41 114.30,637.12 114.90,637.80 115.51,638.46 116.13,639.12 116.77,639.76 117.42,640.39 118.08,641.00 118.75,641.61 119.43,642.20 120.13,642.78 120.83,643.35 121.54,643.91 122.27,644.46 123.00,645.00 123.75,645.53 124.51,646.04 125.29,646.55 126.09,647.04 126.89,647.53 127.71,648.00 128.52,648.46 129.34,648.91 130.16,649.35 130.98,649.78 131.80,650.19 132.60,650.60 133.41,650.99 134.24,651.36 135.07,651.71 135.91,652.05 136.76,652.38 137.59,652.69 138.42,653.01 139.23,653.32 140.02,653.63 140.78,653.95 141.51,654.27 142.20,654.60 142.86,654.94 143.50,655.28 144.11,655.62 144.70,655.96 145.27,656.30 145.82,656.64 146.35,656.99 146.86,657.33 147.35,657.67 147.82,658.02 148.27,658.36 148.70,658.70 149.11,659.03 149.49,659.36 149.84,659.67 150.17,659.98 150.49,660.29 150.78,660.60 151.06,660.92 151.33,661.26 151.58,661.61 151.83,661.98 152.07,662.37 152.30,662.80 152.53,663.24 152.75,663.69 152.95,664.15 153.15,664.62 153.34,665.11 153.51,665.62 153.68,666.15 153.83,666.71 153.96,667.30 154.09,667.93 154.20,668.59 154.30,669.30 154.38,670.07 154.43,670.90 154.46,671.79 154.47,672.73 154.47,673.69 154.46,674.67 154.45,675.67 154.44,676.65 154.44,677.62 154.44,678.56 154.46,679.46 154.50,680.30 154.54,681.11 154.57,681.90 154.58,682.67 154.60,683.43 154.62,684.17 154.66,684.89 154.71,685.60 154.79,686.28 154.90,686.94 155.05,687.59 155.25,688.20 155.50,688.80 155.79,689.37 156.10,689.90 156.44,690.41 156.80,690.89 157.20,691.35 157.63,691.80 158.10,692.23 158.62,692.65 159.19,693.07 159.80,693.48 160.47,693.89 161.20,694.30 162.04,694.72 163.03,695.16 164.14,695.60 165.33,696.04 166.56,696.47 167.81,696.89 169.03,697.29 170.21,697.67 171.29,698.01 172.26,698.32 173.07,698.59 173.70,698.80" fill="none" stroke="#e8402c" stroke-width="1.5" stroke-linecap="round" stroke-linejoin="round"/>
<line x1="98.35" y1="605.24" x2="103.32" y2="603.42" stroke="#e8402c" stroke-width="1.45"/><line x1="99.41" y1="608.15" x2="104.38" y2="606.31" stroke="#e8402c" stroke-width="1.45"/><line x1="100.51" y1="611.05" x2="105.44" y2="609.13" stroke="#e8402c" stroke-width="1.45"/><line x1="101.67" y1="613.92" x2="106.55" y2="611.86" stroke="#e8402c" stroke-width="1.45"/><line x1="102.91" y1="616.76" x2="107.75" y2="614.61" stroke="#e8402c" stroke-width="1.45"/><line x1="104.18" y1="619.59" x2="109.01" y2="617.41" stroke="#e8402c" stroke-width="1.45"/><line x1="105.42" y1="622.43" x2="110.30" y2="620.37" stroke="#e8402c" stroke-width="1.45"/><line x1="106.64" y1="625.28" x2="111.47" y2="623.10" stroke="#e8402c" stroke-width="1.45"/><line x1="108.02" y1="628.06" x2="112.66" y2="625.50" stroke="#e8402c" stroke-width="1.45"/><line x1="109.62" y1="630.71" x2="114.09" y2="627.87" stroke="#e8402c" stroke-width="1.45"/><line x1="111.34" y1="633.29" x2="115.67" y2="630.24" stroke="#e8402c" stroke-width="1.45"/><line x1="113.19" y1="635.77" x2="117.34" y2="632.48" stroke="#e8402c" stroke-width="1.45"/><line x1="115.21" y1="638.13" x2="119.11" y2="634.55" stroke="#e8402c" stroke-width="1.45"/><line x1="117.38" y1="640.34" x2="121.04" y2="636.51" stroke="#e8402c" stroke-width="1.45"/><line x1="119.69" y1="642.41" x2="123.10" y2="638.36" stroke="#e8402c" stroke-width="1.45"/><line x1="122.11" y1="644.34" x2="125.30" y2="640.11" stroke="#e8402c" stroke-width="1.45"/><line x1="124.64" y1="646.13" x2="127.55" y2="641.70" stroke="#e8402c" stroke-width="1.45"/><line x1="127.28" y1="647.75" x2="129.95" y2="643.17" stroke="#e8402c" stroke-width="1.45"/><line x1="129.99" y1="649.26" x2="132.48" y2="644.58" stroke="#e8402c" stroke-width="1.45"/><line x1="132.75" y1="650.67" x2="135.07" y2="645.91" stroke="#e8402c" stroke-width="1.45"/><line x1="135.59" y1="651.92" x2="137.56" y2="647.00" stroke="#e8402c" stroke-width="1.45"/><line x1="138.48" y1="653.03" x2="140.38" y2="648.08" stroke="#e8402c" stroke-width="1.45"/><line x1="141.35" y1="654.20" x2="143.54" y2="649.37" stroke="#e8402c" stroke-width="1.45"/><line x1="144.11" y1="655.62" x2="146.72" y2="651.00" stroke="#e8402c" stroke-width="1.45"/><line x1="146.74" y1="657.25" x2="149.73" y2="652.87" stroke="#e8402c" stroke-width="1.45"/><line x1="149.21" y1="659.12" x2="152.63" y2="655.08" stroke="#e8402c" stroke-width="1.45"/><line x1="151.38" y1="661.33" x2="155.63" y2="658.16" stroke="#e8402c" stroke-width="1.45"/><line x1="152.90" y1="664.02" x2="157.74" y2="661.88" stroke="#e8402c" stroke-width="1.45"/><line x1="153.88" y1="666.96" x2="159.04" y2="665.73" stroke="#e8402c" stroke-width="1.45"/><line x1="154.37" y1="670.02" x2="159.65" y2="669.56" stroke="#e8402c" stroke-width="1.45"/><line x1="154.47" y1="673.11" x2="159.77" y2="673.10" stroke="#e8402c" stroke-width="1.45"/><line x1="154.45" y1="676.21" x2="159.75" y2="676.26" stroke="#e8402c" stroke-width="1.45"/><line x1="154.46" y1="679.31" x2="159.76" y2="679.15" stroke="#e8402c" stroke-width="1.45"/><line x1="154.58" y1="682.41" x2="159.88" y2="682.28" stroke="#e8402c" stroke-width="1.45"/><line x1="154.70" y1="685.51" x2="159.98" y2="685.01" stroke="#e8402c" stroke-width="1.45"/>
<polyline points="104.00,597.30 104.24,597.66 104.54,598.11 104.90,598.64 105.30,599.23 105.73,599.87 106.19,600.55 106.66,601.26 107.15,601.99 107.63,602.71 108.11,603.43 108.57,604.13 109.00,604.80 109.42,605.45 109.83,606.10 110.24,606.76 110.65,607.43 111.06,608.10 111.47,608.77 111.88,609.44 112.30,610.11 112.71,610.79 113.14,611.46 113.57,612.13 114.00,612.80 114.44,613.46 114.88,614.12 115.32,614.76 115.76,615.41 116.21,616.06 116.66,616.71 117.11,617.36 117.57,618.02 118.04,618.69 118.52,619.38 119.01,620.08 119.50,620.80 120.01,621.55 120.54,622.33 121.08,623.14 121.63,623.97 122.19,624.80 122.75,625.64 123.31,626.48 123.87,627.30 124.42,628.10 124.96,628.87 125.49,629.61 126.00,630.30 126.49,630.95 126.96,631.58 127.41,632.19 127.85,632.77 128.29,633.33 128.72,633.87 129.15,634.40 129.59,634.91 130.04,635.40 130.51,635.88 130.99,636.34 131.50,636.80 132.03,637.24 132.57,637.65 133.13,638.04 133.69,638.41 134.27,638.77 134.86,639.11 135.45,639.45 136.05,639.78 136.66,640.10 137.27,640.43 137.88,640.76 138.50,641.10 139.12,641.44 139.74,641.77 140.37,642.10 141.00,642.43 141.64,642.75 142.29,643.07 142.94,643.39 143.60,643.71 144.26,644.03 144.93,644.35 145.61,644.67 146.30,645.00 147.03,645.34 147.81,645.71 148.64,646.09 149.49,646.47 150.34,646.86 151.19,647.24 152.01,647.61 152.78,647.96 153.50,648.28 154.13,648.56 154.67,648.81 155.10,649.00" fill="none" stroke="#4f95d2" stroke-width="1.5" stroke-linecap="round" stroke-linejoin="round"/>
<line x1="106.79" y1="601.45" x2="102.38" y2="604.39" stroke="#4f95d2" stroke-width="1.45"/><line x1="108.50" y1="604.03" x2="104.06" y2="606.93" stroke="#4f95d2" stroke-width="1.45"/><line x1="110.17" y1="606.65" x2="105.66" y2="609.44" stroke="#4f95d2" stroke-width="1.45"/><line x1="111.79" y1="609.29" x2="107.27" y2="612.06" stroke="#4f95d2" stroke-width="1.45"/><line x1="113.43" y1="611.92" x2="108.97" y2="614.78" stroke="#4f95d2" stroke-width="1.45"/><line x1="115.14" y1="614.51" x2="110.75" y2="617.48" stroke="#4f95d2" stroke-width="1.45"/><line x1="116.90" y1="617.06" x2="112.55" y2="620.09" stroke="#4f95d2" stroke-width="1.45"/><line x1="118.67" y1="619.60" x2="114.32" y2="622.62" stroke="#4f95d2" stroke-width="1.45"/><line x1="120.42" y1="622.16" x2="116.02" y2="625.12" stroke="#4f95d2" stroke-width="1.45"/><line x1="122.14" y1="624.74" x2="117.74" y2="627.68" stroke="#4f95d2" stroke-width="1.45"/><line x1="123.88" y1="627.31" x2="119.50" y2="630.30" stroke="#4f95d2" stroke-width="1.45"/><line x1="125.66" y1="629.84" x2="121.39" y2="632.97" stroke="#4f95d2" stroke-width="1.45"/><line x1="127.52" y1="632.33" x2="123.29" y2="635.53" stroke="#4f95d2" stroke-width="1.45"/><line x1="129.45" y1="634.75" x2="125.47" y2="638.24" stroke="#4f95d2" stroke-width="1.45"/><line x1="131.65" y1="636.93" x2="128.24" y2="640.99" stroke="#4f95d2" stroke-width="1.45"/><line x1="134.18" y1="638.71" x2="131.42" y2="643.24" stroke="#4f95d2" stroke-width="1.45"/><line x1="136.89" y1="640.23" x2="134.38" y2="644.89" stroke="#4f95d2" stroke-width="1.45"/><line x1="139.61" y1="641.70" x2="137.12" y2="646.38" stroke="#4f95d2" stroke-width="1.45"/><line x1="142.37" y1="643.11" x2="140.03" y2="647.86" stroke="#4f95d2" stroke-width="1.45"/><line x1="145.17" y1="644.46" x2="142.88" y2="649.24" stroke="#4f95d2" stroke-width="1.45"/><line x1="147.97" y1="645.78" x2="145.75" y2="650.59" stroke="#4f95d2" stroke-width="1.45"/><line x1="150.79" y1="647.07" x2="148.61" y2="651.90" stroke="#4f95d2" stroke-width="1.45"/><line x1="153.62" y1="648.33" x2="151.45" y2="653.17" stroke="#4f95d2" stroke-width="1.45"/>
<circle cx="178.10" cy="616.30" r="7.10" fill="#0fa199" stroke="none" stroke-width="0"/>
<circle cx="141.40" cy="630.50" r="6.60" fill="#dd2326" stroke="none" stroke-width="0"/>
<circle cx="103.00" cy="593.20" r="6.00" fill="#4a78bf" stroke="none" stroke-width="0"/>
<text transform="translate(100.40,596.20) rotate(-12)" font-size="8.5" fill="#111">P</text>
<polygon points="180.53,700.29 182.01,705.66 187.39,707.06 182.75,710.13 183.07,715.68 178.72,712.21 173.54,714.24 175.50,709.03 171.97,704.73 177.53,704.98" fill="#fff" stroke="#a0a0a0" stroke-width="0.9" stroke-linejoin="round"/>
<polygon points="169.70,699.80 179.30,698.60 173.50,703.30" fill="none" stroke="#2a2a2a" stroke-width="1.2" stroke-linejoin="round"/>
<polygon points="173.70,718.10 183.30,718.10 178.50,714.50" fill="none" stroke="#2a2a2a" stroke-width="1.2" stroke-linejoin="round"/>
<polyline points="178.20,718.60 180.50,734.50" fill="none" stroke="#8f8f8f" stroke-width="0.9"/>
<polygon points="158.90,747.60 166.30,734.50 191.20,734.50 184.40,747.60" fill="none" stroke="#8f8f8f" stroke-width="1.0"/>
<text transform="translate(46.60,660.50) scale(1,1.0)" font-size="11" font-weight="normal" text-anchor="middle" fill="#222" >full</text>
<text transform="translate(46.60,674.00) scale(1,1.0)" font-size="11" font-weight="normal" text-anchor="middle" fill="#222" >match</text>
<text transform="translate(46.60,687.90) scale(1,1.0)" font-size="11" font-weight="normal" text-anchor="middle" fill="#222" >(g2 - g19)</text>
<text transform="translate(24.20,163.80) scale(1,1.0)" font-size="11" font-weight="normal" text-anchor="end" fill="#3a3a3a" >5′-</text>
<text transform="translate(24.50,163.80) scale(1,0.78)" style="font-family:&quot;Liberation Mono&quot;,monospace" font-size="11.3" letter-spacing="-0.250" fill="#6b9fd6" xml:space="preserve">uag&#160;agg&#160;uac&#160;gug&#160;cug&#160;agg&#160;cTT</text>
<text transform="translate(201.11,163.80) scale(1,1.0)" font-size="11" font-weight="normal" text-anchor="start" fill="#3a3a3a" >-3′</text>
<text transform="translate(138.78,165.50) scale(1,1.0)" font-size="18" font-weight="bold" text-anchor="middle" fill="#c8202a" >*</text>
<text transform="translate(24.20,354.50) scale(1,1.0)" font-size="11" font-weight="normal" text-anchor="end" fill="#3a3a3a" >5′-</text>
<text transform="translate(24.50,354.50) scale(1,0.78)" style="font-family:&quot;Liberation Mono&quot;,monospace" font-size="11.3" letter-spacing="-0.250" fill="#6b9fd6" xml:space="preserve">uag&#160;agg&#160;uac&#160;gug&#160;cug&#160;agg&#160;cTT</text>
<text transform="translate(201.11,354.50) scale(1,1.0)" font-size="11" font-weight="normal" text-anchor="start" fill="#3a3a3a" >-3′</text>
<text transform="translate(138.78,354.00) scale(1,1.0)" font-size="18" font-weight="bold" text-anchor="middle" fill="#c8202a" >*</text>
<text transform="translate(11.14,377.00) scale(1,1.0)" font-size="11" font-weight="normal" text-anchor="end" fill="#3a3a3a" >3′-</text>
<text transform="translate(11.44,377.00) scale(1,0.78)" style="font-family:&quot;Liberation Mono&quot;,monospace" font-size="11.3" letter-spacing="-0.250" fill="#df5f5a" xml:space="preserve">TTauc&#160;ucc&#160;auc&#160;aca&#160;aca&#160;caa&#160;a</text>
<text transform="translate(188.05,377.00) scale(1,1.0)" font-size="11" font-weight="normal" text-anchor="start" fill="#3a3a3a" >-5′</text>
<line x1="27.77" y1="359.85" x2="27.77" y2="368.45" stroke="#8a8a8a" stroke-width="0.9" stroke-dasharray="1.1,1.1"/>
<line x1="34.30" y1="359.65" x2="34.30" y2="368.65" stroke="#8a8a8a" stroke-width="1.0"/><line x1="40.83" y1="359.65" x2="40.83" y2="368.65" stroke="#8a8a8a" stroke-width="1.0"/><line x1="53.89" y1="359.65" x2="53.89" y2="368.65" stroke="#8a8a8a" stroke-width="1.0"/><line x1="60.41" y1="359.65" x2="60.41" y2="368.65" stroke="#8a8a8a" stroke-width="1.0"/><line x1="66.94" y1="359.65" x2="66.94" y2="368.65" stroke="#8a8a8a" stroke-width="1.0"/><line x1="80.00" y1="359.65" x2="80.00" y2="368.65" stroke="#8a8a8a" stroke-width="1.0"/><line x1="86.53" y1="359.65" x2="86.53" y2="368.65" stroke="#8a8a8a" stroke-width="1.0"/><path d="M90.97,361.85 L95.16,366.65 M95.16,361.85 L90.97,366.65 M90.06,361.85 h1.8 M94.27,361.85 h1.8 M90.06,366.65 h1.8 M94.27,366.65 h1.8" stroke="#8a8a8a" stroke-width="0.8" fill="none"/><path d="M104.03,361.85 L108.22,366.65 M108.22,361.85 L104.03,366.65 M103.12,361.85 h1.8 M107.33,361.85 h1.8 M103.12,366.65 h1.8 M107.33,366.65 h1.8" stroke="#8a8a8a" stroke-width="0.8" fill="none"/><path d="M110.56,361.85 L114.75,366.65 M114.75,361.85 L110.56,366.65 M109.66,361.85 h1.8 M113.86,361.85 h1.8 M109.66,366.65 h1.8 M113.86,366.65 h1.8" stroke="#8a8a8a" stroke-width="0.8" fill="none"/><path d="M117.09,361.85 L121.28,366.65 M121.28,361.85 L117.09,366.65 M116.19,361.85 h1.8 M120.39,361.85 h1.8 M116.19,366.65 h1.8 M120.39,366.65 h1.8" stroke="#8a8a8a" stroke-width="0.8" fill="none"/><path d="M130.15,361.85 L134.34,366.65 M134.34,361.85 L130.15,366.65 M129.25,361.85 h1.8 M133.44,361.85 h1.8 M129.25,366.65 h1.8 M133.44,366.65 h1.8" stroke="#8a8a8a" stroke-width="0.8" fill="none"/><path d="M136.68,361.85 L140.88,366.65 M140.88,361.85 L136.68,366.65 M135.78,361.85 h1.8 M139.97,361.85 h1.8 M135.78,366.65 h1.8 M139.97,366.65 h1.8" stroke="#8a8a8a" stroke-width="0.8" fill="none"/><path d="M143.21,361.85 L147.41,366.65 M147.41,361.85 L143.21,366.65 M142.31,361.85 h1.8 M146.50,361.85 h1.8 M142.31,366.65 h1.8 M146.50,366.65 h1.8" stroke="#8a8a8a" stroke-width="0.8" fill="none"/><path d="M156.27,361.85 L160.47,366.65 M160.47,361.85 L156.27,366.65 M155.37,361.85 h1.8 M159.56,361.85 h1.8 M155.37,366.65 h1.8 M159.56,366.65 h1.8" stroke="#8a8a8a" stroke-width="0.8" fill="none"/><path d="M162.80,361.85 L167.00,366.65 M167.00,361.85 L162.80,366.65 M161.90,361.85 h1.8 M166.09,361.85 h1.8 M161.90,366.65 h1.8 M166.09,366.65 h1.8" stroke="#8a8a8a" stroke-width="0.8" fill="none"/><path d="M169.33,361.85 L173.53,366.65 M173.53,361.85 L169.33,366.65 M168.43,361.85 h1.8 M172.62,361.85 h1.8 M168.43,366.65 h1.8 M172.62,366.65 h1.8" stroke="#8a8a8a" stroke-width="0.8" fill="none"/><path d="M182.39,361.85 L186.59,366.65 M186.59,361.85 L182.39,366.65 M181.49,361.85 h1.8 M185.69,361.85 h1.8 M181.49,366.65 h1.8 M185.69,366.65 h1.8" stroke="#8a8a8a" stroke-width="0.8" fill="none"/>
<text transform="translate(24.20,557.00) scale(1,1.0)" font-size="11" font-weight="normal" text-anchor="end" fill="#3a3a3a" >5′-</text>
<text transform="translate(24.50,557.00) scale(1,0.78)" style="font-family:&quot;Liberation Mono&quot;,monospace" font-size="11.3" letter-spacing="-0.250" fill="#6b9fd6" xml:space="preserve">uag&#160;agg&#160;uac&#160;gug&#160;cug&#160;agg&#160;cTT</text>
<text transform="translate(201.11,557.00) scale(1,1.0)" font-size="11" font-weight="normal" text-anchor="start" fill="#3a3a3a" >-3′</text>
<text transform="translate(138.78,556.40) scale(1,1.0)" font-size="18" font-weight="bold" text-anchor="middle" fill="#c8202a" >*</text>
<text transform="translate(24.20,577.10) scale(1,1.0)" font-size="11" font-weight="normal" text-anchor="end" fill="#3a3a3a" >3′-</text>
<text transform="translate(24.50,577.10) scale(1,0.78)" style="font-family:&quot;Liberation Mono&quot;,monospace" font-size="11.3" letter-spacing="-0.250" fill="#df5f5a" xml:space="preserve">auc&#160;ucc&#160;auc&#160;acg&#160;gac&#160;ucc&#160;g</text>
<line x1="27.77" y1="561.15" x2="27.77" y2="569.75" stroke="#8a8a8a" stroke-width="0.9" stroke-dasharray="1.1,1.1"/>
<line x1="34.30" y1="560.95" x2="34.30" y2="569.95" stroke="#8a8a8a" stroke-width="1.0"/><line x1="40.83" y1="560.95" x2="40.83" y2="569.95" stroke="#8a8a8a" stroke-width="1.0"/><line x1="53.89" y1="560.95" x2="53.89" y2="569.95" stroke="#8a8a8a" stroke-width="1.0"/><line x1="60.41" y1="560.95" x2="60.41" y2="569.95" stroke="#8a8a8a" stroke-width="1.0"/><line x1="66.94" y1="560.95" x2="66.94" y2="569.95" stroke="#8a8a8a" stroke-width="1.0"/><line x1="80.00" y1="560.95" x2="80.00" y2="569.95" stroke="#8a8a8a" stroke-width="1.0"/><line x1="86.53" y1="560.95" x2="86.53" y2="569.95" stroke="#8a8a8a" stroke-width="1.0"/><path d="M90.97,563.15 L95.16,567.95 M95.16,563.15 L90.97,567.95 M90.06,563.15 h1.8 M94.27,563.15 h1.8 M90.06,567.95 h1.8 M94.27,567.95 h1.8" stroke="#8a8a8a" stroke-width="0.8" fill="none"/><path d="M104.03,563.15 L108.22,567.95 M108.22,563.15 L104.03,567.95 M103.12,563.15 h1.8 M107.33,563.15 h1.8 M103.12,567.95 h1.8 M107.33,567.95 h1.8" stroke="#8a8a8a" stroke-width="0.8" fill="none"/><path d="M110.56,563.15 L114.75,567.95 M114.75,563.15 L110.56,567.95 M109.66,563.15 h1.8 M113.86,563.15 h1.8 M109.66,567.95 h1.8 M113.86,567.95 h1.8" stroke="#8a8a8a" stroke-width="0.8" fill="none"/><path d="M117.09,563.15 L121.28,567.95 M121.28,563.15 L117.09,567.95 M116.19,563.15 h1.8 M120.39,563.15 h1.8 M116.19,567.95 h1.8 M120.39,567.95 h1.8" stroke="#8a8a8a" stroke-width="0.8" fill="none"/><line x1="132.25" y1="560.95" x2="132.25" y2="569.95" stroke="#8a8a8a" stroke-width="1.0"/><line x1="138.78" y1="560.95" x2="138.78" y2="569.95" stroke="#8a8a8a" stroke-width="1.0"/><line x1="145.31" y1="560.95" x2="145.31" y2="569.95" stroke="#8a8a8a" stroke-width="1.0"/><line x1="158.37" y1="560.95" x2="158.37" y2="569.95" stroke="#8a8a8a" stroke-width="1.0"/><line x1="164.90" y1="560.95" x2="164.90" y2="569.95" stroke="#8a8a8a" stroke-width="1.0"/><line x1="171.43" y1="560.95" x2="171.43" y2="569.95" stroke="#8a8a8a" stroke-width="1.0"/><line x1="184.49" y1="560.95" x2="184.49" y2="569.95" stroke="#8a8a8a" stroke-width="1.0"/>
<text transform="translate(24.20,759.20) scale(1,1.0)" font-size="11" font-weight="normal" text-anchor="end" fill="#3a3a3a" >5′-</text>
<text transform="translate(24.50,759.20) scale(1,0.78)" style="font-family:&quot;Liberation Mono&quot;,monospace" font-size="11.3" letter-spacing="-0.250" fill="#6b9fd6" xml:space="preserve">uag&#160;agg&#160;uac&#160;gug&#160;cug&#160;agg&#160;cTT</text>
<text transform="translate(201.11,759.20) scale(1,1.0)" font-size="11" font-weight="normal" text-anchor="start" fill="#3a3a3a" >-3′</text>
<text transform="translate(138.78,759.00) scale(1,1.0)" font-size="18" font-weight="bold" text-anchor="middle" fill="#c8202a" >*</text>
<text transform="translate(24.20,779.30) scale(1,1.0)" font-size="11" font-weight="normal" text-anchor="end" fill="#3a3a3a" >3′-</text>
<text transform="translate(24.50,779.30) scale(1,0.78)" style="font-family:&quot;Liberation Mono&quot;,monospace" font-size="11.3" letter-spacing="-0.250" fill="#df5f5a" xml:space="preserve">auc&#160;ucc&#160;aug&#160;cac&#160;gac&#160;ucc&#160;g</text>
<line x1="27.77" y1="763.35" x2="27.77" y2="771.95" stroke="#8a8a8a" stroke-width="0.9" stroke-dasharray="1.1,1.1"/>
<line x1="34.30" y1="763.15" x2="34.30" y2="772.15" stroke="#8a8a8a" stroke-width="1.0"/><line x1="40.83" y1="763.15" x2="40.83" y2="772.15" stroke="#8a8a8a" stroke-width="1.0"/><line x1="53.89" y1="763.15" x2="53.89" y2="772.15" stroke="#8a8a8a" stroke-width="1.0"/><line x1="60.41" y1="763.15" x2="60.41" y2="772.15" stroke="#8a8a8a" stroke-width="1.0"/><line x1="66.94" y1="763.15" x2="66.94" y2="772.15" stroke="#8a8a8a" stroke-width="1.0"/><line x1="80.00" y1="763.15" x2="80.00" y2="772.15" stroke="#8a8a8a" stroke-width="1.0"/><line x1="86.53" y1="763.15" x2="86.53" y2="772.15" stroke="#8a8a8a" stroke-width="1.0"/><line x1="93.06" y1="763.15" x2="93.06" y2="772.15" stroke="#8a8a8a" stroke-width="1.0"/><line x1="106.12" y1="763.15" x2="106.12" y2="772.15" stroke="#8a8a8a" stroke-width="1.0"/><line x1="112.66" y1="763.15" x2="112.66" y2="772.15" stroke="#8a8a8a" stroke-width="1.0"/><line x1="119.19" y1="763.15" x2="119.19" y2="772.15" stroke="#8a8a8a" stroke-width="1.0"/><line x1="132.25" y1="763.15" x2="132.25" y2="772.15" stroke="#8a8a8a" stroke-width="1.0"/><line x1="138.78" y1="763.15" x2="138.78" y2="772.15" stroke="#8a8a8a" stroke-width="1.0"/><line x1="145.31" y1="763.15" x2="145.31" y2="772.15" stroke="#8a8a8a" stroke-width="1.0"/><line x1="158.37" y1="763.15" x2="158.37" y2="772.15" stroke="#8a8a8a" stroke-width="1.0"/><line x1="164.90" y1="763.15" x2="164.90" y2="772.15" stroke="#8a8a8a" stroke-width="1.0"/><line x1="171.43" y1="763.15" x2="171.43" y2="772.15" stroke="#8a8a8a" stroke-width="1.0"/><line x1="184.49" y1="763.15" x2="184.49" y2="772.15" stroke="#8a8a8a" stroke-width="1.0"/>
<path d="M189.3,575.20 C198,576.00 204,582.00 209.5,586.20 C213,588.50 216.5,587.50 218.5,584.60" fill="none" stroke="#c2141c" stroke-width="2.5" stroke-linecap="round"/>
<text transform="translate(223.30,589.00) scale(1,1.0)" font-size="11" font-weight="normal" text-anchor="start" fill="#444" >5′</text>
<path d="M189.3,778.60 C198,779.40 204,785.40 209.5,789.60 C213,791.90 216.5,790.90 218.5,788.00" fill="none" stroke="#c2141c" stroke-width="2.5" stroke-linecap="round"/>
<text transform="translate(223.30,792.30) scale(1,1.0)" font-size="11" font-weight="normal" text-anchor="start" fill="#444" >5′</text>
<polygon points="651.55,241.24 652.19,240.35 653.16,239.85 654.06,239.18 655.03,238.63 656.08,238.39 657.08,238.05 658.12,238.05 659.14,238.12 660.14,237.96 661.16,238.14 662.18,238.26 663.21,238.51 664.23,238.84 665.22,238.63 666.23,238.59 667.23,238.41 668.23,238.22 669.23,238.51 670.24,238.57 671.23,238.88 672.21,239.17 673.20,239.22 674.21,239.09 675.25,238.91 676.30,238.97 677.33,239.23 678.03,240.09 678.64,240.87 679.11,241.71 679.54,242.57 680.07,243.46 679.91,244.48 679.81,245.47 679.69,246.46 679.56,247.46 680.04,248.48 680.45,249.40 680.81,250.16 681.09,250.84 681.33,251.63 681.63,252.61 681.98,253.64 682.33,254.53 682.43,255.43 682.69,256.26 682.88,257.18 683.00,258.15 683.04,259.13 682.62,260.08 682.20,260.98 681.48,261.78 680.81,262.50 680.42,263.25 679.94,263.94 679.81,264.83 679.54,265.70 679.39,266.72 679.23,267.82 678.98,268.92 678.77,270.20 678.15,271.12 677.52,272.14 676.62,272.87 675.54,273.28 674.45,273.64 673.27,273.57 672.15,273.39 671.09,273.25 670.07,273.30 669.06,273.49 668.06,273.71 667.06,273.80 666.06,273.67 665.07,273.40 664.04,272.94 663.00,272.63 661.94,272.23 660.89,272.04 659.89,272.24 658.92,272.51 657.99,273.03 657.05,273.45 656.08,273.74 655.10,273.99 654.12,274.29 653.10,274.61 652.04,274.97 650.96,275.06 649.87,275.05 648.81,274.84 647.84,274.37 646.92,273.82 646.20,272.86 645.44,272.11 644.64,271.53 643.65,271.03 643.01,269.86 643.72,268.60 644.77,267.69 645.75,267.33 646.60,266.99 647.45,266.83 648.31,266.64 649.02,266.16 649.78,265.58 650.39,264.81 650.95,263.96 651.17,262.99 651.34,262.01 651.54,261.03 651.62,260.04 651.92,259.04 652.03,258.01 652.19,256.95 652.09,255.94 651.68,254.99 651.35,254.04 650.83,253.11 650.46,252.15 650.35,251.15 650.38,250.14 650.36,249.14 650.26,248.14 650.33,247.13 650.19,246.12 650.26,245.11 650.60,244.13 650.65,243.10 651.08,242.17" fill="#d8d8d8" stroke="#7d84c2" stroke-width="1.3" stroke-linejoin="round"/>
<polygon points="636.33,225.53 638.03,226.08 638.83,227.55 638.62,229.14 638.44,230.35 638.62,231.37 639.13,232.32 640.12,232.99 641.07,233.59 642.09,233.97 643.00,234.41 643.93,234.78 644.92,235.00 645.68,235.65 646.58,236.11 647.21,236.89 647.71,237.75 648.07,238.65 648.00,239.70 648.10,240.59 648.16,241.49 648.60,242.33 649.40,243.20 649.89,244.14 650.23,245.12 650.22,246.12 650.03,247.14 650.26,248.13 650.59,249.10 651.15,250.05 651.40,251.01 651.44,252.00 651.39,253.01 651.18,254.06 651.20,255.07 651.22,256.08 651.40,257.06 651.48,258.05 651.62,259.04 651.78,260.04 651.89,261.06 652.17,262.14 652.14,263.21 652.08,264.31 651.58,265.30 650.65,266.04 649.75,266.68 648.74,267.08 647.68,267.24 646.96,267.77 646.29,268.50 645.51,269.14 644.91,270.36 644.06,271.03 643.07,271.27 642.08,271.50 640.99,271.38 639.98,271.50 639.00,271.72 638.01,271.90 637.00,271.97 635.93,271.74 634.95,271.91 633.99,272.17 633.04,272.49 632.13,273.45 631.13,273.82 630.06,274.07 628.94,274.13 627.93,273.40 627.08,272.64 626.27,272.00 625.51,271.34 624.67,270.73 623.76,270.12 623.12,269.29 622.65,268.39 622.12,267.53 621.94,266.48 621.85,265.37 621.58,264.35 621.57,263.13 621.15,262.17 620.53,261.37 619.97,260.54 619.10,259.95 618.35,259.27 617.72,258.51 617.13,257.74 616.55,256.95 616.09,256.11 615.60,255.24 615.52,254.26 616.05,253.37 616.66,252.60 617.59,252.01 618.02,251.13 618.25,250.07 618.40,248.96 618.20,247.82 618.35,246.81 618.52,245.82 618.63,244.89 618.76,244.01 619.07,243.16 619.45,242.24 620.09,241.45 621.00,241.00 621.84,240.43 622.76,240.02 623.70,239.66 624.60,239.22 625.53,238.83 626.38,238.28 627.25,237.77 628.12,237.24 628.98,236.67 630.07,236.28 630.97,235.67 631.51,234.77 631.91,233.79 631.92,232.54 632.12,231.45 632.62,230.56 633.05,229.61 633.62,228.73 634.07,227.63 634.80,226.29" fill="#b5b5b5" stroke="#6c9f3f" stroke-width="1.3" stroke-linejoin="round"/>
<polygon points="646.62,217.24 647.08,216.42 647.43,215.50 647.63,214.43 648.11,213.55 648.72,212.75 649.65,212.28 650.57,211.88 651.37,211.42 652.08,210.79 652.85,210.04 653.75,209.42 654.76,209.09 655.80,209.04 656.82,208.98 657.84,209.15 658.84,209.28 659.83,209.61 660.81,209.97 661.81,209.96 662.82,209.93 663.82,209.78 664.84,209.56 665.86,209.48 666.91,209.34 668.00,209.19 669.03,209.51 669.98,210.05 670.81,210.80 671.47,211.75 672.31,212.28 673.10,212.86 673.87,213.48 674.72,213.99 675.36,214.75 676.08,215.42 676.88,216.05 677.39,216.91 677.82,217.81 677.85,218.85 677.65,219.88 677.81,220.79 678.07,221.71 678.77,222.67 679.27,223.71 679.51,224.77 679.59,225.84 678.96,226.79 678.54,227.74 677.95,228.63 677.07,229.39 676.90,230.38 676.49,231.28 675.92,232.09 675.57,233.01 674.86,233.70 674.24,234.43 673.85,235.37 673.35,236.29 672.77,237.21 672.02,237.96 671.08,238.41 670.13,238.82 669.07,238.94 668.04,239.05 667.10,239.41 666.12,239.59 665.11,239.66 664.15,239.93 663.13,239.79 662.12,239.39 661.17,239.51 660.22,239.43 659.27,239.37 658.25,239.76 657.27,239.66 656.32,239.40 655.33,239.27 654.43,238.83 653.50,238.54 652.54,238.29 651.70,237.77 650.88,237.25 650.17,236.61 649.59,235.84 648.81,235.31 648.00,234.72 647.22,234.06 646.32,233.42 645.81,232.53 645.43,231.59 645.11,230.62 644.99,229.58 644.83,228.59 644.86,227.58 644.84,226.62 644.91,225.68 644.88,224.71 644.47,223.66 644.42,222.66 644.18,221.63 644.19,220.62 644.75,219.66 645.15,218.72 646.00,217.98" fill="#f2c9e3" stroke="#c070b3" stroke-width="1.3" stroke-linejoin="round"/>
<polygon points="619.40,211.40 620.41,211.45 621.26,211.45 622.01,210.85 622.88,210.37 623.80,209.93 624.74,209.39 625.74,209.30 626.73,209.21 627.73,209.16 628.76,209.48 629.73,209.57 630.58,209.73 631.29,209.99 631.97,210.29 632.33,211.01 632.86,211.71 633.10,212.60 633.50,213.50 633.97,214.41 634.05,215.41 634.61,216.33 635.14,217.26 635.64,218.20 636.19,219.12 635.96,220.15 635.27,221.29 634.90,222.42 634.63,223.67 635.15,224.77 636.29,225.40 637.42,225.71 638.49,225.78 639.55,225.83 639.96,226.55 639.20,227.17 638.60,227.86 637.83,228.51 636.99,229.15 636.10,229.50 635.23,229.62 634.61,230.09 634.29,230.85 634.33,231.78 634.27,232.77 634.07,233.79 633.85,234.84 633.15,235.65 632.51,236.49 631.64,237.09 630.57,237.28 629.53,237.39 628.32,237.06 627.24,237.03 626.29,237.38 625.51,238.19 624.83,239.15 624.15,240.05 623.29,240.58 622.22,240.63 621.26,240.80 620.31,240.67 619.44,240.67 618.56,240.66 617.69,240.36 616.75,240.13 615.92,239.61 615.09,239.07 614.38,238.38 613.61,237.76 612.73,237.26 611.76,236.82 610.68,236.42 609.78,235.72 608.94,234.83 608.59,233.64 608.47,232.42 608.45,231.23 608.64,230.12 608.91,229.07 609.49,228.15 610.10,227.27 610.86,226.48 611.60,225.70 612.04,224.80 612.60,223.96 613.16,223.13 613.67,222.29 614.26,221.50 614.90,220.75 615.43,219.89 615.88,218.95 616.56,218.24 617.31,217.57 617.78,216.71 618.45,215.86 618.53,214.83 618.09,213.79 618.19,212.79 618.58,211.90" fill="#a3a3a3" stroke="#e8dc1c" stroke-width="2.2" stroke-linejoin="round"/>
<polyline points="619.60,239.05 620.29,239.40 621.13,239.84 622.10,240.36 623.19,240.95 624.38,241.59 625.66,242.26 627.00,242.95 628.40,243.64 629.84,244.31 631.29,244.94 632.75,245.53 634.20,246.06 635.69,246.55 637.30,247.05 638.98,247.55 640.73,248.05 642.51,248.53 644.31,248.98 646.09,249.40 647.84,249.78 649.54,250.11 651.15,250.38 652.67,250.59 654.05,250.73 655.31,250.79 656.48,250.77 657.57,250.69 658.59,250.56 659.56,250.37 660.47,250.15 661.36,249.89 662.23,249.61 663.08,249.31 663.95,249.00 664.82,248.69 665.73,248.39 666.68,248.07 667.67,247.70 668.69,247.28 669.71,246.84 670.72,246.38 671.72,245.91 672.67,245.46 673.56,245.02 674.38,244.62 675.11,244.26 675.74,243.96 676.24,243.72" fill="none" stroke="#e8402c" stroke-width="1.3" stroke-linecap="round" stroke-linejoin="round"/>
<line x1="620.49" y1="239.50" x2="621.51" y2="235.98" stroke="#e8402c" stroke-width="1.05"/><line x1="622.52" y1="240.59" x2="623.59" y2="237.08" stroke="#e8402c" stroke-width="1.05"/><line x1="624.54" y1="241.68" x2="625.59" y2="238.16" stroke="#e8402c" stroke-width="1.05"/><line x1="626.59" y1="242.74" x2="627.57" y2="239.20" stroke="#e8402c" stroke-width="1.05"/><line x1="628.65" y1="243.75" x2="629.55" y2="240.19" stroke="#e8402c" stroke-width="1.05"/><line x1="630.74" y1="244.70" x2="631.51" y2="241.11" stroke="#e8402c" stroke-width="1.05"/><line x1="632.87" y1="245.58" x2="633.48" y2="241.96" stroke="#e8402c" stroke-width="1.05"/><line x1="635.04" y1="246.34" x2="635.48" y2="242.69" stroke="#e8402c" stroke-width="1.05"/><line x1="637.23" y1="247.03" x2="637.60" y2="243.38" stroke="#e8402c" stroke-width="1.05"/><line x1="639.44" y1="247.68" x2="639.74" y2="244.02" stroke="#e8402c" stroke-width="1.05"/><line x1="641.66" y1="248.30" x2="641.89" y2="244.63" stroke="#e8402c" stroke-width="1.05"/><line x1="643.88" y1="248.87" x2="644.05" y2="245.20" stroke="#e8402c" stroke-width="1.05"/><line x1="646.12" y1="249.40" x2="646.21" y2="245.73" stroke="#e8402c" stroke-width="1.05"/><line x1="648.37" y1="249.88" x2="648.37" y2="246.21" stroke="#e8402c" stroke-width="1.05"/><line x1="650.63" y1="250.30" x2="650.50" y2="246.63" stroke="#e8402c" stroke-width="1.05"/><line x1="652.91" y1="250.62" x2="652.60" y2="246.96" stroke="#e8402c" stroke-width="1.05"/><line x1="655.20" y1="250.78" x2="654.55" y2="247.17" stroke="#e8402c" stroke-width="1.05"/><line x1="657.50" y1="250.70" x2="656.42" y2="247.19" stroke="#e8402c" stroke-width="1.05"/><line x1="659.77" y1="250.32" x2="658.26" y2="246.97" stroke="#e8402c" stroke-width="1.05"/><line x1="661.98" y1="249.69" x2="660.17" y2="246.49" stroke="#e8402c" stroke-width="1.05"/><line x1="664.15" y1="248.93" x2="662.28" y2="245.77" stroke="#e8402c" stroke-width="1.05"/><line x1="666.33" y1="248.19" x2="664.46" y2="245.03" stroke="#e8402c" stroke-width="1.05"/><line x1="668.47" y1="247.37" x2="666.42" y2="244.32" stroke="#e8402c" stroke-width="1.05"/><line x1="670.58" y1="246.44" x2="668.42" y2="243.47" stroke="#e8402c" stroke-width="1.05"/><line x1="672.66" y1="245.46" x2="670.44" y2="242.53" stroke="#e8402c" stroke-width="1.05"/><line x1="674.72" y1="244.45" x2="672.50" y2="241.53" stroke="#e8402c" stroke-width="1.05"/>
<polyline points="617.85,233.21 618.63,233.50 619.59,233.87 620.70,234.32 621.96,234.81 623.32,235.35 624.78,235.91 626.31,236.49 627.88,237.06 629.48,237.62 631.08,238.15 632.66,238.63 634.20,239.05 635.75,239.44 637.40,239.82 639.11,240.20 640.86,240.57 642.64,240.91 644.42,241.24 646.18,241.54 647.91,241.82 649.58,242.06 651.17,242.27 652.67,242.43 654.05,242.55 655.31,242.63 656.47,242.67 657.55,242.67 658.55,242.64 659.50,242.58 660.40,242.48 661.28,242.36 662.14,242.21 663.00,242.03 663.88,241.84 664.78,241.62 665.73,241.39 666.74,241.11 667.81,240.76 668.92,240.36 670.06,239.92 671.19,239.45 672.30,238.98 673.37,238.51 674.38,238.06 675.31,237.64 676.14,237.26 676.84,236.95 677.41,236.72" fill="none" stroke="#4f95d2" stroke-width="1.3" stroke-linecap="round" stroke-linejoin="round"/>
<line x1="622.51" y1="235.03" x2="621.86" y2="238.64" stroke="#4f95d2" stroke-width="1.05"/><line x1="624.65" y1="235.86" x2="624.04" y2="239.48" stroke="#4f95d2" stroke-width="1.05"/><line x1="626.80" y1="236.67" x2="626.24" y2="240.30" stroke="#4f95d2" stroke-width="1.05"/><line x1="628.97" y1="237.44" x2="628.48" y2="241.08" stroke="#4f95d2" stroke-width="1.05"/><line x1="631.15" y1="238.17" x2="630.75" y2="241.82" stroke="#4f95d2" stroke-width="1.05"/><line x1="633.36" y1="238.82" x2="633.09" y2="242.48" stroke="#4f95d2" stroke-width="1.05"/><line x1="635.58" y1="239.40" x2="635.43" y2="243.06" stroke="#4f95d2" stroke-width="1.05"/><line x1="637.82" y1="239.92" x2="637.74" y2="243.59" stroke="#4f95d2" stroke-width="1.05"/><line x1="640.07" y1="240.40" x2="640.05" y2="244.07" stroke="#4f95d2" stroke-width="1.05"/><line x1="642.33" y1="240.85" x2="642.36" y2="244.52" stroke="#4f95d2" stroke-width="1.05"/><line x1="644.59" y1="241.27" x2="644.67" y2="244.94" stroke="#4f95d2" stroke-width="1.05"/><line x1="646.86" y1="241.65" x2="646.99" y2="245.32" stroke="#4f95d2" stroke-width="1.05"/><line x1="649.13" y1="242.00" x2="649.34" y2="245.66" stroke="#4f95d2" stroke-width="1.05"/><line x1="651.41" y1="242.29" x2="651.71" y2="245.95" stroke="#4f95d2" stroke-width="1.05"/><line x1="653.70" y1="242.52" x2="654.13" y2="246.17" stroke="#4f95d2" stroke-width="1.05"/><line x1="656.00" y1="242.66" x2="656.61" y2="246.27" stroke="#4f95d2" stroke-width="1.05"/><line x1="658.29" y1="242.65" x2="659.16" y2="246.22" stroke="#4f95d2" stroke-width="1.05"/><line x1="660.59" y1="242.46" x2="661.77" y2="245.93" stroke="#4f95d2" stroke-width="1.05"/><line x1="662.85" y1="242.07" x2="664.29" y2="245.44" stroke="#4f95d2" stroke-width="1.05"/><line x1="665.09" y1="241.55" x2="666.66" y2="244.86" stroke="#4f95d2" stroke-width="1.05"/><line x1="667.30" y1="240.92" x2="669.10" y2="244.12" stroke="#4f95d2" stroke-width="1.05"/><line x1="669.47" y1="240.14" x2="671.44" y2="243.24" stroke="#4f95d2" stroke-width="1.05"/><line x1="671.60" y1="239.28" x2="673.67" y2="242.31" stroke="#4f95d2" stroke-width="1.05"/><line x1="673.71" y1="238.36" x2="675.83" y2="241.35" stroke="#4f95d2" stroke-width="1.05"/><line x1="675.80" y1="237.41" x2="677.93" y2="240.41" stroke="#4f95d2" stroke-width="1.05"/>
<line x1="666.90" y1="209.30" x2="665.70" y2="213.40" stroke="#3a3a9c" stroke-width="1.2" />
<circle cx="668.60" cy="203.40" r="5.50" fill="#dd2326" stroke="none" stroke-width="0"/>
<text transform="translate(636.50,205.80) scale(1,1.0)" font-size="11" font-weight="normal" text-anchor="start" fill="#222" >H291</text>
<line x1="669.80" y1="249.60" x2="670.40" y2="252.50" stroke="#3a3a9c" stroke-width="1.2" />
<circle cx="672.70" cy="256.60" r="5.30" fill="#0fa199" stroke="none" stroke-width="0"/>
<text transform="translate(658.10,263.00) scale(1,1.0)" font-size="10.5" font-weight="normal" text-anchor="start" fill="#222" >t4</text>
<circle cx="616.10" cy="231.50" r="4.70" fill="#4a78bf" stroke="none" stroke-width="0"/>
<text transform="translate(613.50,234.50) rotate(-12)" font-size="7" fill="#111">P</text>
<line x1="644.97" y1="272.32" x2="650.40" y2="276.00" stroke="#6e4f3c" stroke-width="1.3" stroke-linecap="round"/>
<line x1="654.82" y1="271.95" x2="650.40" y2="276.00" stroke="#6e4f3c" stroke-width="1.3" stroke-linecap="round"/>
<line x1="650.40" y1="276.00" x2="650.40" y2="284.56" stroke="#6e4f3c" stroke-width="1.3" />
<line x1="650.40" y1="284.56" x2="646.26" y2="288.88" stroke="#6e4f3c" stroke-width="1.3" stroke-linecap="round"/>
<line x1="641.02" y1="284.92" x2="646.26" y2="288.88" stroke="#6e4f3c" stroke-width="1.3" stroke-linecap="round"/>
<line x1="646.26" y1="288.88" x2="646.26" y2="297.16" stroke="#6e4f3c" stroke-width="1.3" />
<polygon points="651.39,298.25 652.71,302.53 657.08,303.53 653.41,306.10 653.81,310.57 650.23,307.88 646.11,309.64 647.56,305.40 644.61,302.02 649.09,302.09" fill="#fff" stroke="#a0a0a0" stroke-width="0.9" stroke-linejoin="round"/>
<polygon points="642.50,298.30 650.50,297.50 646.50,301.00" fill="none" stroke="#2a2a2a" stroke-width="1.2" stroke-linejoin="round"/>
<polygon points="646.00,310.50 653.60,310.50 649.80,308.40" fill="none" stroke="#2a2a2a" stroke-width="1.2" stroke-linejoin="round"/>
<polyline points="650,311.2 651.3,321.8 647.3,327.6" fill="none" stroke="#8f8f8f" stroke-width="0.9"/>
<polygon points="633.20,331.10 639.00,321.80 660.60,321.80 654.40,331.10" fill="none" stroke="#8f8f8f" stroke-width="1.0"/>
</svg></body></html>
